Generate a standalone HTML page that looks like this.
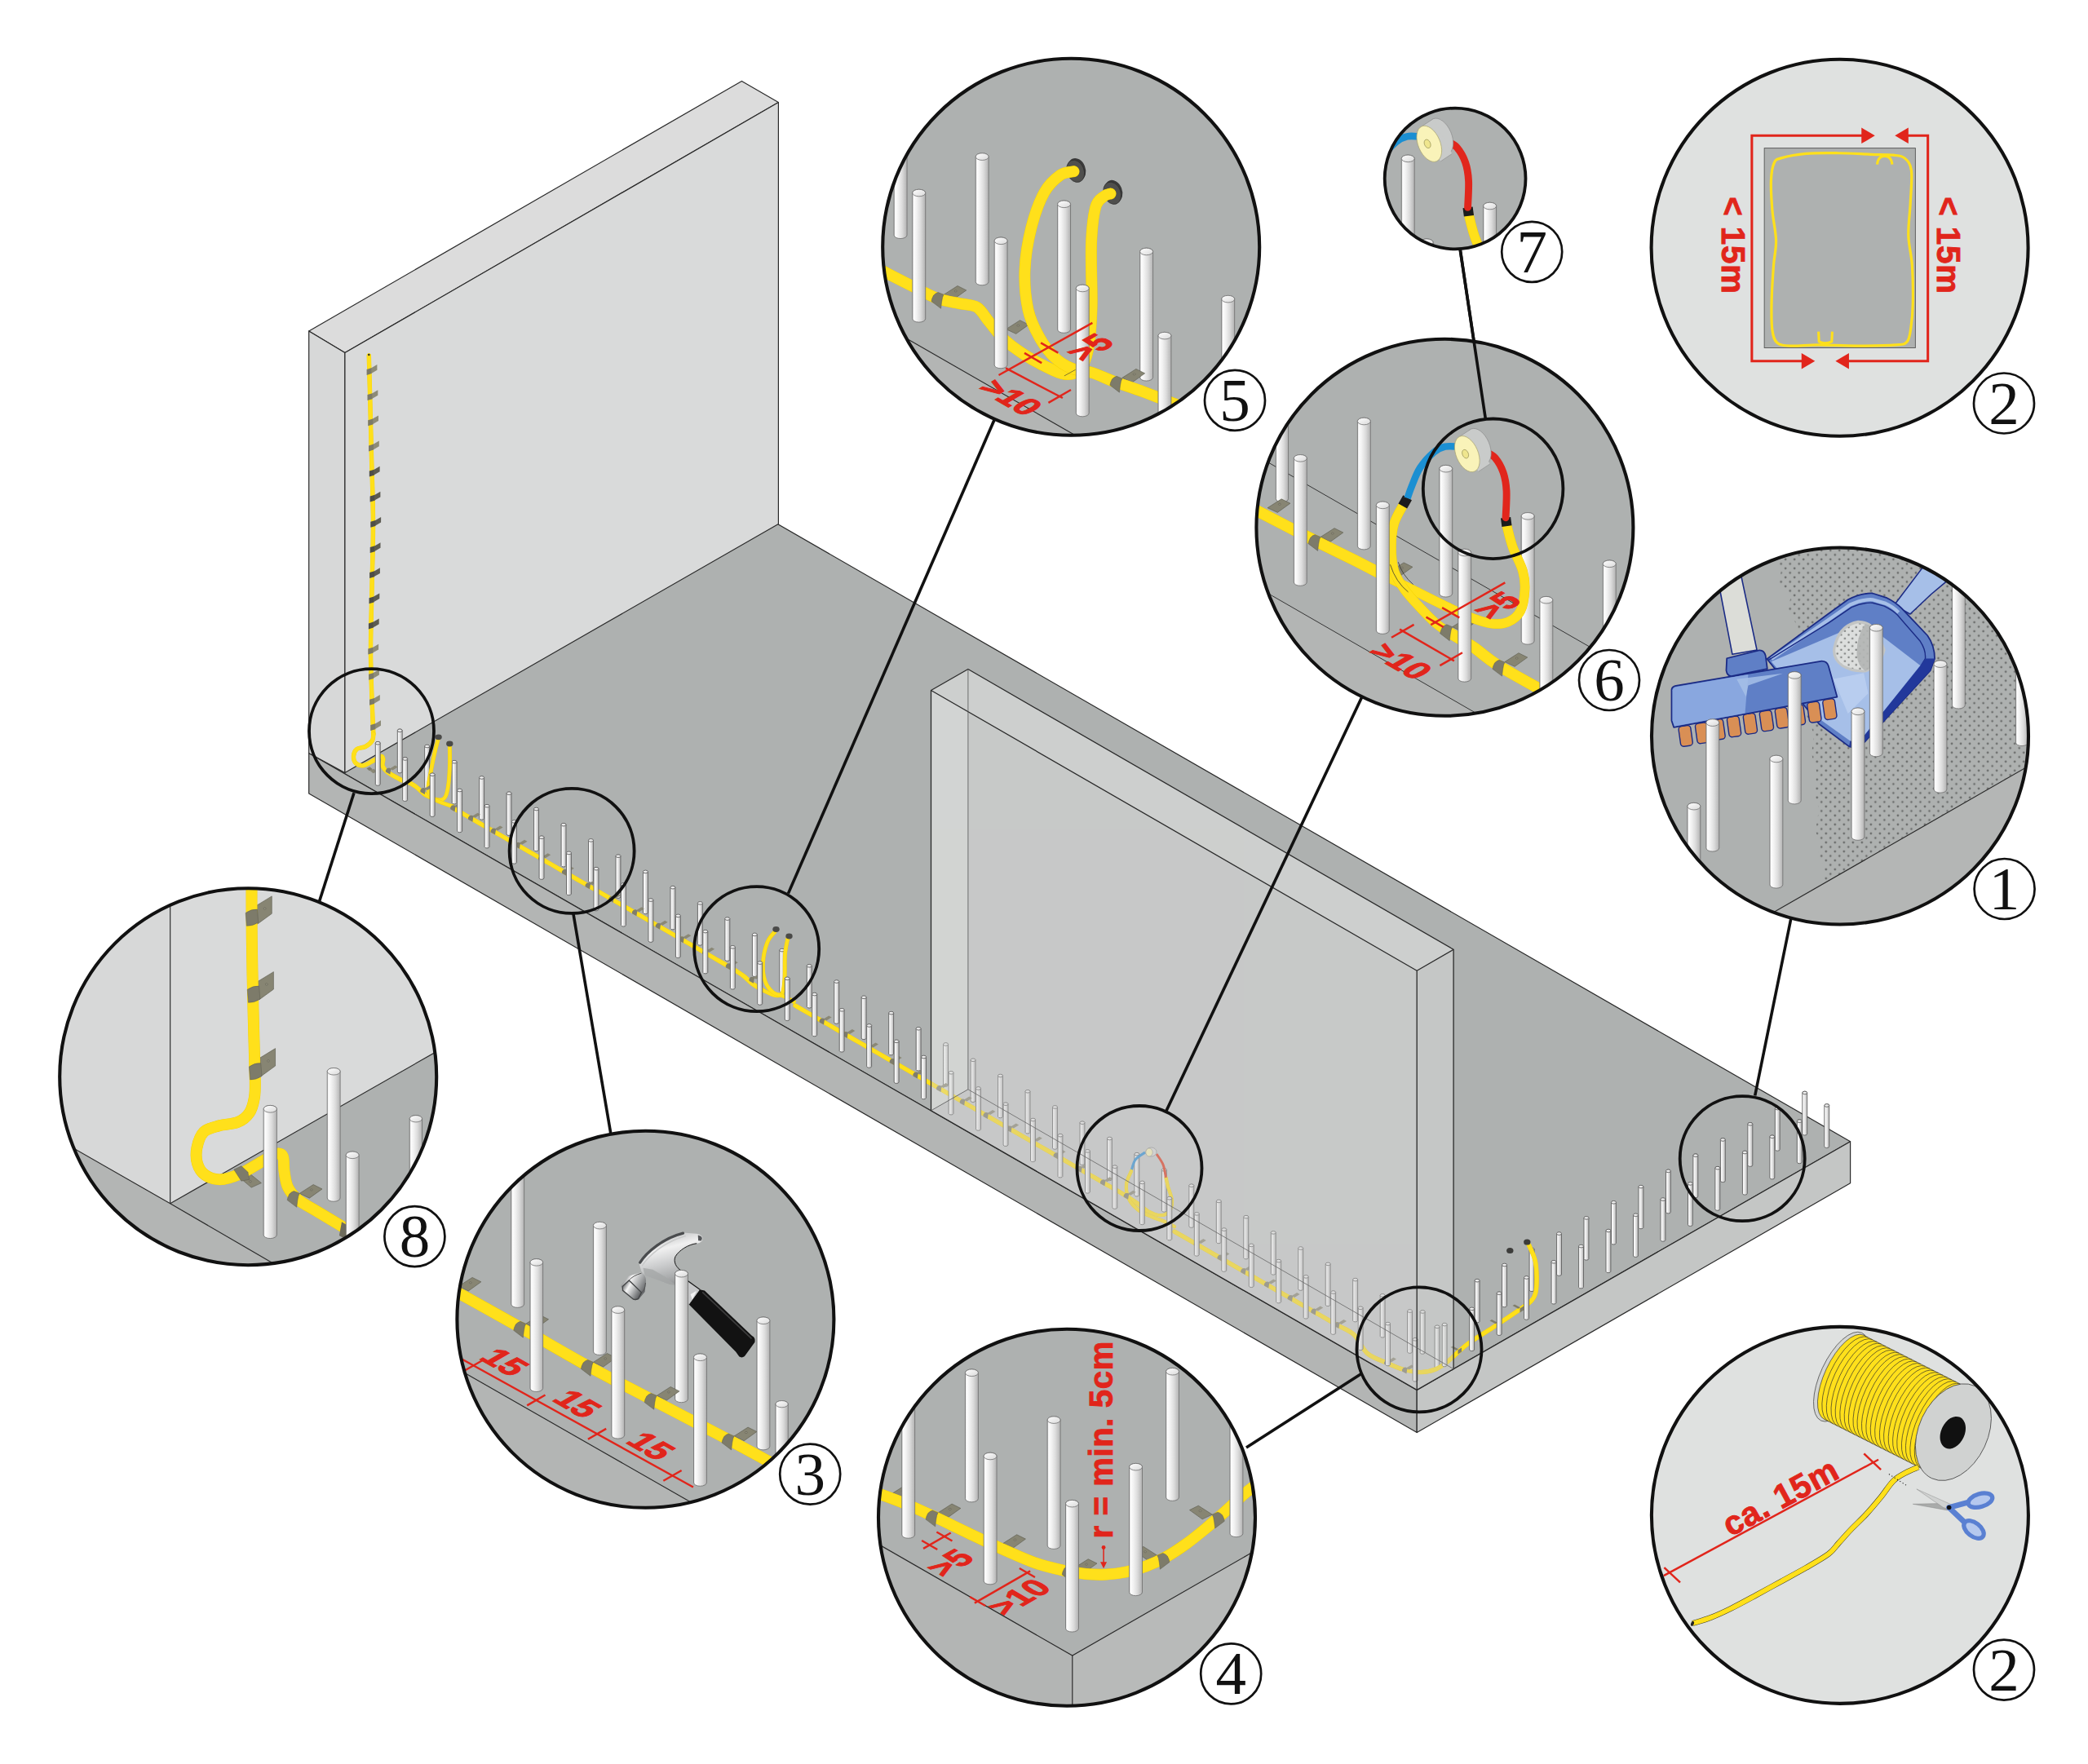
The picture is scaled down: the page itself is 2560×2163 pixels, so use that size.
<!DOCTYPE html>
<html><head><meta charset="utf-8"><title>Installation diagram</title>
<style>html,body{margin:0;padding:0;background:#fff;}body{width:2560px;height:2163px;overflow:hidden;font-family:"Liberation Sans",sans-serif;}</style></head>
<body>
<svg width="2560" height="2163" viewBox="0 0 2560 2163" style="display:block">
<defs>
<linearGradient id="rg" x1="0" x2="1" y1="0" y2="0">
<stop offset="0" stop-color="#d2d2d2"/><stop offset="0.1" stop-color="#fdfdfd"/><stop offset="0.32" stop-color="#f2f2f2"/><stop offset="0.62" stop-color="#dcdcdc"/><stop offset="1" stop-color="#b2b2b2"/>
</linearGradient>
<linearGradient id="rt" x1="0" x2="1" y1="0" y2="1">
<stop offset="0" stop-color="#ffffff"/><stop offset="1" stop-color="#d9d9d9"/>
</linearGradient>
<pattern id="dots" width="13" height="13" patternUnits="userSpaceOnUse" patternTransform="rotate(30)">
<rect width="13" height="13" fill="#bfc2c1"/><circle cx="3" cy="3" r="1.9" fill="#7c7e7d"/><circle cx="9.5" cy="9.5" r="1.9" fill="#7c7e7d"/>
</pattern>
<pattern id="dots2" width="11" height="11" patternUnits="userSpaceOnUse" patternTransform="rotate(30)">
<rect width="11" height="11" fill="#dcdedd"/><circle cx="3" cy="3" r="1.5" fill="#8a8c8b"/><circle cx="8.5" cy="8.5" r="1.5" fill="#8a8c8b"/>
</pattern>
<clipPath id="cp8"><circle cx="304.2" cy="1320.2" r="231"/></clipPath>
<clipPath id="cp3"><circle cx="791.4" cy="1617.8" r="231"/></clipPath>
<clipPath id="cp4"><circle cx="1308" cy="1860.8" r="231"/></clipPath>
<clipPath id="cp5"><circle cx="1313.2" cy="302.8" r="231"/></clipPath>
<clipPath id="cp6"><circle cx="1771.4" cy="646.8" r="231"/></clipPath>
<clipPath id="cp2t"><circle cx="2255.6" cy="303.8" r="231"/></clipPath>
<clipPath id="cp1"><circle cx="2256" cy="902.5" r="231"/></clipPath>
<clipPath id="cp2b"><circle cx="2255.9" cy="1857.9" r="231"/></clipPath>
<clipPath id="cp7"><circle cx="1784.1" cy="219" r="86.4"/></clipPath>
</defs>
<polygon points="378.7,923.5 1737.2,1704.4 2268.6,1399.8 910,617.6" fill="#aeb1b0" stroke="#2a2a2a" stroke-width="1.2" stroke-linejoin="round" />
<polygon points="378.7,923.5 1737.2,1704.4 1737.2,1756.5 378.7,972.9" fill="#b3b5b4" stroke="#2a2a2a" stroke-width="1.2" stroke-linejoin="round" />
<polygon points="1737.2,1704.4 2268.6,1399.8 2268.6,1450.8 1737.2,1756.5" fill="#c4c6c5" stroke="#2a2a2a" stroke-width="1.2" stroke-linejoin="round" />
<polygon points="378.7,405.9 909.4,99.4 954.4,125.6 422.9,432.5" fill="#dcdcdc" stroke="#2a2a2a" stroke-width="1.2" stroke-linejoin="round" />
<polygon points="378.7,405.9 422.9,432.5 422.9,947.5 378.7,923.5" fill="#d7d8d8" stroke="#2a2a2a" stroke-width="1.2" stroke-linejoin="round" />
<polygon points="422.9,432.5 954.4,125.6 954.4,642.4 422.9,947.5" fill="#d9dada" stroke="#2a2a2a" stroke-width="1.2" stroke-linejoin="round" />
<path d="M452.3,436C452.5,443.3 453,459.3 453.5,480C454,500.7 454.8,533.3 455.5,560C456.2,586.7 457.4,613.3 457.5,640C457.6,666.7 456.5,693.3 456,720C455.5,746.7 454.4,775 454.5,800C454.6,825 455.9,853.3 456.5,870C457.1,886.7 457.6,895 457.8,900" fill="none" stroke="#f7d200" stroke-width="5.4" stroke-linecap="round" stroke-linejoin="round" /><path d="M452.3,436C452.5,443.3 453,459.3 453.5,480C454,500.7 454.8,533.3 455.5,560C456.2,586.7 457.4,613.3 457.5,640C457.6,666.7 456.5,693.3 456,720C455.5,746.7 454.4,775 454.5,800C454.6,825 455.9,853.3 456.5,870C457.1,886.7 457.6,895 457.8,900" fill="none" stroke="#ffe01b" stroke-width="4.8" stroke-linecap="round" stroke-linejoin="round" />
<circle cx="452.3" cy="435" r="1.2" fill="#222"/>
<g transform="translate(452.8,455.3)"><polygon points="2.4,-4 9.6,-8.2 9.6,-1.6 2.4,2.6" fill="#8d8b78"/><polygon points="-3.2,-2.4 2.8,-4.2 2.8,2.8 -3.2,4.6" fill="#7c7a68"/></g>
<g transform="translate(453.7,486.4)"><polygon points="2.4,-4 9.6,-8.2 9.6,-1.6 2.4,2.6" fill="#8d8b78"/><polygon points="-3.2,-2.4 2.8,-4.2 2.8,2.8 -3.2,4.6" fill="#7c7a68"/></g>
<g transform="translate(454.4,517.6)"><polygon points="2.4,-4 9.6,-8.2 9.6,-1.6 2.4,2.6" fill="#8d8b78"/><polygon points="-3.2,-2.4 2.8,-4.2 2.8,2.8 -3.2,4.6" fill="#7c7a68"/></g>
<g transform="translate(455.2,548.8)"><polygon points="2.4,-4 9.6,-8.2 9.6,-1.6 2.4,2.6" fill="#8d8b78"/><polygon points="-3.2,-2.4 2.8,-4.2 2.8,2.8 -3.2,4.6" fill="#7c7a68"/></g>
<g transform="translate(456,579.9)"><polygon points="2.4,-4 9.6,-8.2 9.6,-1.6 2.4,2.6" fill="#5c5b52"/><polygon points="-3.2,-2.4 2.8,-4.2 2.8,2.8 -3.2,4.6" fill="#4e4e48"/></g>
<g transform="translate(456.8,611)"><polygon points="2.4,-4 9.6,-8.2 9.6,-1.6 2.4,2.6" fill="#5c5b52"/><polygon points="-3.2,-2.4 2.8,-4.2 2.8,2.8 -3.2,4.6" fill="#4e4e48"/></g>
<g transform="translate(457.5,642.2)"><polygon points="2.4,-4 9.6,-8.2 9.6,-1.6 2.4,2.6" fill="#5c5b52"/><polygon points="-3.2,-2.4 2.8,-4.2 2.8,2.8 -3.2,4.6" fill="#4e4e48"/></g>
<g transform="translate(456.9,673.4)"><polygon points="2.4,-4 9.6,-8.2 9.6,-1.6 2.4,2.6" fill="#5c5b52"/><polygon points="-3.2,-2.4 2.8,-4.2 2.8,2.8 -3.2,4.6" fill="#4e4e48"/></g>
<g transform="translate(456.3,704.5)"><polygon points="2.4,-4 9.6,-8.2 9.6,-1.6 2.4,2.6" fill="#5c5b52"/><polygon points="-3.2,-2.4 2.8,-4.2 2.8,2.8 -3.2,4.6" fill="#4e4e48"/></g>
<g transform="translate(455.7,735.6)"><polygon points="2.4,-4 9.6,-8.2 9.6,-1.6 2.4,2.6" fill="#5c5b52"/><polygon points="-3.2,-2.4 2.8,-4.2 2.8,2.8 -3.2,4.6" fill="#4e4e48"/></g>
<g transform="translate(455.1,766.8)"><polygon points="2.4,-4 9.6,-8.2 9.6,-1.6 2.4,2.6" fill="#5c5b52"/><polygon points="-3.2,-2.4 2.8,-4.2 2.8,2.8 -3.2,4.6" fill="#4e4e48"/></g>
<g transform="translate(454.5,798)"><polygon points="2.4,-4 9.6,-8.2 9.6,-1.6 2.4,2.6" fill="#8d8b78"/><polygon points="-3.2,-2.4 2.8,-4.2 2.8,2.8 -3.2,4.6" fill="#7c7a68"/></g>
<g transform="translate(455.3,829.1)"><polygon points="2.4,-4 9.6,-8.2 9.6,-1.6 2.4,2.6" fill="#8d8b78"/><polygon points="-3.2,-2.4 2.8,-4.2 2.8,2.8 -3.2,4.6" fill="#7c7a68"/></g>
<g transform="translate(456.2,860.2)"><polygon points="2.4,-4 9.6,-8.2 9.6,-1.6 2.4,2.6" fill="#8d8b78"/><polygon points="-3.2,-2.4 2.8,-4.2 2.8,2.8 -3.2,4.6" fill="#7c7a68"/></g>
<g transform="translate(457.4,891.4)"><polygon points="2.4,-4 9.6,-8.2 9.6,-1.6 2.4,2.6" fill="#8d8b78"/><polygon points="-3.2,-2.4 2.8,-4.2 2.8,2.8 -3.2,4.6" fill="#7c7a68"/></g>
<g><path d="M487.3,895.8 L487.3,946 A2.9,1.8 0 0 0 493.2,946 L493.2,895.8 A2.9,1.8 0 0 0 487.3,895.8 Z" fill="url(#rg)" stroke="#5c5c5c" stroke-width="0.85"/><ellipse cx="490.2" cy="895.8" rx="2.9" ry="1.8" fill="url(#rt)" stroke="#5c5c5c" stroke-width="0.85"/></g>
<g><path d="M520.7,915 L520.7,965.3 A3,1.8 0 0 0 526.6,965.3 L526.6,915 A3,1.8 0 0 0 520.7,915 Z" fill="url(#rg)" stroke="#5c5c5c" stroke-width="0.85"/><ellipse cx="523.7" cy="915" rx="3" ry="1.8" fill="url(#rt)" stroke="#5c5c5c" stroke-width="0.85"/></g>
<g><path d="M554.2,934.2 L554.2,984.5 A3,1.8 0 0 0 560.1,984.5 L560.1,934.2 A3,1.8 0 0 0 554.2,934.2 Z" fill="url(#rg)" stroke="#5c5c5c" stroke-width="0.85"/><ellipse cx="557.1" cy="934.2" rx="3" ry="1.8" fill="url(#rt)" stroke="#5c5c5c" stroke-width="0.85"/></g>
<g><path d="M587.7,953.5 L587.7,1003.7 A3,1.8 0 0 0 593.6,1003.7 L593.6,953.5 A3,1.8 0 0 0 587.7,953.5 Z" fill="url(#rg)" stroke="#5c5c5c" stroke-width="0.85"/><ellipse cx="590.6" cy="953.5" rx="3" ry="1.8" fill="url(#rt)" stroke="#5c5c5c" stroke-width="0.85"/></g>
<g><path d="M621.1,972.7 L621.1,1023 A3,1.8 0 0 0 627,1023 L627,972.7 A3,1.8 0 0 0 621.1,972.7 Z" fill="url(#rg)" stroke="#5c5c5c" stroke-width="0.85"/><ellipse cx="624.1" cy="972.7" rx="3" ry="1.8" fill="url(#rt)" stroke="#5c5c5c" stroke-width="0.85"/></g>
<g><path d="M654.6,992 L654.6,1042.2 A3,1.8 0 0 0 660.5,1042.2 L660.5,992 A3,1.8 0 0 0 654.6,992 Z" fill="url(#rg)" stroke="#5c5c5c" stroke-width="0.85"/><ellipse cx="657.5" cy="992" rx="3" ry="1.8" fill="url(#rt)" stroke="#5c5c5c" stroke-width="0.85"/></g>
<g><path d="M688.1,1011.2 L688.1,1061.5 A3,1.8 0 0 0 694,1061.5 L694,1011.2 A3,1.8 0 0 0 688.1,1011.2 Z" fill="url(#rg)" stroke="#5c5c5c" stroke-width="0.85"/><ellipse cx="691" cy="1011.2" rx="3" ry="1.8" fill="url(#rt)" stroke="#5c5c5c" stroke-width="0.85"/></g>
<g><path d="M721.5,1030.4 L721.5,1080.7 A3,1.8 0 0 0 727.4,1080.7 L727.4,1030.4 A3,1.8 0 0 0 721.5,1030.4 Z" fill="url(#rg)" stroke="#5c5c5c" stroke-width="0.85"/><ellipse cx="724.5" cy="1030.4" rx="3" ry="1.8" fill="url(#rt)" stroke="#5c5c5c" stroke-width="0.85"/></g>
<g><path d="M755,1049.7 L755,1099.9 A3,1.8 0 0 0 760.9,1099.9 L760.9,1049.7 A3,1.8 0 0 0 755,1049.7 Z" fill="url(#rg)" stroke="#5c5c5c" stroke-width="0.85"/><ellipse cx="758" cy="1049.7" rx="3" ry="1.8" fill="url(#rt)" stroke="#5c5c5c" stroke-width="0.85"/></g>
<g><path d="M788.5,1068.9 L788.5,1119.2 A3,1.8 0 0 0 794.4,1119.2 L794.4,1068.9 A3,1.8 0 0 0 788.5,1068.9 Z" fill="url(#rg)" stroke="#5c5c5c" stroke-width="0.85"/><ellipse cx="791.4" cy="1068.9" rx="3" ry="1.8" fill="url(#rt)" stroke="#5c5c5c" stroke-width="0.85"/></g>
<g><path d="M822,1088.2 L822,1138.4 A3,1.8 0 0 0 827.9,1138.4 L827.9,1088.2 A3,1.8 0 0 0 822,1088.2 Z" fill="url(#rg)" stroke="#5c5c5c" stroke-width="0.85"/><ellipse cx="824.9" cy="1088.2" rx="3" ry="1.8" fill="url(#rt)" stroke="#5c5c5c" stroke-width="0.85"/></g>
<g><path d="M855.4,1107.4 L855.4,1157.7 A3,1.8 0 0 0 861.3,1157.7 L861.3,1107.4 A3,1.8 0 0 0 855.4,1107.4 Z" fill="url(#rg)" stroke="#5c5c5c" stroke-width="0.85"/><ellipse cx="858.4" cy="1107.4" rx="3" ry="1.8" fill="url(#rt)" stroke="#5c5c5c" stroke-width="0.85"/></g>
<g><path d="M888.9,1126.6 L888.9,1176.9 A3,1.8 0 0 0 894.8,1176.9 L894.8,1126.6 A3,1.8 0 0 0 888.9,1126.6 Z" fill="url(#rg)" stroke="#5c5c5c" stroke-width="0.85"/><ellipse cx="891.8" cy="1126.6" rx="3" ry="1.8" fill="url(#rt)" stroke="#5c5c5c" stroke-width="0.85"/></g>
<g><path d="M922.4,1145.9 L922.4,1196.1 A3,1.8 0 0 0 928.3,1196.1 L928.3,1145.9 A3,1.8 0 0 0 922.4,1145.9 Z" fill="url(#rg)" stroke="#5c5c5c" stroke-width="0.85"/><ellipse cx="925.3" cy="1145.9" rx="3" ry="1.8" fill="url(#rt)" stroke="#5c5c5c" stroke-width="0.85"/></g>
<g><path d="M955.8,1165.1 L955.8,1215.4 A3,1.8 0 0 0 961.7,1215.4 L961.7,1165.1 A3,1.8 0 0 0 955.8,1165.1 Z" fill="url(#rg)" stroke="#5c5c5c" stroke-width="0.85"/><ellipse cx="958.8" cy="1165.1" rx="3" ry="1.8" fill="url(#rt)" stroke="#5c5c5c" stroke-width="0.85"/></g>
<g><path d="M989.3,1184.3 L989.3,1234.6 A3,1.8 0 0 0 995.2,1234.6 L995.2,1184.3 A3,1.8 0 0 0 989.3,1184.3 Z" fill="url(#rg)" stroke="#5c5c5c" stroke-width="0.85"/><ellipse cx="992.2" cy="1184.3" rx="3" ry="1.8" fill="url(#rt)" stroke="#5c5c5c" stroke-width="0.85"/></g>
<g><path d="M1022.8,1203.6 L1022.8,1253.8 A3,1.8 0 0 0 1028.7,1253.8 L1028.7,1203.6 A3,1.8 0 0 0 1022.8,1203.6 Z" fill="url(#rg)" stroke="#5c5c5c" stroke-width="0.85"/><ellipse cx="1025.7" cy="1203.6" rx="3" ry="1.8" fill="url(#rt)" stroke="#5c5c5c" stroke-width="0.85"/></g>
<g><path d="M1056.2,1222.8 L1056.2,1273.1 A3,1.8 0 0 0 1062.1,1273.1 L1062.1,1222.8 A3,1.8 0 0 0 1056.2,1222.8 Z" fill="url(#rg)" stroke="#5c5c5c" stroke-width="0.85"/><ellipse cx="1059.2" cy="1222.8" rx="3" ry="1.8" fill="url(#rt)" stroke="#5c5c5c" stroke-width="0.85"/></g>
<g><path d="M1089.7,1242.1 L1089.7,1292.3 A3,1.8 0 0 0 1095.6,1292.3 L1095.6,1242.1 A3,1.8 0 0 0 1089.7,1242.1 Z" fill="url(#rg)" stroke="#5c5c5c" stroke-width="0.85"/><ellipse cx="1092.7" cy="1242.1" rx="3" ry="1.8" fill="url(#rt)" stroke="#5c5c5c" stroke-width="0.85"/></g>
<g><path d="M1123.2,1261.3 L1123.2,1311.6 A3,1.8 0 0 0 1129.1,1311.6 L1129.1,1261.3 A3,1.8 0 0 0 1123.2,1261.3 Z" fill="url(#rg)" stroke="#5c5c5c" stroke-width="0.85"/><ellipse cx="1126.1" cy="1261.3" rx="3" ry="1.8" fill="url(#rt)" stroke="#5c5c5c" stroke-width="0.85"/></g>
<g><path d="M1156.6,1280.5 L1156.6,1330.8 A3,1.8 0 0 0 1162.5,1330.8 L1162.5,1280.5 A3,1.8 0 0 0 1156.6,1280.5 Z" fill="url(#rg)" stroke="#5c5c5c" stroke-width="0.85"/><ellipse cx="1159.6" cy="1280.5" rx="3" ry="1.8" fill="url(#rt)" stroke="#5c5c5c" stroke-width="0.85"/></g>
<g><path d="M1774.7,1589.4 L1774.7,1639.6 A3,1.8 0 0 0 1780.6,1639.6 L1780.6,1589.4 A3,1.8 0 0 0 1774.7,1589.4 Z" fill="url(#rg)" stroke="#5c5c5c" stroke-width="0.85"/><ellipse cx="1777.6" cy="1589.4" rx="3" ry="1.8" fill="url(#rt)" stroke="#5c5c5c" stroke-width="0.85"/></g>
<g><path d="M1808.2,1570.2 L1808.2,1620.4 A3,1.8 0 0 0 1814.1,1620.4 L1814.1,1570.2 A3,1.8 0 0 0 1808.2,1570.2 Z" fill="url(#rg)" stroke="#5c5c5c" stroke-width="0.85"/><ellipse cx="1811.1" cy="1570.2" rx="3" ry="1.8" fill="url(#rt)" stroke="#5c5c5c" stroke-width="0.85"/></g>
<g><path d="M1841.6,1551 L1841.6,1601.3 A3,1.8 0 0 0 1847.5,1601.3 L1847.5,1551 A3,1.8 0 0 0 1841.6,1551 Z" fill="url(#rg)" stroke="#5c5c5c" stroke-width="0.85"/><ellipse cx="1844.6" cy="1551" rx="3" ry="1.8" fill="url(#rt)" stroke="#5c5c5c" stroke-width="0.85"/></g>
<g><path d="M1875.1,1531.8 L1875.1,1582.1 A3,1.8 0 0 0 1881,1582.1 L1881,1531.8 A3,1.8 0 0 0 1875.1,1531.8 Z" fill="url(#rg)" stroke="#5c5c5c" stroke-width="0.85"/><ellipse cx="1878" cy="1531.8" rx="3" ry="1.8" fill="url(#rt)" stroke="#5c5c5c" stroke-width="0.85"/></g>
<g><path d="M1908.6,1512.6 L1908.6,1562.9 A3,1.8 0 0 0 1914.5,1562.9 L1914.5,1512.6 A3,1.8 0 0 0 1908.6,1512.6 Z" fill="url(#rg)" stroke="#5c5c5c" stroke-width="0.85"/><ellipse cx="1911.5" cy="1512.6" rx="3" ry="1.8" fill="url(#rt)" stroke="#5c5c5c" stroke-width="0.85"/></g>
<g><path d="M1942,1493.4 L1942,1543.7 A3,1.8 0 0 0 1947.9,1543.7 L1947.9,1493.4 A3,1.8 0 0 0 1942,1493.4 Z" fill="url(#rg)" stroke="#5c5c5c" stroke-width="0.85"/><ellipse cx="1945" cy="1493.4" rx="3" ry="1.8" fill="url(#rt)" stroke="#5c5c5c" stroke-width="0.85"/></g>
<g><path d="M1975.5,1474.3 L1975.5,1524.5 A3,1.8 0 0 0 1981.4,1524.5 L1981.4,1474.3 A3,1.8 0 0 0 1975.5,1474.3 Z" fill="url(#rg)" stroke="#5c5c5c" stroke-width="0.85"/><ellipse cx="1978.5" cy="1474.3" rx="3" ry="1.8" fill="url(#rt)" stroke="#5c5c5c" stroke-width="0.85"/></g>
<g><path d="M2009,1455.1 L2009,1505.3 A3,1.8 0 0 0 2014.9,1505.3 L2014.9,1455.1 A3,1.8 0 0 0 2009,1455.1 Z" fill="url(#rg)" stroke="#5c5c5c" stroke-width="0.85"/><ellipse cx="2011.9" cy="1455.1" rx="3" ry="1.8" fill="url(#rt)" stroke="#5c5c5c" stroke-width="0.85"/></g>
<g><path d="M2042.5,1435.9 L2042.5,1486.1 A2.9,1.8 0 0 0 2048.3,1486.1 L2048.3,1435.9 A2.9,1.8 0 0 0 2042.5,1435.9 Z" fill="url(#rg)" stroke="#5c5c5c" stroke-width="0.85"/><ellipse cx="2045.4" cy="1435.9" rx="2.9" ry="1.8" fill="url(#rt)" stroke="#5c5c5c" stroke-width="0.85"/></g>
<g><path d="M2075.9,1416.7 L2075.9,1467 A2.9,1.8 0 0 0 2081.8,1467 L2081.8,1416.7 A2.9,1.8 0 0 0 2075.9,1416.7 Z" fill="url(#rg)" stroke="#5c5c5c" stroke-width="0.85"/><ellipse cx="2078.9" cy="1416.7" rx="2.9" ry="1.8" fill="url(#rt)" stroke="#5c5c5c" stroke-width="0.85"/></g>
<g><path d="M2109.4,1397.5 L2109.4,1447.8 A2.9,1.8 0 0 0 2115.3,1447.8 L2115.3,1397.5 A2.9,1.8 0 0 0 2109.4,1397.5 Z" fill="url(#rg)" stroke="#5c5c5c" stroke-width="0.85"/><ellipse cx="2112.3" cy="1397.5" rx="2.9" ry="1.8" fill="url(#rt)" stroke="#5c5c5c" stroke-width="0.85"/></g>
<g><path d="M2142.9,1378.3 L2142.9,1428.6 A2.9,1.8 0 0 0 2148.8,1428.6 L2148.8,1378.3 A2.9,1.8 0 0 0 2142.9,1378.3 Z" fill="url(#rg)" stroke="#5c5c5c" stroke-width="0.85"/><ellipse cx="2145.8" cy="1378.3" rx="2.9" ry="1.8" fill="url(#rt)" stroke="#5c5c5c" stroke-width="0.85"/></g>
<g><path d="M2176.3,1359.1 L2176.3,1409.4 A2.9,1.8 0 0 0 2182.2,1409.4 L2182.2,1359.1 A2.9,1.8 0 0 0 2176.3,1359.1 Z" fill="url(#rg)" stroke="#5c5c5c" stroke-width="0.85"/><ellipse cx="2179.3" cy="1359.1" rx="2.9" ry="1.8" fill="url(#rt)" stroke="#5c5c5c" stroke-width="0.85"/></g>
<g><path d="M2209.8,1340 L2209.8,1390.2 A2.9,1.8 0 0 0 2215.7,1390.2 L2215.7,1340 A2.9,1.8 0 0 0 2209.8,1340 Z" fill="url(#rg)" stroke="#5c5c5c" stroke-width="0.85"/><ellipse cx="2212.8" cy="1340" rx="2.9" ry="1.8" fill="url(#rt)" stroke="#5c5c5c" stroke-width="0.85"/></g>
<path d="M457.8,900C457.6,901.3 458.1,905.4 456.5,908C454.9,910.6 451.2,913.8 448,915.5C444.8,917.2 439.9,916.6 437.5,918.5C435.1,920.4 433.7,924.1 433.5,927C433.3,929.9 434.4,934.1 436.5,936C438.6,937.9 442.4,939.1 446,938.5C449.6,937.9 454.5,934.3 458,932.5C461.5,930.7 465,927.8 467,927.5C469,927.2 469.5,929.1 469.8,931C470.1,932.9 468.1,936.3 469,939C469.9,941.7 471.7,944.1 475.5,947C479.3,949.9 489.2,954.9 492,956.5" fill="none" stroke="#f7d200" stroke-width="5.4" stroke-linecap="round" stroke-linejoin="round" /><path d="M457.8,900C457.6,901.3 458.1,905.4 456.5,908C454.9,910.6 451.2,913.8 448,915.5C444.8,917.2 439.9,916.6 437.5,918.5C435.1,920.4 433.7,924.1 433.5,927C433.3,929.9 434.4,934.1 436.5,936C438.6,937.9 442.4,939.1 446,938.5C449.6,937.9 454.5,934.3 458,932.5C461.5,930.7 465,927.8 467,927.5C469,927.2 469.5,929.1 469.8,931C470.1,932.9 468.1,936.3 469,939C469.9,941.7 471.7,944.1 475.5,947C479.3,949.9 489.2,954.9 492,956.5" fill="none" stroke="#ffe01b" stroke-width="4.8" stroke-linecap="round" stroke-linejoin="round" />
<path d="M492,956.5C493.3,956.9 497,957.5 500,958.9C503,960.2 506.7,962.2 510,964.6C513.3,967 517.2,971.4 520,973.5C522.8,975.6 525.8,976.4 527,977" fill="none" stroke="#f7d200" stroke-width="5.4" stroke-linecap="round" stroke-linejoin="round" /><path d="M492,956.5C493.3,956.9 497,957.5 500,958.9C503,960.2 506.7,962.2 510,964.6C513.3,967 517.2,971.4 520,973.5C522.8,975.6 525.8,976.4 527,977" fill="none" stroke="#ffe01b" stroke-width="4.8" stroke-linecap="round" stroke-linejoin="round" />
<path d="M515,969.5C517,970.8 522.8,975.6 527,977.5C531.2,979.4 536.8,981.2 540,981C543.2,980.8 544.8,979.5 546.5,976C548.2,972.5 549.2,966.8 550,960C550.8,953.2 551.3,942.5 551.5,935C551.7,927.5 551.3,918.3 551.3,915" fill="none" stroke="#f7d200" stroke-width="4.8" stroke-linecap="butt" stroke-linejoin="round" /><path d="M515,969.5C517,970.8 522.8,975.6 527,977.5C531.2,979.4 536.8,981.2 540,981C543.2,980.8 544.8,979.5 546.5,976C548.2,972.5 549.2,966.8 550,960C550.8,953.2 551.3,942.5 551.5,935C551.7,927.5 551.3,918.3 551.3,915" fill="none" stroke="#ffe01b" stroke-width="4" stroke-linecap="butt" stroke-linejoin="round" />
<path d="M537.2,906.5C536.4,909.6 534.1,917.8 532.5,925C530.9,932.2 528.8,942.8 527.5,950C526.2,957.2 524.6,963.3 525,968C525.4,972.7 527.3,975.3 530,978C532.7,980.7 536.7,982.2 541,984C545.3,985.8 553.5,988.2 556,989" fill="none" stroke="#f7d200" stroke-width="4.8" stroke-linecap="butt" stroke-linejoin="round" /><path d="M537.2,906.5C536.4,909.6 534.1,917.8 532.5,925C530.9,932.2 528.8,942.8 527.5,950C526.2,957.2 524.6,963.3 525,968C525.4,972.7 527.3,975.3 530,978C532.7,980.7 536.7,982.2 541,984C545.3,985.8 553.5,988.2 556,989" fill="none" stroke="#ffe01b" stroke-width="4" stroke-linecap="butt" stroke-linejoin="round" />
<ellipse cx="537.6" cy="903.8" rx="4.2" ry="3.4" fill="#4a4a48"/>
<ellipse cx="551.3" cy="912" rx="4.2" ry="3.4" fill="#4a4a48"/>
<path d="M556,991C559.3,993 569.3,998.7 576,1002.5C582.7,1006.4 589.3,1010.2 596,1014C602.7,1017.9 609.3,1021.7 616,1025.5C622.7,1029.4 629.3,1033.2 636,1037C642.7,1040.9 649.3,1044.7 656,1048.5C662.7,1052.4 669.3,1056.2 676,1060C682.7,1063.9 689.3,1067.7 696,1071.5C702.7,1075.4 709.3,1079.2 716,1083C722.7,1086.8 729.3,1090.7 736,1094.5C742.7,1098.3 749.3,1102.2 756,1106C762.7,1109.8 769.3,1113.7 776,1117.5C782.7,1121.3 789.3,1125.2 796,1129C802.7,1132.8 809.3,1136.7 816,1140.5C822.7,1144.3 829.3,1148.2 836,1152C842.7,1155.8 849.3,1159.7 856,1163.5C862.7,1167.3 869.3,1171.2 876,1175C882.7,1178.8 890,1182.8 896,1186.5C902,1190.1 907.7,1193.7 912,1197C916.3,1200.3 918.2,1203.2 922,1206C925.8,1208.8 932.8,1212.7 935,1214" fill="none" stroke="#f7d200" stroke-width="5.4" stroke-linecap="round" stroke-linejoin="round" /><path d="M556,991C559.3,993 569.3,998.7 576,1002.5C582.7,1006.4 589.3,1010.2 596,1014C602.7,1017.9 609.3,1021.7 616,1025.5C622.7,1029.4 629.3,1033.2 636,1037C642.7,1040.9 649.3,1044.7 656,1048.5C662.7,1052.4 669.3,1056.2 676,1060C682.7,1063.9 689.3,1067.7 696,1071.5C702.7,1075.4 709.3,1079.2 716,1083C722.7,1086.8 729.3,1090.7 736,1094.5C742.7,1098.3 749.3,1102.2 756,1106C762.7,1109.8 769.3,1113.7 776,1117.5C782.7,1121.3 789.3,1125.2 796,1129C802.7,1132.8 809.3,1136.7 816,1140.5C822.7,1144.3 829.3,1148.2 836,1152C842.7,1155.8 849.3,1159.7 856,1163.5C862.7,1167.3 869.3,1171.2 876,1175C882.7,1178.8 890,1182.8 896,1186.5C902,1190.1 907.7,1193.7 912,1197C916.3,1200.3 918.2,1203.2 922,1206C925.8,1208.8 932.8,1212.7 935,1214" fill="none" stroke="#ffe01b" stroke-width="4.8" stroke-linecap="round" stroke-linejoin="round" />
<path d="M935,1214C937.5,1215.1 946,1219.8 950,1220.5C954,1221.2 957,1221.4 959,1218C961,1214.6 961.4,1208 962,1200C962.6,1192 961.8,1178.3 962.5,1170C963.2,1161.7 965.4,1153.3 966,1150" fill="none" stroke="#f7d200" stroke-width="4.8" stroke-linecap="butt" stroke-linejoin="round" /><path d="M935,1214C937.5,1215.1 946,1219.8 950,1220.5C954,1221.2 957,1221.4 959,1218C961,1214.6 961.4,1208 962,1200C962.6,1192 961.8,1178.3 962.5,1170C963.2,1161.7 965.4,1153.3 966,1150" fill="none" stroke="#ffe01b" stroke-width="4" stroke-linecap="butt" stroke-linejoin="round" />
<path d="M950.5,1142C948.9,1144.2 943.5,1148.7 941,1155C938.5,1161.3 936,1172 935.5,1180C935,1188 935.9,1196.8 938,1203C940.1,1209.2 944,1213.8 948,1217C952,1220.2 957.5,1219.9 962,1222C966.5,1224.1 972.8,1228.2 975,1229.5" fill="none" stroke="#f7d200" stroke-width="4.8" stroke-linecap="butt" stroke-linejoin="round" /><path d="M950.5,1142C948.9,1144.2 943.5,1148.7 941,1155C938.5,1161.3 936,1172 935.5,1180C935,1188 935.9,1196.8 938,1203C940.1,1209.2 944,1213.8 948,1217C952,1220.2 957.5,1219.9 962,1222C966.5,1224.1 972.8,1228.2 975,1229.5" fill="none" stroke="#ffe01b" stroke-width="4" stroke-linecap="butt" stroke-linejoin="round" />
<ellipse cx="951.5" cy="1139.5" rx="4.2" ry="3.4" fill="#4a4a48"/>
<ellipse cx="967.5" cy="1148" rx="4.2" ry="3.4" fill="#4a4a48"/>
<path d="M975,1233C978.3,1235 988.3,1240.7 995,1244.5C1001.7,1248.4 1008.3,1252.2 1015,1256C1021.7,1259.9 1028.3,1263.7 1035,1267.5C1041.7,1271.4 1048.3,1275.2 1055,1279C1061.7,1282.9 1068.3,1286.7 1075,1290.5C1081.7,1294.4 1088.3,1298.2 1095,1302C1101.7,1305.8 1108.3,1309.7 1115,1313.5C1121.7,1317.3 1128.3,1321.2 1135,1325C1141.7,1328.8 1148.3,1332.7 1155,1336.5C1161.7,1340.3 1168.3,1344.2 1175,1348C1181.7,1351.8 1188.3,1355.7 1195,1359.5C1201.7,1363.3 1208.3,1367.2 1215,1371C1221.7,1374.8 1228.3,1378.7 1235,1382.5C1241.7,1386.3 1248.3,1390.1 1255,1394C1261.7,1397.8 1268.3,1401.6 1275,1405.5C1281.7,1409.3 1288.3,1413.1 1295,1417C1301.7,1420.8 1308.3,1424.6 1315,1428.5C1321.7,1432.3 1328.3,1436.1 1335,1440C1341.7,1443.8 1348.3,1447.6 1355,1451.5C1361.7,1455.3 1368.3,1458.9 1375,1463C1381.7,1467 1390,1472.5 1395,1476C1400,1479.5 1403.3,1482.7 1405,1484" fill="none" stroke="#f7d200" stroke-width="5.4" stroke-linecap="round" stroke-linejoin="round" /><path d="M975,1233C978.3,1235 988.3,1240.7 995,1244.5C1001.7,1248.4 1008.3,1252.2 1015,1256C1021.7,1259.9 1028.3,1263.7 1035,1267.5C1041.7,1271.4 1048.3,1275.2 1055,1279C1061.7,1282.9 1068.3,1286.7 1075,1290.5C1081.7,1294.4 1088.3,1298.2 1095,1302C1101.7,1305.8 1108.3,1309.7 1115,1313.5C1121.7,1317.3 1128.3,1321.2 1135,1325C1141.7,1328.8 1148.3,1332.7 1155,1336.5C1161.7,1340.3 1168.3,1344.2 1175,1348C1181.7,1351.8 1188.3,1355.7 1195,1359.5C1201.7,1363.3 1208.3,1367.2 1215,1371C1221.7,1374.8 1228.3,1378.7 1235,1382.5C1241.7,1386.3 1248.3,1390.1 1255,1394C1261.7,1397.8 1268.3,1401.6 1275,1405.5C1281.7,1409.3 1288.3,1413.1 1295,1417C1301.7,1420.8 1308.3,1424.6 1315,1428.5C1321.7,1432.3 1328.3,1436.1 1335,1440C1341.7,1443.8 1348.3,1447.6 1355,1451.5C1361.7,1455.3 1368.3,1458.9 1375,1463C1381.7,1467 1390,1472.5 1395,1476C1400,1479.5 1403.3,1482.7 1405,1484" fill="none" stroke="#ffe01b" stroke-width="4.8" stroke-linecap="round" stroke-linejoin="round" />
<path d="M1405,1484C1407.5,1485 1415.5,1489.5 1420,1490C1424.5,1490.5 1429.2,1489.8 1432,1487C1434.8,1484.2 1437,1478.3 1437,1473C1437,1467.7 1433.2,1459.8 1432,1455C1430.8,1450.2 1429.9,1445.8 1429.5,1444" fill="none" stroke="#f7d200" stroke-width="4.2" stroke-linecap="round" stroke-linejoin="round" /><path d="M1405,1484C1407.5,1485 1415.5,1489.5 1420,1490C1424.5,1490.5 1429.2,1489.8 1432,1487C1434.8,1484.2 1437,1478.3 1437,1473C1437,1467.7 1433.2,1459.8 1432,1455C1430.8,1450.2 1429.9,1445.8 1429.5,1444" fill="none" stroke="#ffe01b" stroke-width="3.6" stroke-linecap="round" stroke-linejoin="round" />
<path d="M1429.5,1444C1428.9,1441.3 1427.9,1432.8 1426,1428C1424.1,1423.2 1419.3,1417.2 1418,1415" fill="none" stroke="#e03a1e" stroke-width="3" stroke-linecap="butt" stroke-linejoin="round" />
<path d="M1387,1436C1387.8,1433.7 1389.2,1425.8 1392,1422C1394.8,1418.2 1402,1414.5 1404,1413" fill="none" stroke="#2f8fd6" stroke-width="3" stroke-linecap="butt" stroke-linejoin="round" />
<path d="M1387,1436C1386,1438.7 1381.5,1446.3 1381,1452C1380.5,1457.7 1381.5,1464.7 1384,1470C1386.5,1475.3 1391.3,1480.3 1396,1484C1400.7,1487.7 1406.7,1489.7 1412,1492C1417.3,1494.3 1423.3,1496 1428,1498C1432.7,1500 1438,1503 1440,1504" fill="none" stroke="#f7d200" stroke-width="4.2" stroke-linecap="round" stroke-linejoin="round" /><path d="M1387,1436C1386,1438.7 1381.5,1446.3 1381,1452C1380.5,1457.7 1381.5,1464.7 1384,1470C1386.5,1475.3 1391.3,1480.3 1396,1484C1400.7,1487.7 1406.7,1489.7 1412,1492C1417.3,1494.3 1423.3,1496 1428,1498C1432.7,1500 1438,1503 1440,1504" fill="none" stroke="#ffe01b" stroke-width="3.6" stroke-linecap="round" stroke-linejoin="round" />
<ellipse cx="1411.5" cy="1412.5" rx="6.5" ry="5.5" fill="#d8d8d8" stroke="#777" stroke-width="0.6"/>
<ellipse cx="1409" cy="1413" rx="4.2" ry="5" fill="#f7f0b4" stroke="#777" stroke-width="0.5"/>
<path d="M1440,1510.1C1443.3,1512 1453.3,1517.7 1460,1521.6C1466.7,1525.4 1473.3,1529.2 1480,1533.1C1486.7,1536.9 1493.3,1540.7 1500,1544.6C1506.7,1548.4 1513.3,1552.2 1520,1556.1C1526.7,1559.9 1533.3,1563.7 1540,1567.6C1546.7,1571.4 1553.3,1575.2 1560,1579.1C1566.7,1582.9 1573.3,1586.7 1580,1590.5C1586.7,1594.4 1593.3,1598.2 1600,1602C1606.7,1605.9 1613.3,1609.7 1620,1613.5C1626.7,1617.4 1633.3,1621.2 1640,1625C1646.7,1628.9 1653.9,1630.8 1660,1636.5C1666.1,1642.3 1669.9,1653.9 1676.6,1659.6C1683.3,1665.3 1692.8,1667.8 1700,1671C1707.2,1674.2 1713,1677.1 1720,1679C1727,1680.9 1735.1,1682.6 1741.8,1682.6C1748.5,1682.6 1754.5,1681.2 1760,1679C1765.5,1676.8 1768.5,1674.7 1775,1669.5C1781.5,1664.3 1790,1655 1799.2,1648.1C1808.4,1641.2 1819.9,1634.7 1830,1628C1840.1,1621.3 1852.2,1613.4 1860,1608C1867.8,1602.6 1873.2,1599.3 1877,1595.5C1880.8,1591.7 1881.6,1590.1 1882.8,1585C1884,1579.9 1884.1,1571.7 1884,1565C1883.9,1558.3 1883.6,1551.4 1882,1545C1880.4,1538.6 1875.8,1529.6 1874.5,1526.5" fill="none" stroke="#f7d200" stroke-width="5.4" stroke-linecap="round" stroke-linejoin="round" /><path d="M1440,1510.1C1443.3,1512 1453.3,1517.7 1460,1521.6C1466.7,1525.4 1473.3,1529.2 1480,1533.1C1486.7,1536.9 1493.3,1540.7 1500,1544.6C1506.7,1548.4 1513.3,1552.2 1520,1556.1C1526.7,1559.9 1533.3,1563.7 1540,1567.6C1546.7,1571.4 1553.3,1575.2 1560,1579.1C1566.7,1582.9 1573.3,1586.7 1580,1590.5C1586.7,1594.4 1593.3,1598.2 1600,1602C1606.7,1605.9 1613.3,1609.7 1620,1613.5C1626.7,1617.4 1633.3,1621.2 1640,1625C1646.7,1628.9 1653.9,1630.8 1660,1636.5C1666.1,1642.3 1669.9,1653.9 1676.6,1659.6C1683.3,1665.3 1692.8,1667.8 1700,1671C1707.2,1674.2 1713,1677.1 1720,1679C1727,1680.9 1735.1,1682.6 1741.8,1682.6C1748.5,1682.6 1754.5,1681.2 1760,1679C1765.5,1676.8 1768.5,1674.7 1775,1669.5C1781.5,1664.3 1790,1655 1799.2,1648.1C1808.4,1641.2 1819.9,1634.7 1830,1628C1840.1,1621.3 1852.2,1613.4 1860,1608C1867.8,1602.6 1873.2,1599.3 1877,1595.5C1880.8,1591.7 1881.6,1590.1 1882.8,1585C1884,1579.9 1884.1,1571.7 1884,1565C1883.9,1558.3 1883.6,1551.4 1882,1545C1880.4,1538.6 1875.8,1529.6 1874.5,1526.5" fill="none" stroke="#ffe01b" stroke-width="4.8" stroke-linecap="round" stroke-linejoin="round" />
<ellipse cx="1872.3" cy="1523" rx="4.2" ry="3.6" fill="#3c3c3a"/>
<ellipse cx="1851.3" cy="1533.5" rx="4.2" ry="3.6" fill="#3c3c3a"/>
<g transform="translate(475.9,945)"><polygon points="2,-2.4 8.5,-6.4 12,-4.4 5.5,-0.4" fill="#8a8876"/><polygon points="-3,-0.6 -1.2,-3 1.6,-3.4 3.6,-2 3,0.5 2.4,4.6 -3,1.6" fill="#7f7d6c"/></g>
<g transform="translate(518.4,969.4)"><polygon points="2,-2.4 8.5,-6.4 12,-4.4 5.5,-0.4" fill="#8a8876"/><polygon points="-3,-0.6 -1.2,-3 1.6,-3.4 3.6,-2 3,0.5 2.4,4.6 -3,1.6" fill="#7f7d6c"/></g>
<g transform="translate(555.2,990.6)"><polygon points="2,-2.4 8.5,-6.4 12,-4.4 5.5,-0.4" fill="#8a8876"/><polygon points="-3,-0.6 -1.2,-3 1.6,-3.4 3.6,-2 3,0.5 2.4,4.6 -3,1.6" fill="#7f7d6c"/></g>
<g transform="translate(577,1003.1)"><polygon points="2,-2.4 8.5,-6.4 12,-4.4 5.5,-0.4" fill="#8a8876"/><polygon points="-3,-0.6 -1.2,-3 1.6,-3.4 3.6,-2 3,0.5 2.4,4.6 -3,1.6" fill="#7f7d6c"/></g>
<g transform="translate(604.6,1019)"><polygon points="2,-2.4 8.5,-6.4 12,-4.4 5.5,-0.4" fill="#8a8876"/><polygon points="-3,-0.6 -1.2,-3 1.6,-3.4 3.6,-2 3,0.5 2.4,4.6 -3,1.6" fill="#7f7d6c"/></g>
<g transform="translate(634.5,1036.2)"><polygon points="2,-2.4 8.5,-6.4 12,-4.4 5.5,-0.4" fill="#8a8876"/><polygon points="-3,-0.6 -1.2,-3 1.6,-3.4 3.6,-2 3,0.5 2.4,4.6 -3,1.6" fill="#7f7d6c"/></g>
<g transform="translate(663.2,1052.7)"><polygon points="2,-2.4 8.5,-6.4 12,-4.4 5.5,-0.4" fill="#8a8876"/><polygon points="-3,-0.6 -1.2,-3 1.6,-3.4 3.6,-2 3,0.5 2.4,4.6 -3,1.6" fill="#7f7d6c"/></g>
<g transform="translate(691.9,1069.2)"><polygon points="2,-2.4 8.5,-6.4 12,-4.4 5.5,-0.4" fill="#8a8876"/><polygon points="-3,-0.6 -1.2,-3 1.6,-3.4 3.6,-2 3,0.5 2.4,4.6 -3,1.6" fill="#7f7d6c"/></g>
<g transform="translate(720.6,1085.7)"><polygon points="2,-2.4 8.5,-6.4 12,-4.4 5.5,-0.4" fill="#8a8876"/><polygon points="-3,-0.6 -1.2,-3 1.6,-3.4 3.6,-2 3,0.5 2.4,4.6 -3,1.6" fill="#7f7d6c"/></g>
<g transform="translate(749.3,1102.2)"><polygon points="2,-2.4 8.5,-6.4 12,-4.4 5.5,-0.4" fill="#8a8876"/><polygon points="-3,-0.6 -1.2,-3 1.6,-3.4 3.6,-2 3,0.5 2.4,4.6 -3,1.6" fill="#7f7d6c"/></g>
<g transform="translate(778,1118.7)"><polygon points="2,-2.4 8.5,-6.4 12,-4.4 5.5,-0.4" fill="#8a8876"/><polygon points="-3,-0.6 -1.2,-3 1.6,-3.4 3.6,-2 3,0.5 2.4,4.6 -3,1.6" fill="#7f7d6c"/></g>
<g transform="translate(806.7,1135.2)"><polygon points="2,-2.4 8.5,-6.4 12,-4.4 5.5,-0.4" fill="#8a8876"/><polygon points="-3,-0.6 -1.2,-3 1.6,-3.4 3.6,-2 3,0.5 2.4,4.6 -3,1.6" fill="#7f7d6c"/></g>
<g transform="translate(835.4,1151.6)"><polygon points="2,-2.4 8.5,-6.4 12,-4.4 5.5,-0.4" fill="#8a8876"/><polygon points="-3,-0.6 -1.2,-3 1.6,-3.4 3.6,-2 3,0.5 2.4,4.6 -3,1.6" fill="#7f7d6c"/></g>
<g transform="translate(864.1,1168.1)"><polygon points="2,-2.4 8.5,-6.4 12,-4.4 5.5,-0.4" fill="#8a8876"/><polygon points="-3,-0.6 -1.2,-3 1.6,-3.4 3.6,-2 3,0.5 2.4,4.6 -3,1.6" fill="#7f7d6c"/></g>
<g transform="translate(892.8,1184.6)"><polygon points="2,-2.4 8.5,-6.4 12,-4.4 5.5,-0.4" fill="#8a8876"/><polygon points="-3,-0.6 -1.2,-3 1.6,-3.4 3.6,-2 3,0.5 2.4,4.6 -3,1.6" fill="#7f7d6c"/></g>
<g transform="translate(921.5,1201.1)"><polygon points="2,-2.4 8.5,-6.4 12,-4.4 5.5,-0.4" fill="#8a8876"/><polygon points="-3,-0.6 -1.2,-3 1.6,-3.4 3.6,-2 3,0.5 2.4,4.6 -3,1.6" fill="#7f7d6c"/></g>
<g transform="translate(1007.6,1251.8)"><polygon points="2,-2.4 8.5,-6.4 12,-4.4 5.5,-0.4" fill="#8a8876"/><polygon points="-3,-0.6 -1.2,-3 1.6,-3.4 3.6,-2 3,0.5 2.4,4.6 -3,1.6" fill="#7f7d6c"/></g>
<g transform="translate(1036.3,1268.3)"><polygon points="2,-2.4 8.5,-6.4 12,-4.4 5.5,-0.4" fill="#8a8876"/><polygon points="-3,-0.6 -1.2,-3 1.6,-3.4 3.6,-2 3,0.5 2.4,4.6 -3,1.6" fill="#7f7d6c"/></g>
<g transform="translate(1065,1284.8)"><polygon points="2,-2.4 8.5,-6.4 12,-4.4 5.5,-0.4" fill="#8a8876"/><polygon points="-3,-0.6 -1.2,-3 1.6,-3.4 3.6,-2 3,0.5 2.4,4.6 -3,1.6" fill="#7f7d6c"/></g>
<g transform="translate(1093.7,1301.3)"><polygon points="2,-2.4 8.5,-6.4 12,-4.4 5.5,-0.4" fill="#8a8876"/><polygon points="-3,-0.6 -1.2,-3 1.6,-3.4 3.6,-2 3,0.5 2.4,4.6 -3,1.6" fill="#7f7d6c"/></g>
<g transform="translate(1122.4,1317.8)"><polygon points="2,-2.4 8.5,-6.4 12,-4.4 5.5,-0.4" fill="#8a8876"/><polygon points="-3,-0.6 -1.2,-3 1.6,-3.4 3.6,-2 3,0.5 2.4,4.6 -3,1.6" fill="#7f7d6c"/></g>
<g transform="translate(1151.1,1334.3)"><polygon points="2,-2.4 8.5,-6.4 12,-4.4 5.5,-0.4" fill="#8a8876"/><polygon points="-3,-0.6 -1.2,-3 1.6,-3.4 3.6,-2 3,0.5 2.4,4.6 -3,1.6" fill="#7f7d6c"/></g>
<g transform="translate(1179.8,1350.8)"><polygon points="2,-2.4 8.5,-6.4 12,-4.4 5.5,-0.4" fill="#8a8876"/><polygon points="-3,-0.6 -1.2,-3 1.6,-3.4 3.6,-2 3,0.5 2.4,4.6 -3,1.6" fill="#7f7d6c"/></g>
<g transform="translate(1208.5,1367.3)"><polygon points="2,-2.4 8.5,-6.4 12,-4.4 5.5,-0.4" fill="#8a8876"/><polygon points="-3,-0.6 -1.2,-3 1.6,-3.4 3.6,-2 3,0.5 2.4,4.6 -3,1.6" fill="#7f7d6c"/></g>
<g transform="translate(1237.2,1383.8)"><polygon points="2,-2.4 8.5,-6.4 12,-4.4 5.5,-0.4" fill="#8a8876"/><polygon points="-3,-0.6 -1.2,-3 1.6,-3.4 3.6,-2 3,0.5 2.4,4.6 -3,1.6" fill="#7f7d6c"/></g>
<g transform="translate(1265.9,1400.2)"><polygon points="2,-2.4 8.5,-6.4 12,-4.4 5.5,-0.4" fill="#8a8876"/><polygon points="-3,-0.6 -1.2,-3 1.6,-3.4 3.6,-2 3,0.5 2.4,4.6 -3,1.6" fill="#7f7d6c"/></g>
<g transform="translate(1294.6,1416.7)"><polygon points="2,-2.4 8.5,-6.4 12,-4.4 5.5,-0.4" fill="#8a8876"/><polygon points="-3,-0.6 -1.2,-3 1.6,-3.4 3.6,-2 3,0.5 2.4,4.6 -3,1.6" fill="#7f7d6c"/></g>
<g transform="translate(1323.3,1433.2)"><polygon points="2,-2.4 8.5,-6.4 12,-4.4 5.5,-0.4" fill="#8a8876"/><polygon points="-3,-0.6 -1.2,-3 1.6,-3.4 3.6,-2 3,0.5 2.4,4.6 -3,1.6" fill="#7f7d6c"/></g>
<g transform="translate(1352,1449.7)"><polygon points="2,-2.4 8.5,-6.4 12,-4.4 5.5,-0.4" fill="#8a8876"/><polygon points="-3,-0.6 -1.2,-3 1.6,-3.4 3.6,-2 3,0.5 2.4,4.6 -3,1.6" fill="#7f7d6c"/></g>
<g transform="translate(1380.7,1466.2)"><polygon points="2,-2.4 8.5,-6.4 12,-4.4 5.5,-0.4" fill="#8a8876"/><polygon points="-3,-0.6 -1.2,-3 1.6,-3.4 3.6,-2 3,0.5 2.4,4.6 -3,1.6" fill="#7f7d6c"/></g>
<g transform="translate(1466.8,1525.5)"><polygon points="2,-2.4 8.5,-6.4 12,-4.4 5.5,-0.4" fill="#8a8876"/><polygon points="-3,-0.6 -1.2,-3 1.6,-3.4 3.6,-2 3,0.5 2.4,4.6 -3,1.6" fill="#7f7d6c"/></g>
<g transform="translate(1495.5,1542)"><polygon points="2,-2.4 8.5,-6.4 12,-4.4 5.5,-0.4" fill="#8a8876"/><polygon points="-3,-0.6 -1.2,-3 1.6,-3.4 3.6,-2 3,0.5 2.4,4.6 -3,1.6" fill="#7f7d6c"/></g>
<g transform="translate(1524.2,1558.5)"><polygon points="2,-2.4 8.5,-6.4 12,-4.4 5.5,-0.4" fill="#8a8876"/><polygon points="-3,-0.6 -1.2,-3 1.6,-3.4 3.6,-2 3,0.5 2.4,4.6 -3,1.6" fill="#7f7d6c"/></g>
<g transform="translate(1552.9,1575)"><polygon points="2,-2.4 8.5,-6.4 12,-4.4 5.5,-0.4" fill="#8a8876"/><polygon points="-3,-0.6 -1.2,-3 1.6,-3.4 3.6,-2 3,0.5 2.4,4.6 -3,1.6" fill="#7f7d6c"/></g>
<g transform="translate(1581.6,1591.5)"><polygon points="2,-2.4 8.5,-6.4 12,-4.4 5.5,-0.4" fill="#8a8876"/><polygon points="-3,-0.6 -1.2,-3 1.6,-3.4 3.6,-2 3,0.5 2.4,4.6 -3,1.6" fill="#7f7d6c"/></g>
<g transform="translate(1610.3,1608)"><polygon points="2,-2.4 8.5,-6.4 12,-4.4 5.5,-0.4" fill="#8a8876"/><polygon points="-3,-0.6 -1.2,-3 1.6,-3.4 3.6,-2 3,0.5 2.4,4.6 -3,1.6" fill="#7f7d6c"/></g>
<g transform="translate(1639,1624.5)"><polygon points="2,-2.4 8.5,-6.4 12,-4.4 5.5,-0.4" fill="#8a8876"/><polygon points="-3,-0.6 -1.2,-3 1.6,-3.4 3.6,-2 3,0.5 2.4,4.6 -3,1.6" fill="#7f7d6c"/></g>
<g transform="translate(453.4,944.8)"><polygon points="-4,-2.5 0,-4.5 3.5,-1.5 -0.5,0.5" fill="#7f7d6c"/><polygon points="0,0 5,-2 9,1.5 4,3.5" fill="#8a8876"/></g>
<g transform="translate(1700,1671)"><polygon points="2,-2.4 8.5,-6.4 12,-4.4 5.5,-0.4" fill="#8a8876"/><polygon points="-3,-0.6 -1.2,-3 1.6,-3.4 3.6,-2 3,0.5 2.4,4.6 -3,1.6" fill="#7f7d6c"/></g>
<g transform="translate(1722,1680)"><polygon points="2,-2.4 8.5,-6.4 12,-4.4 5.5,-0.4" fill="#8a8876"/><polygon points="-3,-0.6 -1.2,-3 1.6,-3.4 3.6,-2 3,0.5 2.4,4.6 -3,1.6" fill="#7f7d6c"/></g>
<g transform="translate(1790,1655)"><polygon points="-2.5,0.5 2,-2.5 2,2.5 -2.5,5.5" fill="#7f7d6c"/><polygon points="-9,-4.6 -2,-0.8 -4.5,0.8 -11.5,-3" fill="#7f7d6c"/></g>
<g transform="translate(1838,1622.5)"><polygon points="-2.5,0.5 2,-2.5 2,2.5 -2.5,5.5" fill="#7f7d6c"/><polygon points="-9,-4.6 -2,-0.8 -4.5,0.8 -11.5,-3" fill="#7f7d6c"/></g>
<g transform="translate(1866,1604)"><polygon points="-2.5,0.5 2,-2.5 2,2.5 -2.5,5.5" fill="#7f7d6c"/><polygon points="-9,-4.6 -2,-0.8 -4.5,0.8 -11.5,-3" fill="#7f7d6c"/></g>
<g><path d="M460.3,911.2 L460.3,961.5 A2.9,1.8 0 0 0 466.2,961.5 L466.2,911.2 A2.9,1.8 0 0 0 460.3,911.2 Z" fill="url(#rg)" stroke="#5c5c5c" stroke-width="0.85"/><ellipse cx="463.2" cy="911.2" rx="2.9" ry="1.8" fill="url(#rt)" stroke="#5c5c5c" stroke-width="0.85"/></g>
<g><path d="M493.7,930.5 L493.7,980.7 A2.9,1.8 0 0 0 499.6,980.7 L499.6,930.5 A2.9,1.8 0 0 0 493.7,930.5 Z" fill="url(#rg)" stroke="#5c5c5c" stroke-width="0.85"/><ellipse cx="496.7" cy="930.5" rx="2.9" ry="1.8" fill="url(#rt)" stroke="#5c5c5c" stroke-width="0.85"/></g>
<g><path d="M527.2,949.7 L527.2,1000 A3,1.8 0 0 0 533.1,1000 L533.1,949.7 A3,1.8 0 0 0 527.2,949.7 Z" fill="url(#rg)" stroke="#5c5c5c" stroke-width="0.85"/><ellipse cx="530.1" cy="949.7" rx="3" ry="1.8" fill="url(#rt)" stroke="#5c5c5c" stroke-width="0.85"/></g>
<g><path d="M560.7,969 L560.7,1019.2 A3,1.8 0 0 0 566.6,1019.2 L566.6,969 A3,1.8 0 0 0 560.7,969 Z" fill="url(#rg)" stroke="#5c5c5c" stroke-width="0.85"/><ellipse cx="563.6" cy="969" rx="3" ry="1.8" fill="url(#rt)" stroke="#5c5c5c" stroke-width="0.85"/></g>
<g><path d="M594.1,988.2 L594.1,1038.5 A3,1.8 0 0 0 600,1038.5 L600,988.2 A3,1.8 0 0 0 594.1,988.2 Z" fill="url(#rg)" stroke="#5c5c5c" stroke-width="0.85"/><ellipse cx="597.1" cy="988.2" rx="3" ry="1.8" fill="url(#rt)" stroke="#5c5c5c" stroke-width="0.85"/></g>
<g><path d="M627.6,1007.4 L627.6,1057.7 A3,1.8 0 0 0 633.5,1057.7 L633.5,1007.4 A3,1.8 0 0 0 627.6,1007.4 Z" fill="url(#rg)" stroke="#5c5c5c" stroke-width="0.85"/><ellipse cx="630.5" cy="1007.4" rx="3" ry="1.8" fill="url(#rt)" stroke="#5c5c5c" stroke-width="0.85"/></g>
<g><path d="M661.1,1026.7 L661.1,1076.9 A3,1.8 0 0 0 667,1076.9 L667,1026.7 A3,1.8 0 0 0 661.1,1026.7 Z" fill="url(#rg)" stroke="#5c5c5c" stroke-width="0.85"/><ellipse cx="664" cy="1026.7" rx="3" ry="1.8" fill="url(#rt)" stroke="#5c5c5c" stroke-width="0.85"/></g>
<g><path d="M694.5,1045.9 L694.5,1096.2 A3,1.8 0 0 0 700.4,1096.2 L700.4,1045.9 A3,1.8 0 0 0 694.5,1045.9 Z" fill="url(#rg)" stroke="#5c5c5c" stroke-width="0.85"/><ellipse cx="697.5" cy="1045.9" rx="3" ry="1.8" fill="url(#rt)" stroke="#5c5c5c" stroke-width="0.85"/></g>
<g><path d="M728,1065.2 L728,1115.4 A3,1.8 0 0 0 733.9,1115.4 L733.9,1065.2 A3,1.8 0 0 0 728,1065.2 Z" fill="url(#rg)" stroke="#5c5c5c" stroke-width="0.85"/><ellipse cx="731" cy="1065.2" rx="3" ry="1.8" fill="url(#rt)" stroke="#5c5c5c" stroke-width="0.85"/></g>
<g><path d="M761.5,1084.4 L761.5,1134.6 A3,1.8 0 0 0 767.4,1134.6 L767.4,1084.4 A3,1.8 0 0 0 761.5,1084.4 Z" fill="url(#rg)" stroke="#5c5c5c" stroke-width="0.85"/><ellipse cx="764.4" cy="1084.4" rx="3" ry="1.8" fill="url(#rt)" stroke="#5c5c5c" stroke-width="0.85"/></g>
<g><path d="M795,1103.6 L795,1153.9 A3,1.8 0 0 0 800.9,1153.9 L800.9,1103.6 A3,1.8 0 0 0 795,1103.6 Z" fill="url(#rg)" stroke="#5c5c5c" stroke-width="0.85"/><ellipse cx="797.9" cy="1103.6" rx="3" ry="1.8" fill="url(#rt)" stroke="#5c5c5c" stroke-width="0.85"/></g>
<g><path d="M828.4,1122.9 L828.4,1173.1 A3,1.8 0 0 0 834.3,1173.1 L834.3,1122.9 A3,1.8 0 0 0 828.4,1122.9 Z" fill="url(#rg)" stroke="#5c5c5c" stroke-width="0.85"/><ellipse cx="831.4" cy="1122.9" rx="3" ry="1.8" fill="url(#rt)" stroke="#5c5c5c" stroke-width="0.85"/></g>
<g><path d="M861.9,1142.1 L861.9,1192.4 A3,1.8 0 0 0 867.8,1192.4 L867.8,1142.1 A3,1.8 0 0 0 861.9,1142.1 Z" fill="url(#rg)" stroke="#5c5c5c" stroke-width="0.85"/><ellipse cx="864.8" cy="1142.1" rx="3" ry="1.8" fill="url(#rt)" stroke="#5c5c5c" stroke-width="0.85"/></g>
<g><path d="M895.4,1161.3 L895.4,1211.6 A3,1.8 0 0 0 901.3,1211.6 L901.3,1161.3 A3,1.8 0 0 0 895.4,1161.3 Z" fill="url(#rg)" stroke="#5c5c5c" stroke-width="0.85"/><ellipse cx="898.3" cy="1161.3" rx="3" ry="1.8" fill="url(#rt)" stroke="#5c5c5c" stroke-width="0.85"/></g>
<g><path d="M928.8,1180.6 L928.8,1230.8 A3,1.8 0 0 0 934.7,1230.8 L934.7,1180.6 A3,1.8 0 0 0 928.8,1180.6 Z" fill="url(#rg)" stroke="#5c5c5c" stroke-width="0.85"/><ellipse cx="931.8" cy="1180.6" rx="3" ry="1.8" fill="url(#rt)" stroke="#5c5c5c" stroke-width="0.85"/></g>
<g><path d="M962.3,1199.8 L962.3,1250.1 A3,1.8 0 0 0 968.2,1250.1 L968.2,1199.8 A3,1.8 0 0 0 962.3,1199.8 Z" fill="url(#rg)" stroke="#5c5c5c" stroke-width="0.85"/><ellipse cx="965.2" cy="1199.8" rx="3" ry="1.8" fill="url(#rt)" stroke="#5c5c5c" stroke-width="0.85"/></g>
<g><path d="M995.8,1219.1 L995.8,1269.3 A3,1.8 0 0 0 1001.7,1269.3 L1001.7,1219.1 A3,1.8 0 0 0 995.8,1219.1 Z" fill="url(#rg)" stroke="#5c5c5c" stroke-width="0.85"/><ellipse cx="998.7" cy="1219.1" rx="3" ry="1.8" fill="url(#rt)" stroke="#5c5c5c" stroke-width="0.85"/></g>
<g><path d="M1029.2,1238.3 L1029.2,1288.6 A3,1.8 0 0 0 1035.1,1288.6 L1035.1,1238.3 A3,1.8 0 0 0 1029.2,1238.3 Z" fill="url(#rg)" stroke="#5c5c5c" stroke-width="0.85"/><ellipse cx="1032.2" cy="1238.3" rx="3" ry="1.8" fill="url(#rt)" stroke="#5c5c5c" stroke-width="0.85"/></g>
<g><path d="M1062.7,1257.5 L1062.7,1307.8 A3,1.8 0 0 0 1068.6,1307.8 L1068.6,1257.5 A3,1.8 0 0 0 1062.7,1257.5 Z" fill="url(#rg)" stroke="#5c5c5c" stroke-width="0.85"/><ellipse cx="1065.7" cy="1257.5" rx="3" ry="1.8" fill="url(#rt)" stroke="#5c5c5c" stroke-width="0.85"/></g>
<g><path d="M1096.2,1276.8 L1096.2,1327 A3,1.8 0 0 0 1102.1,1327 L1102.1,1276.8 A3,1.8 0 0 0 1096.2,1276.8 Z" fill="url(#rg)" stroke="#5c5c5c" stroke-width="0.85"/><ellipse cx="1099.1" cy="1276.8" rx="3" ry="1.8" fill="url(#rt)" stroke="#5c5c5c" stroke-width="0.85"/></g>
<g><path d="M1129.6,1296 L1129.6,1346.3 A3,1.8 0 0 0 1135.5,1346.3 L1135.5,1296 A3,1.8 0 0 0 1129.6,1296 Z" fill="url(#rg)" stroke="#5c5c5c" stroke-width="0.85"/><ellipse cx="1132.6" cy="1296" rx="3" ry="1.8" fill="url(#rt)" stroke="#5c5c5c" stroke-width="0.85"/></g>
<g><path d="M1801.7,1604.9 L1801.7,1655.1 A3,1.8 0 0 0 1807.6,1655.1 L1807.6,1604.9 A3,1.8 0 0 0 1801.7,1604.9 Z" fill="url(#rg)" stroke="#5c5c5c" stroke-width="0.85"/><ellipse cx="1804.6" cy="1604.9" rx="3" ry="1.8" fill="url(#rt)" stroke="#5c5c5c" stroke-width="0.85"/></g>
<g><path d="M1835.2,1585.7 L1835.2,1636 A3,1.8 0 0 0 1841.1,1636 L1841.1,1585.7 A3,1.8 0 0 0 1835.2,1585.7 Z" fill="url(#rg)" stroke="#5c5c5c" stroke-width="0.85"/><ellipse cx="1838.1" cy="1585.7" rx="3" ry="1.8" fill="url(#rt)" stroke="#5c5c5c" stroke-width="0.85"/></g>
<g><path d="M1868.6,1566.5 L1868.6,1616.8 A3,1.8 0 0 0 1874.5,1616.8 L1874.5,1566.5 A3,1.8 0 0 0 1868.6,1566.5 Z" fill="url(#rg)" stroke="#5c5c5c" stroke-width="0.85"/><ellipse cx="1871.6" cy="1566.5" rx="3" ry="1.8" fill="url(#rt)" stroke="#5c5c5c" stroke-width="0.85"/></g>
<g><path d="M1902.1,1547.3 L1902.1,1597.6 A3,1.8 0 0 0 1908,1597.6 L1908,1547.3 A3,1.8 0 0 0 1902.1,1547.3 Z" fill="url(#rg)" stroke="#5c5c5c" stroke-width="0.85"/><ellipse cx="1905" cy="1547.3" rx="3" ry="1.8" fill="url(#rt)" stroke="#5c5c5c" stroke-width="0.85"/></g>
<g><path d="M1935.6,1528.1 L1935.6,1578.4 A3,1.8 0 0 0 1941.5,1578.4 L1941.5,1528.1 A3,1.8 0 0 0 1935.6,1528.1 Z" fill="url(#rg)" stroke="#5c5c5c" stroke-width="0.85"/><ellipse cx="1938.5" cy="1528.1" rx="3" ry="1.8" fill="url(#rt)" stroke="#5c5c5c" stroke-width="0.85"/></g>
<g><path d="M1969,1509 L1969,1559.2 A3,1.8 0 0 0 1974.9,1559.2 L1974.9,1509 A3,1.8 0 0 0 1969,1509 Z" fill="url(#rg)" stroke="#5c5c5c" stroke-width="0.85"/><ellipse cx="1972" cy="1509" rx="3" ry="1.8" fill="url(#rt)" stroke="#5c5c5c" stroke-width="0.85"/></g>
<g><path d="M2002.5,1489.8 L2002.5,1540 A3,1.8 0 0 0 2008.4,1540 L2008.4,1489.8 A3,1.8 0 0 0 2002.5,1489.8 Z" fill="url(#rg)" stroke="#5c5c5c" stroke-width="0.85"/><ellipse cx="2005.5" cy="1489.8" rx="3" ry="1.8" fill="url(#rt)" stroke="#5c5c5c" stroke-width="0.85"/></g>
<g><path d="M2036,1470.6 L2036,1520.8 A3,1.8 0 0 0 2041.9,1520.8 L2041.9,1470.6 A3,1.8 0 0 0 2036,1470.6 Z" fill="url(#rg)" stroke="#5c5c5c" stroke-width="0.85"/><ellipse cx="2038.9" cy="1470.6" rx="3" ry="1.8" fill="url(#rt)" stroke="#5c5c5c" stroke-width="0.85"/></g>
<g><path d="M2069.5,1451.4 L2069.5,1501.7 A2.9,1.8 0 0 0 2075.3,1501.7 L2075.3,1451.4 A2.9,1.8 0 0 0 2069.5,1451.4 Z" fill="url(#rg)" stroke="#5c5c5c" stroke-width="0.85"/><ellipse cx="2072.4" cy="1451.4" rx="2.9" ry="1.8" fill="url(#rt)" stroke="#5c5c5c" stroke-width="0.85"/></g>
<g><path d="M2102.9,1432.2 L2102.9,1482.5 A2.9,1.8 0 0 0 2108.8,1482.5 L2108.8,1432.2 A2.9,1.8 0 0 0 2102.9,1432.2 Z" fill="url(#rg)" stroke="#5c5c5c" stroke-width="0.85"/><ellipse cx="2105.9" cy="1432.2" rx="2.9" ry="1.8" fill="url(#rt)" stroke="#5c5c5c" stroke-width="0.85"/></g>
<g><path d="M2136.4,1413 L2136.4,1463.3 A2.9,1.8 0 0 0 2142.3,1463.3 L2142.3,1413 A2.9,1.8 0 0 0 2136.4,1413 Z" fill="url(#rg)" stroke="#5c5c5c" stroke-width="0.85"/><ellipse cx="2139.3" cy="1413" rx="2.9" ry="1.8" fill="url(#rt)" stroke="#5c5c5c" stroke-width="0.85"/></g>
<g><path d="M2169.9,1393.8 L2169.9,1444.1 A2.9,1.8 0 0 0 2175.8,1444.1 L2175.8,1393.8 A2.9,1.8 0 0 0 2169.9,1393.8 Z" fill="url(#rg)" stroke="#5c5c5c" stroke-width="0.85"/><ellipse cx="2172.8" cy="1393.8" rx="2.9" ry="1.8" fill="url(#rt)" stroke="#5c5c5c" stroke-width="0.85"/></g>
<g><path d="M2203.3,1374.7 L2203.3,1424.9 A2.9,1.8 0 0 0 2209.2,1424.9 L2209.2,1374.7 A2.9,1.8 0 0 0 2203.3,1374.7 Z" fill="url(#rg)" stroke="#5c5c5c" stroke-width="0.85"/><ellipse cx="2206.3" cy="1374.7" rx="2.9" ry="1.8" fill="url(#rt)" stroke="#5c5c5c" stroke-width="0.85"/></g>
<g><path d="M2236.8,1355.5 L2236.8,1405.7 A2.9,1.8 0 0 0 2242.7,1405.7 L2242.7,1355.5 A2.9,1.8 0 0 0 2236.8,1355.5 Z" fill="url(#rg)" stroke="#5c5c5c" stroke-width="0.85"/><ellipse cx="2239.8" cy="1355.5" rx="2.9" ry="1.8" fill="url(#rt)" stroke="#5c5c5c" stroke-width="0.85"/></g>
<clipPath id="wallclip"><polygon points="1141.5,846.5 1186.9,820.5 1782.1,1164.3 1782.1,1678.6 1737.2,1704.4 1141.5,1361.8"/></clipPath>
<polygon points="1141.5,846.5 1186.9,820.5 1782.1,1164.3 1782.1,1678.6 1737.2,1704.4 1141.5,1361.8" fill="#c7c9c8" stroke="none"/>
<polygon points="1141.5,846.5 1186.9,820.5 1186.9,1335.8 1141.5,1361.8" fill="#d2d4d3" stroke="none"/>
<polygon points="1141.5,846.5 1186.9,820.5 1782.1,1164.3 1737.2,1190.3" fill="#cdcfce" stroke="none"/>
<polygon points="1737.2,1190.3 1782.1,1164.3 1782.1,1678.6 1737.2,1704.4" fill="#c5c7c6" stroke="none"/>
<g clip-path="url(#wallclip)" opacity="0.6">
<g><path d="M1156.6,1280.5 L1156.6,1330.8 A3,1.8 0 0 0 1162.5,1330.8 L1162.5,1280.5 A3,1.8 0 0 0 1156.6,1280.5 Z" fill="url(#rg)" stroke="#5c5c5c" stroke-width="0.85"/><ellipse cx="1159.6" cy="1280.5" rx="3" ry="1.8" fill="url(#rt)" stroke="#5c5c5c" stroke-width="0.85"/></g>
<g><path d="M1190.1,1299.8 L1190.1,1350 A3,1.8 0 0 0 1196,1350 L1196,1299.8 A3,1.8 0 0 0 1190.1,1299.8 Z" fill="url(#rg)" stroke="#5c5c5c" stroke-width="0.85"/><ellipse cx="1193.1" cy="1299.8" rx="3" ry="1.8" fill="url(#rt)" stroke="#5c5c5c" stroke-width="0.85"/></g>
<g><path d="M1223.6,1319 L1223.6,1369.3 A3,1.8 0 0 0 1229.5,1369.3 L1229.5,1319 A3,1.8 0 0 0 1223.6,1319 Z" fill="url(#rg)" stroke="#5c5c5c" stroke-width="0.85"/><ellipse cx="1226.5" cy="1319" rx="3" ry="1.8" fill="url(#rt)" stroke="#5c5c5c" stroke-width="0.85"/></g>
<g><path d="M1257.1,1338.3 L1257.1,1388.5 A3,1.8 0 0 0 1263,1388.5 L1263,1338.3 A3,1.8 0 0 0 1257.1,1338.3 Z" fill="url(#rg)" stroke="#5c5c5c" stroke-width="0.85"/><ellipse cx="1260" cy="1338.3" rx="3" ry="1.8" fill="url(#rt)" stroke="#5c5c5c" stroke-width="0.85"/></g>
<g><path d="M1290.5,1357.5 L1290.5,1407.8 A3,1.8 0 0 0 1296.4,1407.8 L1296.4,1357.5 A3,1.8 0 0 0 1290.5,1357.5 Z" fill="url(#rg)" stroke="#5c5c5c" stroke-width="0.85"/><ellipse cx="1293.5" cy="1357.5" rx="3" ry="1.8" fill="url(#rt)" stroke="#5c5c5c" stroke-width="0.85"/></g>
<g><path d="M1324,1376.7 L1324,1427 A3,1.8 0 0 0 1329.9,1427 L1329.9,1376.7 A3,1.8 0 0 0 1324,1376.7 Z" fill="url(#rg)" stroke="#5c5c5c" stroke-width="0.85"/><ellipse cx="1327" cy="1376.7" rx="3" ry="1.8" fill="url(#rt)" stroke="#5c5c5c" stroke-width="0.85"/></g>
<g><path d="M1357.5,1396 L1357.5,1446.2 A3,1.8 0 0 0 1363.4,1446.2 L1363.4,1396 A3,1.8 0 0 0 1357.5,1396 Z" fill="url(#rg)" stroke="#5c5c5c" stroke-width="0.85"/><ellipse cx="1360.4" cy="1396" rx="3" ry="1.8" fill="url(#rt)" stroke="#5c5c5c" stroke-width="0.85"/></g>
<g><path d="M1390.9,1415.2 L1390.9,1465.5 A3,1.8 0 0 0 1396.8,1465.5 L1396.8,1415.2 A3,1.8 0 0 0 1390.9,1415.2 Z" fill="url(#rg)" stroke="#5c5c5c" stroke-width="0.85"/><ellipse cx="1393.9" cy="1415.2" rx="3" ry="1.8" fill="url(#rt)" stroke="#5c5c5c" stroke-width="0.85"/></g>
<g><path d="M1424.4,1434.4 L1424.4,1484.7 A3,1.8 0 0 0 1430.3,1484.7 L1430.3,1434.4 A3,1.8 0 0 0 1424.4,1434.4 Z" fill="url(#rg)" stroke="#5c5c5c" stroke-width="0.85"/><ellipse cx="1427.4" cy="1434.4" rx="3" ry="1.8" fill="url(#rt)" stroke="#5c5c5c" stroke-width="0.85"/></g>
<g><path d="M1457.9,1453.7 L1457.9,1503.9 A3,1.8 0 0 0 1463.8,1503.9 L1463.8,1453.7 A3,1.8 0 0 0 1457.9,1453.7 Z" fill="url(#rg)" stroke="#5c5c5c" stroke-width="0.85"/><ellipse cx="1460.8" cy="1453.7" rx="3" ry="1.8" fill="url(#rt)" stroke="#5c5c5c" stroke-width="0.85"/></g>
<g><path d="M1491.3,1472.9 L1491.3,1523.2 A3,1.8 0 0 0 1497.2,1523.2 L1497.2,1472.9 A3,1.8 0 0 0 1491.3,1472.9 Z" fill="url(#rg)" stroke="#5c5c5c" stroke-width="0.85"/><ellipse cx="1494.3" cy="1472.9" rx="3" ry="1.8" fill="url(#rt)" stroke="#5c5c5c" stroke-width="0.85"/></g>
<g><path d="M1524.8,1492.2 L1524.8,1542.4 A3,1.8 0 0 0 1530.7,1542.4 L1530.7,1492.2 A3,1.8 0 0 0 1524.8,1492.2 Z" fill="url(#rg)" stroke="#5c5c5c" stroke-width="0.85"/><ellipse cx="1527.8" cy="1492.2" rx="3" ry="1.8" fill="url(#rt)" stroke="#5c5c5c" stroke-width="0.85"/></g>
<g><path d="M1558.3,1511.4 L1558.3,1561.7 A3,1.8 0 0 0 1564.2,1561.7 L1564.2,1511.4 A3,1.8 0 0 0 1558.3,1511.4 Z" fill="url(#rg)" stroke="#5c5c5c" stroke-width="0.85"/><ellipse cx="1561.2" cy="1511.4" rx="3" ry="1.8" fill="url(#rt)" stroke="#5c5c5c" stroke-width="0.85"/></g>
<g><path d="M1591.8,1530.6 L1591.8,1580.9 A3,1.8 0 0 0 1597.7,1580.9 L1597.7,1530.6 A3,1.8 0 0 0 1591.8,1530.6 Z" fill="url(#rg)" stroke="#5c5c5c" stroke-width="0.85"/><ellipse cx="1594.7" cy="1530.6" rx="3" ry="1.8" fill="url(#rt)" stroke="#5c5c5c" stroke-width="0.85"/></g>
<g><path d="M1625.2,1549.9 L1625.2,1600.1 A3,1.8 0 0 0 1631.1,1600.1 L1631.1,1549.9 A3,1.8 0 0 0 1625.2,1549.9 Z" fill="url(#rg)" stroke="#5c5c5c" stroke-width="0.85"/><ellipse cx="1628.2" cy="1549.9" rx="3" ry="1.8" fill="url(#rt)" stroke="#5c5c5c" stroke-width="0.85"/></g>
<g><path d="M1658.7,1569.1 L1658.7,1619.4 A3,1.8 0 0 0 1664.6,1619.4 L1664.6,1569.1 A3,1.8 0 0 0 1658.7,1569.1 Z" fill="url(#rg)" stroke="#5c5c5c" stroke-width="0.85"/><ellipse cx="1661.7" cy="1569.1" rx="3" ry="1.8" fill="url(#rt)" stroke="#5c5c5c" stroke-width="0.85"/></g>
<g><path d="M1692.2,1588.4 L1692.2,1638.6 A3,1.8 0 0 0 1698.1,1638.6 L1698.1,1588.4 A3,1.8 0 0 0 1692.2,1588.4 Z" fill="url(#rg)" stroke="#5c5c5c" stroke-width="0.85"/><ellipse cx="1695.1" cy="1588.4" rx="3" ry="1.8" fill="url(#rt)" stroke="#5c5c5c" stroke-width="0.85"/></g>
<g><path d="M1725.6,1607.6 L1725.6,1657.9 A3,1.8 0 0 0 1731.5,1657.9 L1731.5,1607.6 A3,1.8 0 0 0 1725.6,1607.6 Z" fill="url(#rg)" stroke="#5c5c5c" stroke-width="0.85"/><ellipse cx="1728.6" cy="1607.6" rx="3" ry="1.8" fill="url(#rt)" stroke="#5c5c5c" stroke-width="0.85"/></g>
<g><path d="M1759.1,1626.8 L1759.1,1677.1 A3,1.8 0 0 0 1765,1677.1 L1765,1626.8 A3,1.8 0 0 0 1759.1,1626.8 Z" fill="url(#rg)" stroke="#5c5c5c" stroke-width="0.85"/><ellipse cx="1762.1" cy="1626.8" rx="3" ry="1.8" fill="url(#rt)" stroke="#5c5c5c" stroke-width="0.85"/></g>
<g><path d="M1741.2,1608.5 L1741.2,1658.8 A3,1.8 0 0 0 1747.1,1658.8 L1747.1,1608.5 A3,1.8 0 0 0 1741.2,1608.5 Z" fill="url(#rg)" stroke="#5c5c5c" stroke-width="0.85"/><ellipse cx="1744.2" cy="1608.5" rx="3" ry="1.8" fill="url(#rt)" stroke="#5c5c5c" stroke-width="0.85"/></g>
<path d="M457.8,900C457.6,901.3 458.1,905.4 456.5,908C454.9,910.6 451.2,913.8 448,915.5C444.8,917.2 439.9,916.6 437.5,918.5C435.1,920.4 433.7,924.1 433.5,927C433.3,929.9 434.4,934.1 436.5,936C438.6,937.9 442.4,939.1 446,938.5C449.6,937.9 454.5,934.3 458,932.5C461.5,930.7 465,927.8 467,927.5C469,927.2 469.5,929.1 469.8,931C470.1,932.9 468.1,936.3 469,939C469.9,941.7 471.7,944.1 475.5,947C479.3,949.9 489.2,954.9 492,956.5" fill="none" stroke="#f7d200" stroke-width="5.4" stroke-linecap="round" stroke-linejoin="round" /><path d="M457.8,900C457.6,901.3 458.1,905.4 456.5,908C454.9,910.6 451.2,913.8 448,915.5C444.8,917.2 439.9,916.6 437.5,918.5C435.1,920.4 433.7,924.1 433.5,927C433.3,929.9 434.4,934.1 436.5,936C438.6,937.9 442.4,939.1 446,938.5C449.6,937.9 454.5,934.3 458,932.5C461.5,930.7 465,927.8 467,927.5C469,927.2 469.5,929.1 469.8,931C470.1,932.9 468.1,936.3 469,939C469.9,941.7 471.7,944.1 475.5,947C479.3,949.9 489.2,954.9 492,956.5" fill="none" stroke="#ffe01b" stroke-width="4.8" stroke-linecap="round" stroke-linejoin="round" />
<path d="M492,956.5C493.3,956.9 497,957.5 500,958.9C503,960.2 506.7,962.2 510,964.6C513.3,967 517.2,971.4 520,973.5C522.8,975.6 525.8,976.4 527,977" fill="none" stroke="#f7d200" stroke-width="5.4" stroke-linecap="round" stroke-linejoin="round" /><path d="M492,956.5C493.3,956.9 497,957.5 500,958.9C503,960.2 506.7,962.2 510,964.6C513.3,967 517.2,971.4 520,973.5C522.8,975.6 525.8,976.4 527,977" fill="none" stroke="#ffe01b" stroke-width="4.8" stroke-linecap="round" stroke-linejoin="round" />
<path d="M515,969.5C517,970.8 522.8,975.6 527,977.5C531.2,979.4 536.8,981.2 540,981C543.2,980.8 544.8,979.5 546.5,976C548.2,972.5 549.2,966.8 550,960C550.8,953.2 551.3,942.5 551.5,935C551.7,927.5 551.3,918.3 551.3,915" fill="none" stroke="#f7d200" stroke-width="4.8" stroke-linecap="butt" stroke-linejoin="round" /><path d="M515,969.5C517,970.8 522.8,975.6 527,977.5C531.2,979.4 536.8,981.2 540,981C543.2,980.8 544.8,979.5 546.5,976C548.2,972.5 549.2,966.8 550,960C550.8,953.2 551.3,942.5 551.5,935C551.7,927.5 551.3,918.3 551.3,915" fill="none" stroke="#ffe01b" stroke-width="4" stroke-linecap="butt" stroke-linejoin="round" />
<path d="M537.2,906.5C536.4,909.6 534.1,917.8 532.5,925C530.9,932.2 528.8,942.8 527.5,950C526.2,957.2 524.6,963.3 525,968C525.4,972.7 527.3,975.3 530,978C532.7,980.7 536.7,982.2 541,984C545.3,985.8 553.5,988.2 556,989" fill="none" stroke="#f7d200" stroke-width="4.8" stroke-linecap="butt" stroke-linejoin="round" /><path d="M537.2,906.5C536.4,909.6 534.1,917.8 532.5,925C530.9,932.2 528.8,942.8 527.5,950C526.2,957.2 524.6,963.3 525,968C525.4,972.7 527.3,975.3 530,978C532.7,980.7 536.7,982.2 541,984C545.3,985.8 553.5,988.2 556,989" fill="none" stroke="#ffe01b" stroke-width="4" stroke-linecap="butt" stroke-linejoin="round" />
<ellipse cx="537.6" cy="903.8" rx="4.2" ry="3.4" fill="#4a4a48"/>
<ellipse cx="551.3" cy="912" rx="4.2" ry="3.4" fill="#4a4a48"/>
<path d="M556,991C559.3,993 569.3,998.7 576,1002.5C582.7,1006.4 589.3,1010.2 596,1014C602.7,1017.9 609.3,1021.7 616,1025.5C622.7,1029.4 629.3,1033.2 636,1037C642.7,1040.9 649.3,1044.7 656,1048.5C662.7,1052.4 669.3,1056.2 676,1060C682.7,1063.9 689.3,1067.7 696,1071.5C702.7,1075.4 709.3,1079.2 716,1083C722.7,1086.8 729.3,1090.7 736,1094.5C742.7,1098.3 749.3,1102.2 756,1106C762.7,1109.8 769.3,1113.7 776,1117.5C782.7,1121.3 789.3,1125.2 796,1129C802.7,1132.8 809.3,1136.7 816,1140.5C822.7,1144.3 829.3,1148.2 836,1152C842.7,1155.8 849.3,1159.7 856,1163.5C862.7,1167.3 869.3,1171.2 876,1175C882.7,1178.8 890,1182.8 896,1186.5C902,1190.1 907.7,1193.7 912,1197C916.3,1200.3 918.2,1203.2 922,1206C925.8,1208.8 932.8,1212.7 935,1214" fill="none" stroke="#f7d200" stroke-width="5.4" stroke-linecap="round" stroke-linejoin="round" /><path d="M556,991C559.3,993 569.3,998.7 576,1002.5C582.7,1006.4 589.3,1010.2 596,1014C602.7,1017.9 609.3,1021.7 616,1025.5C622.7,1029.4 629.3,1033.2 636,1037C642.7,1040.9 649.3,1044.7 656,1048.5C662.7,1052.4 669.3,1056.2 676,1060C682.7,1063.9 689.3,1067.7 696,1071.5C702.7,1075.4 709.3,1079.2 716,1083C722.7,1086.8 729.3,1090.7 736,1094.5C742.7,1098.3 749.3,1102.2 756,1106C762.7,1109.8 769.3,1113.7 776,1117.5C782.7,1121.3 789.3,1125.2 796,1129C802.7,1132.8 809.3,1136.7 816,1140.5C822.7,1144.3 829.3,1148.2 836,1152C842.7,1155.8 849.3,1159.7 856,1163.5C862.7,1167.3 869.3,1171.2 876,1175C882.7,1178.8 890,1182.8 896,1186.5C902,1190.1 907.7,1193.7 912,1197C916.3,1200.3 918.2,1203.2 922,1206C925.8,1208.8 932.8,1212.7 935,1214" fill="none" stroke="#ffe01b" stroke-width="4.8" stroke-linecap="round" stroke-linejoin="round" />
<path d="M935,1214C937.5,1215.1 946,1219.8 950,1220.5C954,1221.2 957,1221.4 959,1218C961,1214.6 961.4,1208 962,1200C962.6,1192 961.8,1178.3 962.5,1170C963.2,1161.7 965.4,1153.3 966,1150" fill="none" stroke="#f7d200" stroke-width="4.8" stroke-linecap="butt" stroke-linejoin="round" /><path d="M935,1214C937.5,1215.1 946,1219.8 950,1220.5C954,1221.2 957,1221.4 959,1218C961,1214.6 961.4,1208 962,1200C962.6,1192 961.8,1178.3 962.5,1170C963.2,1161.7 965.4,1153.3 966,1150" fill="none" stroke="#ffe01b" stroke-width="4" stroke-linecap="butt" stroke-linejoin="round" />
<path d="M950.5,1142C948.9,1144.2 943.5,1148.7 941,1155C938.5,1161.3 936,1172 935.5,1180C935,1188 935.9,1196.8 938,1203C940.1,1209.2 944,1213.8 948,1217C952,1220.2 957.5,1219.9 962,1222C966.5,1224.1 972.8,1228.2 975,1229.5" fill="none" stroke="#f7d200" stroke-width="4.8" stroke-linecap="butt" stroke-linejoin="round" /><path d="M950.5,1142C948.9,1144.2 943.5,1148.7 941,1155C938.5,1161.3 936,1172 935.5,1180C935,1188 935.9,1196.8 938,1203C940.1,1209.2 944,1213.8 948,1217C952,1220.2 957.5,1219.9 962,1222C966.5,1224.1 972.8,1228.2 975,1229.5" fill="none" stroke="#ffe01b" stroke-width="4" stroke-linecap="butt" stroke-linejoin="round" />
<ellipse cx="951.5" cy="1139.5" rx="4.2" ry="3.4" fill="#4a4a48"/>
<ellipse cx="967.5" cy="1148" rx="4.2" ry="3.4" fill="#4a4a48"/>
<path d="M975,1233C978.3,1235 988.3,1240.7 995,1244.5C1001.7,1248.4 1008.3,1252.2 1015,1256C1021.7,1259.9 1028.3,1263.7 1035,1267.5C1041.7,1271.4 1048.3,1275.2 1055,1279C1061.7,1282.9 1068.3,1286.7 1075,1290.5C1081.7,1294.4 1088.3,1298.2 1095,1302C1101.7,1305.8 1108.3,1309.7 1115,1313.5C1121.7,1317.3 1128.3,1321.2 1135,1325C1141.7,1328.8 1148.3,1332.7 1155,1336.5C1161.7,1340.3 1168.3,1344.2 1175,1348C1181.7,1351.8 1188.3,1355.7 1195,1359.5C1201.7,1363.3 1208.3,1367.2 1215,1371C1221.7,1374.8 1228.3,1378.7 1235,1382.5C1241.7,1386.3 1248.3,1390.1 1255,1394C1261.7,1397.8 1268.3,1401.6 1275,1405.5C1281.7,1409.3 1288.3,1413.1 1295,1417C1301.7,1420.8 1308.3,1424.6 1315,1428.5C1321.7,1432.3 1328.3,1436.1 1335,1440C1341.7,1443.8 1348.3,1447.6 1355,1451.5C1361.7,1455.3 1368.3,1458.9 1375,1463C1381.7,1467 1390,1472.5 1395,1476C1400,1479.5 1403.3,1482.7 1405,1484" fill="none" stroke="#f7d200" stroke-width="5.4" stroke-linecap="round" stroke-linejoin="round" /><path d="M975,1233C978.3,1235 988.3,1240.7 995,1244.5C1001.7,1248.4 1008.3,1252.2 1015,1256C1021.7,1259.9 1028.3,1263.7 1035,1267.5C1041.7,1271.4 1048.3,1275.2 1055,1279C1061.7,1282.9 1068.3,1286.7 1075,1290.5C1081.7,1294.4 1088.3,1298.2 1095,1302C1101.7,1305.8 1108.3,1309.7 1115,1313.5C1121.7,1317.3 1128.3,1321.2 1135,1325C1141.7,1328.8 1148.3,1332.7 1155,1336.5C1161.7,1340.3 1168.3,1344.2 1175,1348C1181.7,1351.8 1188.3,1355.7 1195,1359.5C1201.7,1363.3 1208.3,1367.2 1215,1371C1221.7,1374.8 1228.3,1378.7 1235,1382.5C1241.7,1386.3 1248.3,1390.1 1255,1394C1261.7,1397.8 1268.3,1401.6 1275,1405.5C1281.7,1409.3 1288.3,1413.1 1295,1417C1301.7,1420.8 1308.3,1424.6 1315,1428.5C1321.7,1432.3 1328.3,1436.1 1335,1440C1341.7,1443.8 1348.3,1447.6 1355,1451.5C1361.7,1455.3 1368.3,1458.9 1375,1463C1381.7,1467 1390,1472.5 1395,1476C1400,1479.5 1403.3,1482.7 1405,1484" fill="none" stroke="#ffe01b" stroke-width="4.8" stroke-linecap="round" stroke-linejoin="round" />
<path d="M1405,1484C1407.5,1485 1415.5,1489.5 1420,1490C1424.5,1490.5 1429.2,1489.8 1432,1487C1434.8,1484.2 1437,1478.3 1437,1473C1437,1467.7 1433.2,1459.8 1432,1455C1430.8,1450.2 1429.9,1445.8 1429.5,1444" fill="none" stroke="#f7d200" stroke-width="4.2" stroke-linecap="round" stroke-linejoin="round" /><path d="M1405,1484C1407.5,1485 1415.5,1489.5 1420,1490C1424.5,1490.5 1429.2,1489.8 1432,1487C1434.8,1484.2 1437,1478.3 1437,1473C1437,1467.7 1433.2,1459.8 1432,1455C1430.8,1450.2 1429.9,1445.8 1429.5,1444" fill="none" stroke="#ffe01b" stroke-width="3.6" stroke-linecap="round" stroke-linejoin="round" />
<path d="M1429.5,1444C1428.9,1441.3 1427.9,1432.8 1426,1428C1424.1,1423.2 1419.3,1417.2 1418,1415" fill="none" stroke="#e03a1e" stroke-width="3" stroke-linecap="butt" stroke-linejoin="round" />
<path d="M1387,1436C1387.8,1433.7 1389.2,1425.8 1392,1422C1394.8,1418.2 1402,1414.5 1404,1413" fill="none" stroke="#2f8fd6" stroke-width="3" stroke-linecap="butt" stroke-linejoin="round" />
<path d="M1387,1436C1386,1438.7 1381.5,1446.3 1381,1452C1380.5,1457.7 1381.5,1464.7 1384,1470C1386.5,1475.3 1391.3,1480.3 1396,1484C1400.7,1487.7 1406.7,1489.7 1412,1492C1417.3,1494.3 1423.3,1496 1428,1498C1432.7,1500 1438,1503 1440,1504" fill="none" stroke="#f7d200" stroke-width="4.2" stroke-linecap="round" stroke-linejoin="round" /><path d="M1387,1436C1386,1438.7 1381.5,1446.3 1381,1452C1380.5,1457.7 1381.5,1464.7 1384,1470C1386.5,1475.3 1391.3,1480.3 1396,1484C1400.7,1487.7 1406.7,1489.7 1412,1492C1417.3,1494.3 1423.3,1496 1428,1498C1432.7,1500 1438,1503 1440,1504" fill="none" stroke="#ffe01b" stroke-width="3.6" stroke-linecap="round" stroke-linejoin="round" />
<ellipse cx="1411.5" cy="1412.5" rx="6.5" ry="5.5" fill="#d8d8d8" stroke="#777" stroke-width="0.6"/>
<ellipse cx="1409" cy="1413" rx="4.2" ry="5" fill="#f7f0b4" stroke="#777" stroke-width="0.5"/>
<path d="M1440,1510.1C1443.3,1512 1453.3,1517.7 1460,1521.6C1466.7,1525.4 1473.3,1529.2 1480,1533.1C1486.7,1536.9 1493.3,1540.7 1500,1544.6C1506.7,1548.4 1513.3,1552.2 1520,1556.1C1526.7,1559.9 1533.3,1563.7 1540,1567.6C1546.7,1571.4 1553.3,1575.2 1560,1579.1C1566.7,1582.9 1573.3,1586.7 1580,1590.5C1586.7,1594.4 1593.3,1598.2 1600,1602C1606.7,1605.9 1613.3,1609.7 1620,1613.5C1626.7,1617.4 1633.3,1621.2 1640,1625C1646.7,1628.9 1653.9,1630.8 1660,1636.5C1666.1,1642.3 1669.9,1653.9 1676.6,1659.6C1683.3,1665.3 1692.8,1667.8 1700,1671C1707.2,1674.2 1713,1677.1 1720,1679C1727,1680.9 1735.1,1682.6 1741.8,1682.6C1748.5,1682.6 1754.5,1681.2 1760,1679C1765.5,1676.8 1768.5,1674.7 1775,1669.5C1781.5,1664.3 1790,1655 1799.2,1648.1C1808.4,1641.2 1819.9,1634.7 1830,1628C1840.1,1621.3 1852.2,1613.4 1860,1608C1867.8,1602.6 1873.2,1599.3 1877,1595.5C1880.8,1591.7 1881.6,1590.1 1882.8,1585C1884,1579.9 1884.1,1571.7 1884,1565C1883.9,1558.3 1883.6,1551.4 1882,1545C1880.4,1538.6 1875.8,1529.6 1874.5,1526.5" fill="none" stroke="#f7d200" stroke-width="5.4" stroke-linecap="round" stroke-linejoin="round" /><path d="M1440,1510.1C1443.3,1512 1453.3,1517.7 1460,1521.6C1466.7,1525.4 1473.3,1529.2 1480,1533.1C1486.7,1536.9 1493.3,1540.7 1500,1544.6C1506.7,1548.4 1513.3,1552.2 1520,1556.1C1526.7,1559.9 1533.3,1563.7 1540,1567.6C1546.7,1571.4 1553.3,1575.2 1560,1579.1C1566.7,1582.9 1573.3,1586.7 1580,1590.5C1586.7,1594.4 1593.3,1598.2 1600,1602C1606.7,1605.9 1613.3,1609.7 1620,1613.5C1626.7,1617.4 1633.3,1621.2 1640,1625C1646.7,1628.9 1653.9,1630.8 1660,1636.5C1666.1,1642.3 1669.9,1653.9 1676.6,1659.6C1683.3,1665.3 1692.8,1667.8 1700,1671C1707.2,1674.2 1713,1677.1 1720,1679C1727,1680.9 1735.1,1682.6 1741.8,1682.6C1748.5,1682.6 1754.5,1681.2 1760,1679C1765.5,1676.8 1768.5,1674.7 1775,1669.5C1781.5,1664.3 1790,1655 1799.2,1648.1C1808.4,1641.2 1819.9,1634.7 1830,1628C1840.1,1621.3 1852.2,1613.4 1860,1608C1867.8,1602.6 1873.2,1599.3 1877,1595.5C1880.8,1591.7 1881.6,1590.1 1882.8,1585C1884,1579.9 1884.1,1571.7 1884,1565C1883.9,1558.3 1883.6,1551.4 1882,1545C1880.4,1538.6 1875.8,1529.6 1874.5,1526.5" fill="none" stroke="#ffe01b" stroke-width="4.8" stroke-linecap="round" stroke-linejoin="round" />
<ellipse cx="1872.3" cy="1523" rx="4.2" ry="3.6" fill="#3c3c3a"/>
<ellipse cx="1851.3" cy="1533.5" rx="4.2" ry="3.6" fill="#3c3c3a"/>
<g transform="translate(475.9,945)"><polygon points="2,-2.4 8.5,-6.4 12,-4.4 5.5,-0.4" fill="#8a8876"/><polygon points="-3,-0.6 -1.2,-3 1.6,-3.4 3.6,-2 3,0.5 2.4,4.6 -3,1.6" fill="#7f7d6c"/></g>
<g transform="translate(518.4,969.4)"><polygon points="2,-2.4 8.5,-6.4 12,-4.4 5.5,-0.4" fill="#8a8876"/><polygon points="-3,-0.6 -1.2,-3 1.6,-3.4 3.6,-2 3,0.5 2.4,4.6 -3,1.6" fill="#7f7d6c"/></g>
<g transform="translate(555.2,990.6)"><polygon points="2,-2.4 8.5,-6.4 12,-4.4 5.5,-0.4" fill="#8a8876"/><polygon points="-3,-0.6 -1.2,-3 1.6,-3.4 3.6,-2 3,0.5 2.4,4.6 -3,1.6" fill="#7f7d6c"/></g>
<g transform="translate(577,1003.1)"><polygon points="2,-2.4 8.5,-6.4 12,-4.4 5.5,-0.4" fill="#8a8876"/><polygon points="-3,-0.6 -1.2,-3 1.6,-3.4 3.6,-2 3,0.5 2.4,4.6 -3,1.6" fill="#7f7d6c"/></g>
<g transform="translate(604.6,1019)"><polygon points="2,-2.4 8.5,-6.4 12,-4.4 5.5,-0.4" fill="#8a8876"/><polygon points="-3,-0.6 -1.2,-3 1.6,-3.4 3.6,-2 3,0.5 2.4,4.6 -3,1.6" fill="#7f7d6c"/></g>
<g transform="translate(634.5,1036.2)"><polygon points="2,-2.4 8.5,-6.4 12,-4.4 5.5,-0.4" fill="#8a8876"/><polygon points="-3,-0.6 -1.2,-3 1.6,-3.4 3.6,-2 3,0.5 2.4,4.6 -3,1.6" fill="#7f7d6c"/></g>
<g transform="translate(663.2,1052.7)"><polygon points="2,-2.4 8.5,-6.4 12,-4.4 5.5,-0.4" fill="#8a8876"/><polygon points="-3,-0.6 -1.2,-3 1.6,-3.4 3.6,-2 3,0.5 2.4,4.6 -3,1.6" fill="#7f7d6c"/></g>
<g transform="translate(691.9,1069.2)"><polygon points="2,-2.4 8.5,-6.4 12,-4.4 5.5,-0.4" fill="#8a8876"/><polygon points="-3,-0.6 -1.2,-3 1.6,-3.4 3.6,-2 3,0.5 2.4,4.6 -3,1.6" fill="#7f7d6c"/></g>
<g transform="translate(720.6,1085.7)"><polygon points="2,-2.4 8.5,-6.4 12,-4.4 5.5,-0.4" fill="#8a8876"/><polygon points="-3,-0.6 -1.2,-3 1.6,-3.4 3.6,-2 3,0.5 2.4,4.6 -3,1.6" fill="#7f7d6c"/></g>
<g transform="translate(749.3,1102.2)"><polygon points="2,-2.4 8.5,-6.4 12,-4.4 5.5,-0.4" fill="#8a8876"/><polygon points="-3,-0.6 -1.2,-3 1.6,-3.4 3.6,-2 3,0.5 2.4,4.6 -3,1.6" fill="#7f7d6c"/></g>
<g transform="translate(778,1118.7)"><polygon points="2,-2.4 8.5,-6.4 12,-4.4 5.5,-0.4" fill="#8a8876"/><polygon points="-3,-0.6 -1.2,-3 1.6,-3.4 3.6,-2 3,0.5 2.4,4.6 -3,1.6" fill="#7f7d6c"/></g>
<g transform="translate(806.7,1135.2)"><polygon points="2,-2.4 8.5,-6.4 12,-4.4 5.5,-0.4" fill="#8a8876"/><polygon points="-3,-0.6 -1.2,-3 1.6,-3.4 3.6,-2 3,0.5 2.4,4.6 -3,1.6" fill="#7f7d6c"/></g>
<g transform="translate(835.4,1151.6)"><polygon points="2,-2.4 8.5,-6.4 12,-4.4 5.5,-0.4" fill="#8a8876"/><polygon points="-3,-0.6 -1.2,-3 1.6,-3.4 3.6,-2 3,0.5 2.4,4.6 -3,1.6" fill="#7f7d6c"/></g>
<g transform="translate(864.1,1168.1)"><polygon points="2,-2.4 8.5,-6.4 12,-4.4 5.5,-0.4" fill="#8a8876"/><polygon points="-3,-0.6 -1.2,-3 1.6,-3.4 3.6,-2 3,0.5 2.4,4.6 -3,1.6" fill="#7f7d6c"/></g>
<g transform="translate(892.8,1184.6)"><polygon points="2,-2.4 8.5,-6.4 12,-4.4 5.5,-0.4" fill="#8a8876"/><polygon points="-3,-0.6 -1.2,-3 1.6,-3.4 3.6,-2 3,0.5 2.4,4.6 -3,1.6" fill="#7f7d6c"/></g>
<g transform="translate(921.5,1201.1)"><polygon points="2,-2.4 8.5,-6.4 12,-4.4 5.5,-0.4" fill="#8a8876"/><polygon points="-3,-0.6 -1.2,-3 1.6,-3.4 3.6,-2 3,0.5 2.4,4.6 -3,1.6" fill="#7f7d6c"/></g>
<g transform="translate(1007.6,1251.8)"><polygon points="2,-2.4 8.5,-6.4 12,-4.4 5.5,-0.4" fill="#8a8876"/><polygon points="-3,-0.6 -1.2,-3 1.6,-3.4 3.6,-2 3,0.5 2.4,4.6 -3,1.6" fill="#7f7d6c"/></g>
<g transform="translate(1036.3,1268.3)"><polygon points="2,-2.4 8.5,-6.4 12,-4.4 5.5,-0.4" fill="#8a8876"/><polygon points="-3,-0.6 -1.2,-3 1.6,-3.4 3.6,-2 3,0.5 2.4,4.6 -3,1.6" fill="#7f7d6c"/></g>
<g transform="translate(1065,1284.8)"><polygon points="2,-2.4 8.5,-6.4 12,-4.4 5.5,-0.4" fill="#8a8876"/><polygon points="-3,-0.6 -1.2,-3 1.6,-3.4 3.6,-2 3,0.5 2.4,4.6 -3,1.6" fill="#7f7d6c"/></g>
<g transform="translate(1093.7,1301.3)"><polygon points="2,-2.4 8.5,-6.4 12,-4.4 5.5,-0.4" fill="#8a8876"/><polygon points="-3,-0.6 -1.2,-3 1.6,-3.4 3.6,-2 3,0.5 2.4,4.6 -3,1.6" fill="#7f7d6c"/></g>
<g transform="translate(1122.4,1317.8)"><polygon points="2,-2.4 8.5,-6.4 12,-4.4 5.5,-0.4" fill="#8a8876"/><polygon points="-3,-0.6 -1.2,-3 1.6,-3.4 3.6,-2 3,0.5 2.4,4.6 -3,1.6" fill="#7f7d6c"/></g>
<g transform="translate(1151.1,1334.3)"><polygon points="2,-2.4 8.5,-6.4 12,-4.4 5.5,-0.4" fill="#8a8876"/><polygon points="-3,-0.6 -1.2,-3 1.6,-3.4 3.6,-2 3,0.5 2.4,4.6 -3,1.6" fill="#7f7d6c"/></g>
<g transform="translate(1179.8,1350.8)"><polygon points="2,-2.4 8.5,-6.4 12,-4.4 5.5,-0.4" fill="#8a8876"/><polygon points="-3,-0.6 -1.2,-3 1.6,-3.4 3.6,-2 3,0.5 2.4,4.6 -3,1.6" fill="#7f7d6c"/></g>
<g transform="translate(1208.5,1367.3)"><polygon points="2,-2.4 8.5,-6.4 12,-4.4 5.5,-0.4" fill="#8a8876"/><polygon points="-3,-0.6 -1.2,-3 1.6,-3.4 3.6,-2 3,0.5 2.4,4.6 -3,1.6" fill="#7f7d6c"/></g>
<g transform="translate(1237.2,1383.8)"><polygon points="2,-2.4 8.5,-6.4 12,-4.4 5.5,-0.4" fill="#8a8876"/><polygon points="-3,-0.6 -1.2,-3 1.6,-3.4 3.6,-2 3,0.5 2.4,4.6 -3,1.6" fill="#7f7d6c"/></g>
<g transform="translate(1265.9,1400.2)"><polygon points="2,-2.4 8.5,-6.4 12,-4.4 5.5,-0.4" fill="#8a8876"/><polygon points="-3,-0.6 -1.2,-3 1.6,-3.4 3.6,-2 3,0.5 2.4,4.6 -3,1.6" fill="#7f7d6c"/></g>
<g transform="translate(1294.6,1416.7)"><polygon points="2,-2.4 8.5,-6.4 12,-4.4 5.5,-0.4" fill="#8a8876"/><polygon points="-3,-0.6 -1.2,-3 1.6,-3.4 3.6,-2 3,0.5 2.4,4.6 -3,1.6" fill="#7f7d6c"/></g>
<g transform="translate(1323.3,1433.2)"><polygon points="2,-2.4 8.5,-6.4 12,-4.4 5.5,-0.4" fill="#8a8876"/><polygon points="-3,-0.6 -1.2,-3 1.6,-3.4 3.6,-2 3,0.5 2.4,4.6 -3,1.6" fill="#7f7d6c"/></g>
<g transform="translate(1352,1449.7)"><polygon points="2,-2.4 8.5,-6.4 12,-4.4 5.5,-0.4" fill="#8a8876"/><polygon points="-3,-0.6 -1.2,-3 1.6,-3.4 3.6,-2 3,0.5 2.4,4.6 -3,1.6" fill="#7f7d6c"/></g>
<g transform="translate(1380.7,1466.2)"><polygon points="2,-2.4 8.5,-6.4 12,-4.4 5.5,-0.4" fill="#8a8876"/><polygon points="-3,-0.6 -1.2,-3 1.6,-3.4 3.6,-2 3,0.5 2.4,4.6 -3,1.6" fill="#7f7d6c"/></g>
<g transform="translate(1466.8,1525.5)"><polygon points="2,-2.4 8.5,-6.4 12,-4.4 5.5,-0.4" fill="#8a8876"/><polygon points="-3,-0.6 -1.2,-3 1.6,-3.4 3.6,-2 3,0.5 2.4,4.6 -3,1.6" fill="#7f7d6c"/></g>
<g transform="translate(1495.5,1542)"><polygon points="2,-2.4 8.5,-6.4 12,-4.4 5.5,-0.4" fill="#8a8876"/><polygon points="-3,-0.6 -1.2,-3 1.6,-3.4 3.6,-2 3,0.5 2.4,4.6 -3,1.6" fill="#7f7d6c"/></g>
<g transform="translate(1524.2,1558.5)"><polygon points="2,-2.4 8.5,-6.4 12,-4.4 5.5,-0.4" fill="#8a8876"/><polygon points="-3,-0.6 -1.2,-3 1.6,-3.4 3.6,-2 3,0.5 2.4,4.6 -3,1.6" fill="#7f7d6c"/></g>
<g transform="translate(1552.9,1575)"><polygon points="2,-2.4 8.5,-6.4 12,-4.4 5.5,-0.4" fill="#8a8876"/><polygon points="-3,-0.6 -1.2,-3 1.6,-3.4 3.6,-2 3,0.5 2.4,4.6 -3,1.6" fill="#7f7d6c"/></g>
<g transform="translate(1581.6,1591.5)"><polygon points="2,-2.4 8.5,-6.4 12,-4.4 5.5,-0.4" fill="#8a8876"/><polygon points="-3,-0.6 -1.2,-3 1.6,-3.4 3.6,-2 3,0.5 2.4,4.6 -3,1.6" fill="#7f7d6c"/></g>
<g transform="translate(1610.3,1608)"><polygon points="2,-2.4 8.5,-6.4 12,-4.4 5.5,-0.4" fill="#8a8876"/><polygon points="-3,-0.6 -1.2,-3 1.6,-3.4 3.6,-2 3,0.5 2.4,4.6 -3,1.6" fill="#7f7d6c"/></g>
<g transform="translate(1639,1624.5)"><polygon points="2,-2.4 8.5,-6.4 12,-4.4 5.5,-0.4" fill="#8a8876"/><polygon points="-3,-0.6 -1.2,-3 1.6,-3.4 3.6,-2 3,0.5 2.4,4.6 -3,1.6" fill="#7f7d6c"/></g>
<g transform="translate(453.4,944.8)"><polygon points="-4,-2.5 0,-4.5 3.5,-1.5 -0.5,0.5" fill="#7f7d6c"/><polygon points="0,0 5,-2 9,1.5 4,3.5" fill="#8a8876"/></g>
<g transform="translate(1700,1671)"><polygon points="2,-2.4 8.5,-6.4 12,-4.4 5.5,-0.4" fill="#8a8876"/><polygon points="-3,-0.6 -1.2,-3 1.6,-3.4 3.6,-2 3,0.5 2.4,4.6 -3,1.6" fill="#7f7d6c"/></g>
<g transform="translate(1722,1680)"><polygon points="2,-2.4 8.5,-6.4 12,-4.4 5.5,-0.4" fill="#8a8876"/><polygon points="-3,-0.6 -1.2,-3 1.6,-3.4 3.6,-2 3,0.5 2.4,4.6 -3,1.6" fill="#7f7d6c"/></g>
<g transform="translate(1790,1655)"><polygon points="-2.5,0.5 2,-2.5 2,2.5 -2.5,5.5" fill="#7f7d6c"/><polygon points="-9,-4.6 -2,-0.8 -4.5,0.8 -11.5,-3" fill="#7f7d6c"/></g>
<g transform="translate(1838,1622.5)"><polygon points="-2.5,0.5 2,-2.5 2,2.5 -2.5,5.5" fill="#7f7d6c"/><polygon points="-9,-4.6 -2,-0.8 -4.5,0.8 -11.5,-3" fill="#7f7d6c"/></g>
<g transform="translate(1866,1604)"><polygon points="-2.5,0.5 2,-2.5 2,2.5 -2.5,5.5" fill="#7f7d6c"/><polygon points="-9,-4.6 -2,-0.8 -4.5,0.8 -11.5,-3" fill="#7f7d6c"/></g>
<g><path d="M1129.6,1296 L1129.6,1346.3 A3,1.8 0 0 0 1135.5,1346.3 L1135.5,1296 A3,1.8 0 0 0 1129.6,1296 Z" fill="url(#rg)" stroke="#5c5c5c" stroke-width="0.85"/><ellipse cx="1132.6" cy="1296" rx="3" ry="1.8" fill="url(#rt)" stroke="#5c5c5c" stroke-width="0.85"/></g>
<g><path d="M1163.1,1315.3 L1163.1,1365.5 A3,1.8 0 0 0 1169,1365.5 L1169,1315.3 A3,1.8 0 0 0 1163.1,1315.3 Z" fill="url(#rg)" stroke="#5c5c5c" stroke-width="0.85"/><ellipse cx="1166.1" cy="1315.3" rx="3" ry="1.8" fill="url(#rt)" stroke="#5c5c5c" stroke-width="0.85"/></g>
<g><path d="M1196.6,1334.5 L1196.6,1384.8 A3,1.8 0 0 0 1202.5,1384.8 L1202.5,1334.5 A3,1.8 0 0 0 1196.6,1334.5 Z" fill="url(#rg)" stroke="#5c5c5c" stroke-width="0.85"/><ellipse cx="1199.5" cy="1334.5" rx="3" ry="1.8" fill="url(#rt)" stroke="#5c5c5c" stroke-width="0.85"/></g>
<g><path d="M1230.1,1353.7 L1230.1,1404 A3,1.8 0 0 0 1236,1404 L1236,1353.7 A3,1.8 0 0 0 1230.1,1353.7 Z" fill="url(#rg)" stroke="#5c5c5c" stroke-width="0.85"/><ellipse cx="1233" cy="1353.7" rx="3" ry="1.8" fill="url(#rt)" stroke="#5c5c5c" stroke-width="0.85"/></g>
<g><path d="M1263.5,1373 L1263.5,1423.2 A3,1.8 0 0 0 1269.4,1423.2 L1269.4,1373 A3,1.8 0 0 0 1263.5,1373 Z" fill="url(#rg)" stroke="#5c5c5c" stroke-width="0.85"/><ellipse cx="1266.5" cy="1373" rx="3" ry="1.8" fill="url(#rt)" stroke="#5c5c5c" stroke-width="0.85"/></g>
<g><path d="M1297,1392.2 L1297,1442.5 A3,1.8 0 0 0 1302.9,1442.5 L1302.9,1392.2 A3,1.8 0 0 0 1297,1392.2 Z" fill="url(#rg)" stroke="#5c5c5c" stroke-width="0.85"/><ellipse cx="1300" cy="1392.2" rx="3" ry="1.8" fill="url(#rt)" stroke="#5c5c5c" stroke-width="0.85"/></g>
<g><path d="M1330.5,1411.4 L1330.5,1461.7 A3,1.8 0 0 0 1336.4,1461.7 L1336.4,1411.4 A3,1.8 0 0 0 1330.5,1411.4 Z" fill="url(#rg)" stroke="#5c5c5c" stroke-width="0.85"/><ellipse cx="1333.4" cy="1411.4" rx="3" ry="1.8" fill="url(#rt)" stroke="#5c5c5c" stroke-width="0.85"/></g>
<g><path d="M1363.9,1430.7 L1363.9,1480.9 A3,1.8 0 0 0 1369.8,1480.9 L1369.8,1430.7 A3,1.8 0 0 0 1363.9,1430.7 Z" fill="url(#rg)" stroke="#5c5c5c" stroke-width="0.85"/><ellipse cx="1366.9" cy="1430.7" rx="3" ry="1.8" fill="url(#rt)" stroke="#5c5c5c" stroke-width="0.85"/></g>
<g><path d="M1397.4,1449.9 L1397.4,1500.2 A3,1.8 0 0 0 1403.3,1500.2 L1403.3,1449.9 A3,1.8 0 0 0 1397.4,1449.9 Z" fill="url(#rg)" stroke="#5c5c5c" stroke-width="0.85"/><ellipse cx="1400.4" cy="1449.9" rx="3" ry="1.8" fill="url(#rt)" stroke="#5c5c5c" stroke-width="0.85"/></g>
<g><path d="M1430.9,1469.2 L1430.9,1519.4 A3,1.8 0 0 0 1436.8,1519.4 L1436.8,1469.2 A3,1.8 0 0 0 1430.9,1469.2 Z" fill="url(#rg)" stroke="#5c5c5c" stroke-width="0.85"/><ellipse cx="1433.8" cy="1469.2" rx="3" ry="1.8" fill="url(#rt)" stroke="#5c5c5c" stroke-width="0.85"/></g>
<g><path d="M1464.3,1488.4 L1464.3,1538.7 A3,1.8 0 0 0 1470.2,1538.7 L1470.2,1488.4 A3,1.8 0 0 0 1464.3,1488.4 Z" fill="url(#rg)" stroke="#5c5c5c" stroke-width="0.85"/><ellipse cx="1467.3" cy="1488.4" rx="3" ry="1.8" fill="url(#rt)" stroke="#5c5c5c" stroke-width="0.85"/></g>
<g><path d="M1497.8,1507.6 L1497.8,1557.9 A3,1.8 0 0 0 1503.7,1557.9 L1503.7,1507.6 A3,1.8 0 0 0 1497.8,1507.6 Z" fill="url(#rg)" stroke="#5c5c5c" stroke-width="0.85"/><ellipse cx="1500.8" cy="1507.6" rx="3" ry="1.8" fill="url(#rt)" stroke="#5c5c5c" stroke-width="0.85"/></g>
<g><path d="M1531.3,1526.9 L1531.3,1577.1 A3,1.8 0 0 0 1537.2,1577.1 L1537.2,1526.9 A3,1.8 0 0 0 1531.3,1526.9 Z" fill="url(#rg)" stroke="#5c5c5c" stroke-width="0.85"/><ellipse cx="1534.2" cy="1526.9" rx="3" ry="1.8" fill="url(#rt)" stroke="#5c5c5c" stroke-width="0.85"/></g>
<g><path d="M1564.8,1546.1 L1564.8,1596.4 A3,1.8 0 0 0 1570.7,1596.4 L1570.7,1546.1 A3,1.8 0 0 0 1564.8,1546.1 Z" fill="url(#rg)" stroke="#5c5c5c" stroke-width="0.85"/><ellipse cx="1567.7" cy="1546.1" rx="3" ry="1.8" fill="url(#rt)" stroke="#5c5c5c" stroke-width="0.85"/></g>
<g><path d="M1598.2,1565.4 L1598.2,1615.6 A3,1.8 0 0 0 1604.1,1615.6 L1604.1,1565.4 A3,1.8 0 0 0 1598.2,1565.4 Z" fill="url(#rg)" stroke="#5c5c5c" stroke-width="0.85"/><ellipse cx="1601.2" cy="1565.4" rx="3" ry="1.8" fill="url(#rt)" stroke="#5c5c5c" stroke-width="0.85"/></g>
<g><path d="M1631.7,1584.6 L1631.7,1634.9 A3,1.8 0 0 0 1637.6,1634.9 L1637.6,1584.6 A3,1.8 0 0 0 1631.7,1584.6 Z" fill="url(#rg)" stroke="#5c5c5c" stroke-width="0.85"/><ellipse cx="1634.7" cy="1584.6" rx="3" ry="1.8" fill="url(#rt)" stroke="#5c5c5c" stroke-width="0.85"/></g>
<g><path d="M1665.2,1603.8 L1665.2,1654.1 A3,1.8 0 0 0 1671.1,1654.1 L1671.1,1603.8 A3,1.8 0 0 0 1665.2,1603.8 Z" fill="url(#rg)" stroke="#5c5c5c" stroke-width="0.85"/><ellipse cx="1668.1" cy="1603.8" rx="3" ry="1.8" fill="url(#rt)" stroke="#5c5c5c" stroke-width="0.85"/></g>
<g><path d="M1698.6,1623.1 L1698.6,1673.3 A3,1.8 0 0 0 1704.5,1673.3 L1704.5,1623.1 A3,1.8 0 0 0 1698.6,1623.1 Z" fill="url(#rg)" stroke="#5c5c5c" stroke-width="0.85"/><ellipse cx="1701.6" cy="1623.1" rx="3" ry="1.8" fill="url(#rt)" stroke="#5c5c5c" stroke-width="0.85"/></g>
<g><path d="M1732.1,1642.3 L1732.1,1692.6 A3,1.8 0 0 0 1738,1692.6 L1738,1642.3 A3,1.8 0 0 0 1732.1,1642.3 Z" fill="url(#rg)" stroke="#5c5c5c" stroke-width="0.85"/><ellipse cx="1735.1" cy="1642.3" rx="3" ry="1.8" fill="url(#rt)" stroke="#5c5c5c" stroke-width="0.85"/></g>
<g><path d="M1768.2,1624.1 L1768.2,1674.3 A3,1.8 0 0 0 1774.1,1674.3 L1774.1,1624.1 A3,1.8 0 0 0 1768.2,1624.1 Z" fill="url(#rg)" stroke="#5c5c5c" stroke-width="0.85"/><ellipse cx="1771.2" cy="1624.1" rx="3" ry="1.8" fill="url(#rt)" stroke="#5c5c5c" stroke-width="0.85"/></g>
</g>
<g fill="none" stroke="#2a2a2a" stroke-linejoin="round">
<polygon points="1141.5,846.5 1186.9,820.5 1782.1,1164.3 1782.1,1678.6 1737.2,1704.4 1141.5,1361.8" stroke-width="1.3"/>
<polyline points="1141.5,846.5 1737.2,1190.3 1782.1,1164.3" stroke-width="1.3"/>
<polyline points="1737.2,1190.3 1737.2,1704.4" stroke-width="1.3"/>
<polyline points="1186.9,820.5 1186.9,1335.8 1141.5,1361.8" stroke-width="0.8" stroke="#555"/>
<polyline points="1186.9,1335.8 1782.1,1678.6" stroke-width="0.8" stroke="#666"/>
</g>
<line x1="434" y1="972.2" x2="383" y2="1132" stroke="#111" stroke-width="3.6" stroke-linecap="butt"/>
<line x1="702.9" y1="1120.3" x2="749.5" y2="1394" stroke="#111" stroke-width="3.6" stroke-linecap="butt"/>
<line x1="966.4" y1="1095.6" x2="1219" y2="515" stroke="#111" stroke-width="3.6" stroke-linecap="butt"/>
<line x1="1429.3" y1="1363.4" x2="1671.5" y2="851" stroke="#111" stroke-width="3.6" stroke-linecap="butt"/>
<line x1="1669" y1="1684.5" x2="1528" y2="1775" stroke="#111" stroke-width="3.6" stroke-linecap="butt"/>
<line x1="2151.7" y1="1343.5" x2="2196.5" y2="1123" stroke="#111" stroke-width="3.6" stroke-linecap="butt"/>
<line x1="1821.4" y1="514.1" x2="1790.1" y2="304.9" stroke="#111" stroke-width="3.6" stroke-linecap="butt"/>
<circle cx="455.5" cy="896.6" r="76.5" fill="none" stroke="#111" stroke-width="3.8"/>
<circle cx="701.1" cy="1043.4" r="76.5" fill="none" stroke="#111" stroke-width="3.8"/>
<circle cx="927.7" cy="1163.7" r="76.5" fill="none" stroke="#111" stroke-width="3.8"/>
<circle cx="1397" cy="1432.5" r="76.5" fill="none" stroke="#111" stroke-width="3.8"/>
<circle cx="1740" cy="1654.8" r="76.5" fill="none" stroke="#111" stroke-width="3.8"/>
<circle cx="2136.2" cy="1420.7" r="76.5" fill="none" stroke="#111" stroke-width="3.8"/>
<g clip-path="url(#cp8)"><rect x="71.2" y="1087.2" width="466" height="466" fill="#d9dada"/><g transform="translate(40,1060) scale(0.30612)"><polygon points="0,0 551,0 551,1358 0,1043" fill="#d7d8d8"/><polygon points="551,1358 1764,666 1764,1764 1249,1764" fill="#aeb1b0"/><polygon points="0,1043 551,1358 1249,1764 0,1764" fill="#b3b5b4"/><g stroke="#2a2a2a" stroke-width="3.8" fill="none"><polyline points="551,0 551,1358"/><polyline points="0,1043 551,1358 1249,1764"/><polyline points="551,1358 1764,666"/></g><g><path d="M1180,829 L1180,1336 A26,14 0 0 0 1232,1336 L1232,829 A26,14 0 0 0 1180,829 Z" fill="url(#rg)" stroke="#666666" stroke-width="2.4"/><ellipse cx="1206" cy="829" rx="26" ry="14" fill="url(#rt)" stroke="#666666" stroke-width="2.4"/></g><g><path d="M1510,1018.5 L1510,1316.5 A25,13.5 0 0 0 1560,1316.5 L1560,1018.5 A25,13.5 0 0 0 1510,1018.5 Z" fill="url(#rg)" stroke="#666666" stroke-width="2.4"/><ellipse cx="1535" cy="1018.5" rx="25" ry="13.5" fill="url(#rt)" stroke="#666666" stroke-width="2.4"/></g><polygon points="896,165 958,127 958,197 900,239" fill="#878573" stroke="#5b5a4e" stroke-width="2"/><ellipse cx="930" cy="177" rx="4.5" ry="4" fill="#9a9886" stroke="#55544a" stroke-width="1.5"/><polygon points="903,468 965,430 965,500 907,542" fill="#878573" stroke="#5b5a4e" stroke-width="2"/><ellipse cx="937" cy="480" rx="4.5" ry="4" fill="#9a9886" stroke="#55544a" stroke-width="1.5"/><polygon points="910,775 972,737 972,807 914,849" fill="#878573" stroke="#5b5a4e" stroke-width="2"/><ellipse cx="944" cy="787" rx="4.5" ry="4" fill="#9a9886" stroke="#55544a" stroke-width="1.5"/><polygon points="822,1248 862,1232 916,1276 876,1294" fill="#878573" stroke="#5b5a4e" stroke-width="2"/><ellipse cx="872" cy="1270" rx="4.5" ry="3.5" fill="#9a9886" stroke="#55544a" stroke-width="1.5"/><polygon points="1068.8,1317.9 1124.3,1282.3 1159.6,1299.9 1108.6,1336.5" fill="#878573" stroke="#5b5a4e" stroke-width="2"/><ellipse cx="1117.1" cy="1303.2" rx="4.5" ry="3.5" fill="#9a9886" stroke="#55544a" stroke-width="1.5"/><path d="M877,40C877.2,83.3 876.8,206.7 878,300C879.2,393.3 881.8,506.7 884,600C886.2,693.3 890.3,804.2 891,860C891.7,915.8 891.8,912.5 888,935C884.2,957.5 879,978.8 868,995C857,1011.2 842.5,1023.3 822,1032C801.5,1040.7 767.8,1040.3 745,1047C722.2,1053.7 699.5,1057.3 685,1072C670.5,1086.7 662.2,1114 658,1135C653.8,1156 654.7,1180 660,1198C665.3,1216 675,1232.3 690,1243C705,1253.7 726.7,1262.5 750,1262C773.3,1261.5 802.5,1251.7 830,1240C857.5,1228.3 891.3,1205.3 915,1192C938.7,1178.7 957.5,1164 972,1160C986.5,1156 996,1156.3 1002,1168C1008,1179.7 1004.7,1209.3 1008,1230C1011.3,1250.7 1013,1273.3 1022,1292C1031,1310.7 1042.3,1325.7 1062,1342C1081.7,1358.3 1105.3,1369 1140,1390C1174.7,1411 1248.3,1455 1270,1468" fill="none" stroke="#f3cf00" stroke-width="45.4" stroke-linecap="butt" stroke-linejoin="round" /><path d="M877,40C877.2,83.3 876.8,206.7 878,300C879.2,393.3 881.8,506.7 884,600C886.2,693.3 890.3,804.2 891,860C891.7,915.8 891.8,912.5 888,935C884.2,957.5 879,978.8 868,995C857,1011.2 842.5,1023.3 822,1032C801.5,1040.7 767.8,1040.3 745,1047C722.2,1053.7 699.5,1057.3 685,1072C670.5,1086.7 662.2,1114 658,1135C653.8,1156 654.7,1180 660,1198C665.3,1216 675,1232.3 690,1243C705,1253.7 726.7,1262.5 750,1262C773.3,1261.5 802.5,1251.7 830,1240C857.5,1228.3 891.3,1205.3 915,1192C938.7,1178.7 957.5,1164 972,1160C986.5,1156 996,1156.3 1002,1168C1008,1179.7 1004.7,1209.3 1008,1230C1011.3,1250.7 1013,1273.3 1022,1292C1031,1310.7 1042.3,1325.7 1062,1342C1081.7,1358.3 1105.3,1369 1140,1390C1174.7,1411 1248.3,1455 1270,1468" fill="none" stroke="#ffe01b" stroke-width="43" stroke-linecap="butt" stroke-linejoin="round" /><path d="M853,194 Q876,178 900,180 L904,232 Q880,248 857,246 Z" fill="#7d7b6a" stroke="#5b5a4e" stroke-width="1.5"/><path d="M860,501 Q883,485 907,487 L911,539 Q887,555 864,553 Z" fill="#7d7b6a" stroke="#5b5a4e" stroke-width="1.5"/><path d="M867,810 Q890,794 914,796 L918,848 Q894,864 871,862 Z" fill="#7d7b6a" stroke="#5b5a4e" stroke-width="1.5"/><polygon points="806,1222 836,1208 862,1232 868,1262 836,1268" fill="#7d7b6a" stroke="#5b5a4e" stroke-width="1.5"/><polygon points="1019.8,1344.4 1022.4,1333.3 1028.6,1319.9 1037.4,1312.4 1046.6,1308.4 1068.8,1317.6 1064.2,1328.7 1060.9,1346.7 1057.7,1373.1" fill="#7d7b6a" stroke="#5b5a4e" stroke-width="1.5" stroke-linejoin="round"/><polygon points="1238,1432 1262,1446 1252,1500 1228,1486" fill="#6e6c5d"/><g><path d="M925,979.3 L925,1483.7 A26.5,14.3 0 0 0 978,1483.7 L978,979.3 A26.5,14.3 0 0 0 925,979.3 Z" fill="url(#rg)" stroke="#666666" stroke-width="2.4"/><ellipse cx="951.5" cy="979.3" rx="26.5" ry="14.3" fill="url(#rt)" stroke="#666666" stroke-width="2.4"/></g><g><path d="M1255,1164 L1255,1546 A26,14 0 0 0 1307,1546 L1307,1164 A26,14 0 0 0 1255,1164 Z" fill="url(#rg)" stroke="#666666" stroke-width="2.4"/><ellipse cx="1281" cy="1164" rx="26" ry="14" fill="url(#rt)" stroke="#666666" stroke-width="2.4"/></g></g></g><circle cx="304.2" cy="1320.2" r="231" fill="none" stroke="#111" stroke-width="4.1"/>
<g clip-path="url(#cp3)"><rect x="558.4" y="1384.8" width="466" height="466" fill="#aeb1b0"/><g transform="translate(530,1360) scale(0.30612)"><polygon points="0,982 150,1068 1010,1560 1200,1669 1200,1764 0,1764" fill="#b3b5b4"/><polyline points="0,982 150,1068 1010,1560 1200,1669" stroke="#2a2a2a" stroke-width="3.8" fill="none"/><g><path d="M316,164 L316,781 A26,14 0 0 0 368,781 L368,164 A26,14 0 0 0 316,164 Z" fill="url(#rg)" stroke="#666666" stroke-width="2.4"/><ellipse cx="342" cy="164" rx="26" ry="14" fill="url(#rt)" stroke="#666666" stroke-width="2.4"/></g><g><path d="M645,466 L645,971 A26,14 0 0 0 697,971 L697,466 A26,14 0 0 0 645,466 Z" fill="url(#rg)" stroke="#666666" stroke-width="2.4"/><ellipse cx="671" cy="466" rx="26" ry="14" fill="url(#rt)" stroke="#666666" stroke-width="2.4"/></g><defs><linearGradient id="hm1" x1="0.3" y1="0" x2="0.6" y2="1"><stop offset="0" stop-color="#b9bbbc"/><stop offset="0.3" stop-color="#f0f0f0"/><stop offset="0.55" stop-color="#cfd0d1"/><stop offset="0.8" stop-color="#adafb0"/><stop offset="1" stop-color="#8f9192"/></linearGradient><linearGradient id="hm2" x1="0" y1="0.2" x2="1" y2="0.8"><stop offset="0" stop-color="#4c4e50"/><stop offset="0.3" stop-color="#f6f6f6"/><stop offset="0.55" stop-color="#b8babb"/><stop offset="0.8" stop-color="#7a7c7e"/><stop offset="1" stop-color="#4f5153"/></linearGradient></defs><g transform="translate(686,424.7) scale(0.35182)"><path d="M1095,848 L1150,858 L1690,1375 Q1732,1395 1722,1447 L1606,1606 Q1576,1630 1545,1612 L1505,1556 L972,1016 Z" fill="#121212"/><path d="M1130,880 L1680,1400" stroke="#3c3c3c" stroke-width="16" fill="none" stroke-linecap="round"/><path d="M930,740 L1095,848 L975,1012 L880,900 Z" fill="#c6c7c8"/><path d="M990,900 L1060,860 L1010,960 Z" fill="#f2f2f2"/><path d="M955,745 L1100,850" stroke="#111" stroke-width="10" fill="none"/><path d="M405,548 C470,430 650,270 900,200 L1060,212 Q1120,225 1128,262 L1118,296 Q1090,322 1060,322 C960,335 860,400 818,470 C790,530 830,600 880,628 L960,770 L900,800 L760,790 L600,730 L470,690 L430,640 Z" fill="url(#hm1)"/><path d="M415,540 C490,420 680,262 905,205" stroke="#4a4c4e" stroke-width="30" fill="none" stroke-linecap="round"/><path d="M440,575 C520,455 700,300 930,238" stroke="#c9caca" stroke-width="14" fill="none" stroke-linecap="round"/><path d="M1075,228 Q1122,238 1122,268 L1112,292 L1078,290 Z" fill="#55575a"/><path d="M1060,322 C960,335 860,400 818,470 C790,530 830,600 880,628" stroke="#111" stroke-width="9" fill="none"/><path d="M470,690 L600,730 L760,790 L815,790 L700,700 L560,620 L450,600 Z" fill="#a5a7a8" opacity="0.8"/><path d="M285,695 L430,650 Q490,690 482,760 L470,872 L400,958 Q360,975 335,962 L215,860 Q190,830 200,798 Z" fill="url(#hm2)"/><path d="M215,812 L290,742 L432,880 L396,950 Q365,968 340,958 L218,858 Z" fill="url(#hm2)" stroke="#444647" stroke-width="13"/><path d="M290,742 Q330,690 432,660" stroke="#3c3c3c" stroke-width="8" fill="none"/><path d="M432,880 Q470,860 478,770" stroke="#4a4a4a" stroke-width="8" fill="none"/></g><g><path d="M972,659 L972,1161 A26,14 0 0 0 1024,1161 L1024,659 A26,14 0 0 0 972,659 Z" fill="url(#rg)" stroke="#666666" stroke-width="2.4"/><ellipse cx="998" cy="659" rx="26" ry="14" fill="url(#rt)" stroke="#666666" stroke-width="2.4"/></g><g><path d="M1300,847 L1300,1351 A26,14 0 0 0 1352,1351 L1352,847 A26,14 0 0 0 1300,847 Z" fill="url(#rg)" stroke="#666666" stroke-width="2.4"/><ellipse cx="1326" cy="847" rx="26" ry="14" fill="url(#rt)" stroke="#666666" stroke-width="2.4"/></g><polygon points="104.8,709.9 160.3,674.3 195.6,691.9 144.6,728.5" fill="#878573" stroke="#5b5a4e" stroke-width="2"/><ellipse cx="153.1" cy="695.2" rx="4.5" ry="3.5" fill="#9a9886" stroke="#55544a" stroke-width="1.5"/><polygon points="374.8,859.9 430.3,824.3 465.6,841.9 414.6,878.5" fill="#878573" stroke="#5b5a4e" stroke-width="2"/><ellipse cx="423.1" cy="845.2" rx="4.5" ry="3.5" fill="#9a9886" stroke="#55544a" stroke-width="1.5"/><polygon points="644.8,1013.9 700.3,978.3 735.6,995.9 684.6,1032.5" fill="#878573" stroke="#5b5a4e" stroke-width="2"/><ellipse cx="693.1" cy="999.2" rx="4.5" ry="3.5" fill="#9a9886" stroke="#55544a" stroke-width="1.5"/><polygon points="898.8,1147.9 954.3,1112.3 989.6,1129.9 938.6,1166.5" fill="#878573" stroke="#5b5a4e" stroke-width="2"/><ellipse cx="947.1" cy="1133.2" rx="4.5" ry="3.5" fill="#9a9886" stroke="#55544a" stroke-width="1.5"/><polygon points="1208.8,1309.9 1264.3,1274.3 1299.6,1291.9 1248.6,1328.5" fill="#878573" stroke="#5b5a4e" stroke-width="2"/><ellipse cx="1257.1" cy="1295.2" rx="4.5" ry="3.5" fill="#9a9886" stroke="#55544a" stroke-width="1.5"/><path d="M40,700C91.3,728.7 251.7,817.7 348,872C444.3,926.3 530.7,978 618,1026C705.3,1074 778,1110.7 872,1160C966,1209.3 1094,1275.3 1182,1322C1270,1368.7 1363.7,1420.3 1400,1440" fill="none" stroke="#f3cf00" stroke-width="45.4" stroke-linecap="butt" stroke-linejoin="round" /><path d="M40,700C91.3,728.7 251.7,817.7 348,872C444.3,926.3 530.7,978 618,1026C705.3,1074 778,1110.7 872,1160C966,1209.3 1094,1275.3 1182,1322C1270,1368.7 1363.7,1420.3 1400,1440" fill="none" stroke="#ffe01b" stroke-width="43" stroke-linecap="butt" stroke-linejoin="round" /><polygon points="55.8,736.4 58.4,725.3 64.6,711.9 73.4,704.4 82.6,700.4 104.8,709.6 100.2,720.7 96.9,738.7 93.7,765.1" fill="#7d7b6a" stroke="#5b5a4e" stroke-width="1.5" stroke-linejoin="round"/><polygon points="325.8,886.4 328.4,875.3 334.6,861.9 343.4,854.4 352.6,850.4 374.8,859.6 370.2,870.7 366.9,888.7 363.7,915.1" fill="#7d7b6a" stroke="#5b5a4e" stroke-width="1.5" stroke-linejoin="round"/><polygon points="595.8,1040.4 598.4,1029.3 604.6,1015.9 613.4,1008.4 622.6,1004.4 644.8,1013.6 640.2,1024.7 636.9,1042.7 633.7,1069.1" fill="#7d7b6a" stroke="#5b5a4e" stroke-width="1.5" stroke-linejoin="round"/><polygon points="849.8,1174.4 852.4,1163.3 858.6,1149.9 867.4,1142.4 876.6,1138.4 898.8,1147.6 894.2,1158.7 890.9,1176.7 887.7,1203.1" fill="#7d7b6a" stroke="#5b5a4e" stroke-width="1.5" stroke-linejoin="round"/><polygon points="1159.8,1336.4 1162.4,1325.3 1168.6,1311.9 1177.4,1304.4 1186.6,1300.4 1208.8,1309.6 1204.2,1320.7 1200.9,1338.7 1197.7,1365.1" fill="#7d7b6a" stroke="#5b5a4e" stroke-width="1.5" stroke-linejoin="round"/><line x1="120" y1="1002" x2="1045" y2="1514" stroke="#e1251b" stroke-width="8"/><line x1="128.6" y1="1048" x2="201.4" y2="1006" stroke="#e1251b" stroke-width="8"/><line x1="379.6" y1="1187" x2="452.4" y2="1145" stroke="#e1251b" stroke-width="8"/><line x1="623.6" y1="1322" x2="696.4" y2="1280" stroke="#e1251b" stroke-width="8"/><line x1="925.6" y1="1489" x2="998.4" y2="1447" stroke="#e1251b" stroke-width="8"/><text transform="matrix(0.866,0.5,-0.866,0.5,292,1012)" x="0" y="49" font-family="Liberation Sans, sans-serif" font-weight="bold" font-size="136" text-anchor="middle" fill="#e1251b" stroke="#e1251b" stroke-width="4">15</text><text transform="matrix(0.866,0.5,-0.866,0.5,583,1179)" x="0" y="49" font-family="Liberation Sans, sans-serif" font-weight="bold" font-size="136" text-anchor="middle" fill="#e1251b" stroke="#e1251b" stroke-width="4">15</text><text transform="matrix(0.866,0.5,-0.866,0.5,878,1348)" x="0" y="49" font-family="Liberation Sans, sans-serif" font-weight="bold" font-size="136" text-anchor="middle" fill="#e1251b" stroke="#e1251b" stroke-width="4">15</text><g><path d="M392,613.8 L392,1118.2 A25.5,13.8 0 0 0 443,1118.2 L443,613.8 A25.5,13.8 0 0 0 392,613.8 Z" fill="url(#rg)" stroke="#666666" stroke-width="2.4"/><ellipse cx="417.5" cy="613.8" rx="25.5" ry="13.8" fill="url(#rt)" stroke="#666666" stroke-width="2.4"/></g><g><path d="M718,804 L718,1306 A26,14 0 0 0 770,1306 L770,804 A26,14 0 0 0 718,804 Z" fill="url(#rg)" stroke="#666666" stroke-width="2.4"/><ellipse cx="744" cy="804" rx="26" ry="14" fill="url(#rt)" stroke="#666666" stroke-width="2.4"/></g><g><path d="M1047,994 L1047,1496 A26,14 0 0 0 1099,1496 L1099,994 A26,14 0 0 0 1047,994 Z" fill="url(#rg)" stroke="#666666" stroke-width="2.4"/><ellipse cx="1073" cy="994" rx="26" ry="14" fill="url(#rt)" stroke="#666666" stroke-width="2.4"/></g><g><path d="M1375,1181.5 L1375,1436.5 A25,13.5 0 0 0 1425,1436.5 L1425,1181.5 A25,13.5 0 0 0 1375,1181.5 Z" fill="url(#rg)" stroke="#666666" stroke-width="2.4"/><ellipse cx="1400" cy="1181.5" rx="25" ry="13.5" fill="url(#rt)" stroke="#666666" stroke-width="2.4"/></g></g></g><circle cx="791.4" cy="1617.8" r="231" fill="none" stroke="#111" stroke-width="4.1"/>
<g clip-path="url(#cp4)"><rect x="1075" y="1627.8" width="466" height="466" fill="#aeb1b0"/><g transform="translate(1050,1600) scale(0.30612)"><polygon points="0,908 105,968 865,1405 865,1764 0,1764" fill="#b3b5b4"/><polygon points="865,1405 1764,889 1764,1764 865,1764" fill="#b8bab9"/><g stroke="#2a2a2a" stroke-width="3.8" fill="none"><polyline points="0,908 865,1405 1764,889"/><polyline points="865,1405 865,1764"/></g><g><path d="M436,272 L436,776 A26,14 0 0 0 488,776 L488,272 A26,14 0 0 0 436,272 Z" fill="url(#rg)" stroke="#666666" stroke-width="2.4"/><ellipse cx="462" cy="272" rx="26" ry="14" fill="url(#rt)" stroke="#666666" stroke-width="2.4"/></g><g><path d="M765,461 L765,964 A26,14 0 0 0 817,964 L817,461 A26,14 0 0 0 765,461 Z" fill="url(#rg)" stroke="#666666" stroke-width="2.4"/><ellipse cx="791" cy="461" rx="26" ry="14" fill="url(#rt)" stroke="#666666" stroke-width="2.4"/></g><g><path d="M1240,267 L1240,771 A26,14 0 0 0 1292,771 L1292,267 A26,14 0 0 0 1240,267 Z" fill="url(#rg)" stroke="#666666" stroke-width="2.4"/><ellipse cx="1266" cy="267" rx="26" ry="14" fill="url(#rt)" stroke="#666666" stroke-width="2.4"/></g><polygon points="136.8,759.9 192.3,724.3 227.6,741.9 176.6,778.5" fill="#878573" stroke="#5b5a4e" stroke-width="2"/><ellipse cx="185.1" cy="745.2" rx="4.5" ry="3.5" fill="#9a9886" stroke="#55544a" stroke-width="1.5"/><polygon points="326.8,832.9 382.3,797.3 417.6,814.9 366.6,851.5" fill="#878573" stroke="#5b5a4e" stroke-width="2"/><ellipse cx="375.1" cy="818.2" rx="4.5" ry="3.5" fill="#9a9886" stroke="#55544a" stroke-width="1.5"/><polygon points="586.8,955.9 642.3,920.3 677.6,937.9 626.6,974.5" fill="#878573" stroke="#5b5a4e" stroke-width="2"/><ellipse cx="635.1" cy="941.2" rx="4.5" ry="3.5" fill="#9a9886" stroke="#55544a" stroke-width="1.5"/><polygon points="872.8,1053.9 928.3,1018.3 963.6,1035.9 912.6,1072.5" fill="#878573" stroke="#5b5a4e" stroke-width="2"/><ellipse cx="921.1" cy="1039.2" rx="4.5" ry="3.5" fill="#9a9886" stroke="#55544a" stroke-width="1.5"/><polygon points="1205.2,1003.9 1149.7,968.3 1114.4,985.9 1165.4,1022.5" fill="#878573" stroke="#5b5a4e" stroke-width="2"/><ellipse cx="1156.9" cy="989.2" rx="4.5" ry="3.5" fill="#9a9886" stroke="#55544a" stroke-width="1.5"/><polygon points="1425.2,839.9 1369.7,804.3 1334.4,821.9 1385.4,858.5" fill="#878573" stroke="#5b5a4e" stroke-width="2"/><ellipse cx="1376.9" cy="825.2" rx="4.5" ry="3.5" fill="#9a9886" stroke="#55544a" stroke-width="1.5"/><path d="M40,738C63.3,746.7 136.7,772.5 180,790C223.3,807.5 255,822.2 300,843C345,863.8 400,891.3 450,915C500,938.7 555,965 600,985C645,1005 681.7,1021.8 720,1035C758.3,1048.2 796.7,1056.8 830,1064C863.3,1071.2 891.7,1075.3 920,1078C948.3,1080.7 973.3,1081.3 1000,1080C1026.7,1078.7 1053.3,1075.5 1080,1070C1106.7,1064.5 1133.3,1057 1160,1047C1186.7,1037 1213.3,1024.8 1240,1010C1266.7,995.2 1293.3,977.2 1320,958C1346.7,938.8 1373.3,917.2 1400,895C1426.7,872.8 1453.3,848.8 1480,825C1506.7,801.2 1530,777 1560,752C1590,727 1643.3,687.8 1660,675" fill="none" stroke="#f3cf00" stroke-width="45.4" stroke-linecap="butt" stroke-linejoin="round" /><path d="M40,738C63.3,746.7 136.7,772.5 180,790C223.3,807.5 255,822.2 300,843C345,863.8 400,891.3 450,915C500,938.7 555,965 600,985C645,1005 681.7,1021.8 720,1035C758.3,1048.2 796.7,1056.8 830,1064C863.3,1071.2 891.7,1075.3 920,1078C948.3,1080.7 973.3,1081.3 1000,1080C1026.7,1078.7 1053.3,1075.5 1080,1070C1106.7,1064.5 1133.3,1057 1160,1047C1186.7,1037 1213.3,1024.8 1240,1010C1266.7,995.2 1293.3,977.2 1320,958C1346.7,938.8 1373.3,917.2 1400,895C1426.7,872.8 1453.3,848.8 1480,825C1506.7,801.2 1530,777 1560,752C1590,727 1643.3,687.8 1660,675" fill="none" stroke="#ffe01b" stroke-width="43" stroke-linecap="butt" stroke-linejoin="round" /><polygon points="277.8,859.4 280.4,848.3 286.6,834.9 295.4,827.4 304.6,823.4 326.8,832.6 322.2,843.7 318.9,861.7 315.7,888.1" fill="#7d7b6a" stroke="#5b5a4e" stroke-width="1.5" stroke-linejoin="round"/><polygon points="823.8,1080.4 826.4,1069.3 832.6,1055.9 841.4,1048.4 850.6,1044.4 872.8,1053.6 868.2,1064.7 864.9,1082.7 861.7,1109.1" fill="#7d7b6a" stroke="#5b5a4e" stroke-width="1.5" stroke-linejoin="round"/><polygon points="1254.2,1030.4 1251.6,1019.3 1245.4,1005.9 1236.6,998.4 1227.4,994.4 1205.2,1003.6 1209.8,1014.7 1213.1,1032.7 1216.3,1059.1" fill="#7d7b6a" stroke="#5b5a4e" stroke-width="1.5" stroke-linejoin="round"/><polygon points="1474.2,866.4 1471.6,855.3 1465.4,841.9 1456.6,834.4 1447.4,830.4 1425.2,839.6 1429.8,850.7 1433.1,868.7 1436.3,895.1" fill="#7d7b6a" stroke="#5b5a4e" stroke-width="1.5" stroke-linejoin="round"/><text transform="translate(1026,540) rotate(-90)" x="0" y="0" font-family="Liberation Sans, sans-serif" font-weight="bold" font-size="131" letter-spacing="2" text-anchor="middle" fill="#e1251b" stroke="#e1251b" stroke-width="3">r = min. 5cm</text><circle cx="990" cy="972" r="8" fill="#e1251b"/><line x1="990" y1="972" x2="990" y2="1040" stroke="#e1251b" stroke-width="5"/><polygon points="977,1030 1003,1030 990,1056" fill="#e1251b"/><line x1="268" y1="976.5" x2="378" y2="913" stroke="#e1251b" stroke-width="8"/><line x1="261.8" y1="944" x2="324.2" y2="980" stroke="#e1251b" stroke-width="8"/><line x1="321.3" y1="909.7" x2="383.7" y2="945.7" stroke="#e1251b" stroke-width="8"/><text transform="matrix(0.866,-0.5,0.866,0.5,372.7,1032.6)" x="0" y="47.5" font-family="Liberation Sans, sans-serif" font-weight="bold" font-size="132" text-anchor="middle" fill="#e1251b" stroke="#e1251b" stroke-width="4">&gt;5</text><line x1="473.3" y1="1194.4" x2="696.2" y2="1066.1" stroke="#e1251b" stroke-width="8"/><line x1="454.2" y1="1169.4" x2="516.6" y2="1205.4" stroke="#e1251b" stroke-width="8"/><line x1="652.9" y1="1055.1" x2="715.3" y2="1091.1" stroke="#e1251b" stroke-width="8"/><text transform="matrix(0.866,-0.5,0.866,0.5,649.7,1170.1)" x="0" y="47.5" font-family="Liberation Sans, sans-serif" font-weight="bold" font-size="132" text-anchor="middle" fill="#e1251b" stroke="#e1251b" stroke-width="4">&gt;10</text><g><path d="M182,314 L182,921 A26,14 0 0 0 234,921 L234,314 A26,14 0 0 0 182,314 Z" fill="url(#rg)" stroke="#666666" stroke-width="2.4"/><ellipse cx="208" cy="314" rx="26" ry="14" fill="url(#rt)" stroke="#666666" stroke-width="2.4"/></g><g><path d="M1496,394 L1496,916 A26,14 0 0 0 1548,916 L1548,394 A26,14 0 0 0 1496,394 Z" fill="url(#rg)" stroke="#666666" stroke-width="2.4"/><ellipse cx="1522" cy="394" rx="26" ry="14" fill="url(#rt)" stroke="#666666" stroke-width="2.4"/></g><g><path d="M510,606 L510,1106 A26,14 0 0 0 562,1106 L562,606 A26,14 0 0 0 510,606 Z" fill="url(#rg)" stroke="#666666" stroke-width="2.4"/><ellipse cx="536" cy="606" rx="26" ry="14" fill="url(#rt)" stroke="#666666" stroke-width="2.4"/></g><g><path d="M1093,649 L1093,1151 A26,14 0 0 0 1145,1151 L1145,649 A26,14 0 0 0 1093,649 Z" fill="url(#rg)" stroke="#666666" stroke-width="2.4"/><ellipse cx="1119" cy="649" rx="26" ry="14" fill="url(#rt)" stroke="#666666" stroke-width="2.4"/></g><g><path d="M838,796 L838,1296 A26,14 0 0 0 890,1296 L890,796 A26,14 0 0 0 838,796 Z" fill="url(#rg)" stroke="#666666" stroke-width="2.4"/><ellipse cx="864" cy="796" rx="26" ry="14" fill="url(#rt)" stroke="#666666" stroke-width="2.4"/></g></g></g><circle cx="1308" cy="1860.8" r="231" fill="none" stroke="#111" stroke-width="4.1"/>
<g clip-path="url(#cp5)"><rect x="1080.2" y="69.8" width="466" height="466" fill="#aeb1b0"/><g transform="translate(1060,40) scale(0.30612)"><polygon points="0,1129 185,1235 830,1605 1100,1760 0,1764" fill="#b3b5b4"/><polyline points="0,1129 185,1235 1100,1760" stroke="#2a2a2a" stroke-width="3.8" fill="none"/><g><path d="M118,314 L118,811 A26,14 0 0 0 170,811 L170,314 A26,14 0 0 0 118,314 Z" fill="url(#rg)" stroke="#666666" stroke-width="2.4"/><ellipse cx="144" cy="314" rx="26" ry="14" fill="url(#rt)" stroke="#666666" stroke-width="2.4"/></g><g><path d="M445,497 L445,998 A26,14 0 0 0 497,998 L497,497 A26,14 0 0 0 445,497 Z" fill="url(#rg)" stroke="#666666" stroke-width="2.4"/><ellipse cx="471" cy="497" rx="26" ry="14" fill="url(#rt)" stroke="#666666" stroke-width="2.4"/></g><g><path d="M773,687 L773,1189 A26,14 0 0 0 825,1189 L825,687 A26,14 0 0 0 773,687 Z" fill="url(#rg)" stroke="#666666" stroke-width="2.4"/><ellipse cx="799" cy="687" rx="26" ry="14" fill="url(#rt)" stroke="#666666" stroke-width="2.4"/></g><g><path d="M1103,877 L1103,1381 A26,14 0 0 0 1155,1381 L1155,877 A26,14 0 0 0 1103,877 Z" fill="url(#rg)" stroke="#666666" stroke-width="2.4"/><ellipse cx="1129" cy="877" rx="26" ry="14" fill="url(#rt)" stroke="#666666" stroke-width="2.4"/></g><g><path d="M1430,1067 L1430,1386 A26,14 0 0 0 1482,1386 L1482,1067 A26,14 0 0 0 1430,1067 Z" fill="url(#rg)" stroke="#666666" stroke-width="2.4"/><ellipse cx="1456" cy="1067" rx="26" ry="14" fill="url(#rt)" stroke="#666666" stroke-width="2.4"/></g><polygon points="316.8,1049.9 372.3,1014.3 407.6,1031.9 356.6,1068.5" fill="#878573" stroke="#5b5a4e" stroke-width="2"/><ellipse cx="365.1" cy="1035.2" rx="4.5" ry="3.5" fill="#9a9886" stroke="#55544a" stroke-width="1.5"/><polygon points="566.8,1187.9 622.3,1152.3 657.6,1169.9 606.6,1206.5" fill="#878573" stroke="#5b5a4e" stroke-width="2"/><ellipse cx="615.1" cy="1173.2" rx="4.5" ry="3.5" fill="#9a9886" stroke="#55544a" stroke-width="1.5"/><polygon points="1031.8,1382.9 1087.3,1347.3 1122.6,1364.9 1071.6,1401.5" fill="#878573" stroke="#5b5a4e" stroke-width="2"/><ellipse cx="1080.1" cy="1368.2" rx="4.5" ry="3.5" fill="#9a9886" stroke="#55544a" stroke-width="1.5"/><g transform="translate(992,643) rotate(-22)"><ellipse cx="8" cy="-5" rx="34" ry="46" fill="#3a3a3a"/><ellipse cx="0" cy="0" rx="34" ry="46" fill="#4f4f4d" stroke="#2b2b2b" stroke-width="2"/></g><path d="M40,938C63.3,950 138.3,989 180,1010C221.7,1031 256.7,1051.5 290,1064C323.3,1076.5 353.3,1079 380,1085C406.7,1091 430,1087.5 450,1100C470,1112.5 481.7,1138.3 500,1160C518.3,1181.7 536.7,1208.3 560,1230C583.3,1251.7 613.3,1272.5 640,1290C666.7,1307.5 693.3,1322 720,1335C746.7,1348 776.7,1365.2 800,1368C823.3,1370.8 844.2,1368.3 860,1352C875.8,1335.7 886.7,1312 895,1270C903.3,1228 907.8,1170 910,1100C912.2,1030 905.5,916.7 908,850C910.5,783.3 916.3,732.5 925,700C933.7,667.5 950,664.2 960,655C970,645.8 980.8,646.7 985,645" fill="none" stroke="#f3cf00" stroke-width="45.4" stroke-linecap="round" stroke-linejoin="round" /><path d="M40,938C63.3,950 138.3,989 180,1010C221.7,1031 256.7,1051.5 290,1064C323.3,1076.5 353.3,1079 380,1085C406.7,1091 430,1087.5 450,1100C470,1112.5 481.7,1138.3 500,1160C518.3,1181.7 536.7,1208.3 560,1230C583.3,1251.7 613.3,1272.5 640,1290C666.7,1307.5 693.3,1322 720,1335C746.7,1348 776.7,1365.2 800,1368C823.3,1370.8 844.2,1368.3 860,1352C875.8,1335.7 886.7,1312 895,1270C903.3,1228 907.8,1170 910,1100C912.2,1030 905.5,916.7 908,850C910.5,783.3 916.3,732.5 925,700C933.7,667.5 950,664.2 960,655C970,645.8 980.8,646.7 985,645" fill="none" stroke="#ffe01b" stroke-width="43" stroke-linecap="round" stroke-linejoin="round" /><g transform="translate(845,555) rotate(-22)"><ellipse cx="8" cy="-5" rx="34" ry="46" fill="#3a3a3a"/><ellipse cx="0" cy="0" rx="34" ry="46" fill="#4f4f4d" stroke="#2b2b2b" stroke-width="2"/></g><path d="M838,556C829.2,558.3 804.7,556 785,570C765.3,584 739.5,605 720,640C700.5,675 681,728.3 668,780C655,831.7 644.2,895 642,950C639.8,1005 645.3,1065 655,1110C664.7,1155 682.5,1188.3 700,1220C717.5,1251.7 738.3,1279.2 760,1300C781.7,1320.8 805,1334.7 830,1345C855,1355.3 881.7,1353.2 910,1362C938.3,1370.8 965,1385 1000,1398C1035,1411 1070,1421.3 1120,1440C1170,1458.7 1270,1498.3 1300,1510" fill="none" stroke="#f3cf00" stroke-width="45.4" stroke-linecap="round" stroke-linejoin="round" /><path d="M838,556C829.2,558.3 804.7,556 785,570C765.3,584 739.5,605 720,640C700.5,675 681,728.3 668,780C655,831.7 644.2,895 642,950C639.8,1005 645.3,1065 655,1110C664.7,1155 682.5,1188.3 700,1220C717.5,1251.7 738.3,1279.2 760,1300C781.7,1320.8 805,1334.7 830,1345C855,1355.3 881.7,1353.2 910,1362C938.3,1370.8 965,1385 1000,1398C1035,1411 1070,1421.3 1120,1440C1170,1458.7 1270,1498.3 1300,1510" fill="none" stroke="#ffe01b" stroke-width="43" stroke-linecap="round" stroke-linejoin="round" /><path d="M800,1375 L845,1350" stroke="#333" stroke-width="2" fill="none"/><polygon points="267.8,1076.4 270.4,1065.3 276.6,1051.9 285.4,1044.4 294.6,1040.4 316.8,1049.6 312.2,1060.7 308.9,1078.7 305.7,1105.1" fill="#7d7b6a" stroke="#5b5a4e" stroke-width="1.5" stroke-linejoin="round"/><polygon points="982.8,1412.4 985.4,1401.3 991.6,1387.9 1000.4,1380.4 1009.6,1376.4 1031.8,1385.6 1027.2,1396.7 1023.9,1414.7 1020.7,1441.1" fill="#7d7b6a" stroke="#5b5a4e" stroke-width="1.5" stroke-linejoin="round"/><g><path d="M192,642 L192,1146 A26,14 0 0 0 244,1146 L244,642 A26,14 0 0 0 192,642 Z" fill="url(#rg)" stroke="#666666" stroke-width="2.4"/><ellipse cx="218" cy="642" rx="26" ry="14" fill="url(#rt)" stroke="#666666" stroke-width="2.4"/></g><g><path d="M520,834 L520,1331 A26,14 0 0 0 572,1331 L572,834 A26,14 0 0 0 520,834 Z" fill="url(#rg)" stroke="#666666" stroke-width="2.4"/><ellipse cx="546" cy="834" rx="26" ry="14" fill="url(#rt)" stroke="#666666" stroke-width="2.4"/></g><g><path d="M847,1024 L847,1524 A26,14 0 0 0 899,1524 L899,1024 A26,14 0 0 0 847,1024 Z" fill="url(#rg)" stroke="#666666" stroke-width="2.4"/><ellipse cx="873" cy="1024" rx="26" ry="14" fill="url(#rt)" stroke="#666666" stroke-width="2.4"/></g><g><path d="M1176,1214 L1176,1586 A26,14 0 0 0 1228,1586 L1228,1214 A26,14 0 0 0 1176,1214 Z" fill="url(#rg)" stroke="#666666" stroke-width="2.4"/><ellipse cx="1202" cy="1214" rx="26" ry="14" fill="url(#rt)" stroke="#666666" stroke-width="2.4"/></g><line x1="537.4" y1="1372" x2="912.7" y2="1162.6" stroke="#e1251b" stroke-width="8"/><line x1="640.3" y1="1283.4" x2="709.5" y2="1323.4" stroke="#e1251b" stroke-width="8"/><line x1="706" y1="1242.6" x2="775.2" y2="1282.6" stroke="#e1251b" stroke-width="8"/><line x1="565.5" y1="1343.9" x2="793.5" y2="1463.6" stroke="#e1251b" stroke-width="8"/><line x1="736.4" y1="1482.6" x2="826.4" y2="1430.6" stroke="#e1251b" stroke-width="8"/><text transform="matrix(0.866,0.5,-0.866,0.5,587.3,1459.9)" x="0" y="47.5" font-family="Liberation Sans, sans-serif" font-weight="bold" font-size="132" text-anchor="middle" fill="#e1251b" stroke="#e1251b" stroke-width="4">&gt;10</text><text transform="matrix(0.866,-0.5,0.866,0.5,900.3,1259.7)" x="0" y="47.5" font-family="Liberation Sans, sans-serif" font-weight="bold" font-size="132" text-anchor="middle" fill="#e1251b" stroke="#e1251b" stroke-width="4">&gt;5</text></g></g><circle cx="1313.2" cy="302.8" r="231" fill="none" stroke="#111" stroke-width="4.1"/>
<g clip-path="url(#cp6)"><rect x="1538.4" y="413.8" width="466" height="466" fill="#aeb1b0"/><g transform="translate(1500,380) scale(0.30612)"><polygon points="0,1032 195,1145 1000,1610 1270,1764 0,1764" fill="#b3b5b4"/><g stroke="#2a2a2a" stroke-width="3" fill="none"><polyline points="0,1032 195,1145 1270,1764"/><polyline points="0,508 265,660 1450,1340 1764,1520"/></g><g><path d="M210,313.5 L210,756.5 A25,13.5 0 0 0 260,756.5 L260,313.5 A25,13.5 0 0 0 210,313.5 Z" fill="url(#rg)" stroke="#666666" stroke-width="2.4"/><ellipse cx="235" cy="313.5" rx="25" ry="13.5" fill="url(#rt)" stroke="#666666" stroke-width="2.4"/></g><g><path d="M537,446 L537,946 A26,14 0 0 0 589,946 L589,446 A26,14 0 0 0 537,446 Z" fill="url(#rg)" stroke="#666666" stroke-width="2.4"/><ellipse cx="563" cy="446" rx="26" ry="14" fill="url(#rt)" stroke="#666666" stroke-width="2.4"/></g><g><path d="M865,636 L865,1136 A26,14 0 0 0 917,1136 L917,636 A26,14 0 0 0 865,636 Z" fill="url(#rg)" stroke="#666666" stroke-width="2.4"/><ellipse cx="891" cy="636" rx="26" ry="14" fill="url(#rt)" stroke="#666666" stroke-width="2.4"/></g><g><path d="M1193,826 L1193,1326 A26,14 0 0 0 1245,1326 L1245,826 A26,14 0 0 0 1193,826 Z" fill="url(#rg)" stroke="#666666" stroke-width="2.4"/><ellipse cx="1219" cy="826" rx="26" ry="14" fill="url(#rt)" stroke="#666666" stroke-width="2.4"/></g><g><path d="M1520,1017 L1520,1386 A26,14 0 0 0 1572,1386 L1572,1017 A26,14 0 0 0 1520,1017 Z" fill="url(#rg)" stroke="#666666" stroke-width="2.4"/><ellipse cx="1546" cy="1017" rx="26" ry="14" fill="url(#rt)" stroke="#666666" stroke-width="2.4"/></g><polygon points="176.8,792.9 232.3,757.3 267.6,774.9 216.6,811.5" fill="#878573" stroke="#5b5a4e" stroke-width="2"/><ellipse cx="225.1" cy="778.2" rx="4.5" ry="3.5" fill="#9a9886" stroke="#55544a" stroke-width="1.5"/><polygon points="388.8,909.9 444.3,874.3 479.6,891.9 428.6,928.5" fill="#878573" stroke="#5b5a4e" stroke-width="2"/><ellipse cx="437.1" cy="895.2" rx="4.5" ry="3.5" fill="#9a9886" stroke="#55544a" stroke-width="1.5"/><polygon points="666.8,1047.9 722.3,1012.3 757.6,1029.9 706.6,1066.5" fill="#878573" stroke="#5b5a4e" stroke-width="2"/><ellipse cx="715.1" cy="1033.2" rx="4.5" ry="3.5" fill="#9a9886" stroke="#55544a" stroke-width="1.5"/><polygon points="916.8,1269.9 972.3,1234.3 1007.6,1251.9 956.6,1288.5" fill="#878573" stroke="#5b5a4e" stroke-width="2"/><ellipse cx="965.1" cy="1255.2" rx="4.5" ry="3.5" fill="#9a9886" stroke="#55544a" stroke-width="1.5"/><polygon points="1126.8,1409.9 1182.3,1374.3 1217.6,1391.9 1166.6,1428.5" fill="#878573" stroke="#5b5a4e" stroke-width="2"/><ellipse cx="1175.1" cy="1395.2" rx="4.5" ry="3.5" fill="#9a9886" stroke="#55544a" stroke-width="1.5"/><path d="M60,768C74.2,775 94.7,784.3 145,810C195.3,835.7 299.5,890.3 362,922C424.5,953.7 473.7,976.7 520,1000C566.3,1023.3 620,1051.7 640,1062" fill="none" stroke="#f3cf00" stroke-width="45.4" stroke-linecap="butt" stroke-linejoin="round" /><path d="M60,768C74.2,775 94.7,784.3 145,810C195.3,835.7 299.5,890.3 362,922C424.5,953.7 473.7,976.7 520,1000C566.3,1023.3 620,1051.7 640,1062" fill="none" stroke="#ffe01b" stroke-width="43" stroke-linecap="butt" stroke-linejoin="round" /><path d="M640,1062C660,1072 720,1102 760,1122C800,1142 843.3,1164.3 880,1182C916.7,1199.7 948.3,1215.7 980,1228C1011.7,1240.3 1043.3,1252.3 1070,1256C1096.7,1259.7 1120,1258.5 1140,1250C1160,1241.5 1178.8,1226.7 1190,1205C1201.2,1183.3 1205.6,1146.7 1207,1120C1208.4,1093.3 1206.7,1073.7 1198.5,1045C1190.3,1016.3 1168.5,978.6 1157.7,947.6C1146.9,916.6 1137.7,873.5 1133.7,858.7" fill="none" stroke="#f3cf00" stroke-width="38.4" stroke-linecap="butt" stroke-linejoin="round" /><path d="M640,1062C660,1072 720,1102 760,1122C800,1142 843.3,1164.3 880,1182C916.7,1199.7 948.3,1215.7 980,1228C1011.7,1240.3 1043.3,1252.3 1070,1256C1096.7,1259.7 1120,1258.5 1140,1250C1160,1241.5 1178.8,1226.7 1190,1205C1201.2,1183.3 1205.6,1146.7 1207,1120C1208.4,1093.3 1206.7,1073.7 1198.5,1045C1190.3,1016.3 1168.5,978.6 1157.7,947.6C1146.9,916.6 1137.7,873.5 1133.7,858.7" fill="none" stroke="#ffe01b" stroke-width="36" stroke-linecap="butt" stroke-linejoin="round" /><path d="M1135,866C1134.2,860.3 1131.2,837.7 1130.5,832" fill="none" stroke="#1c1c1c" stroke-width="40" stroke-linecap="butt" stroke-linejoin="round" /><path d="M1130.5,832C1131,814.2 1135.3,755.4 1133.7,725.3C1132.1,695.2 1128.4,673.5 1120.7,651.3C1113,629.1 1098.8,605.6 1087.4,592C1076,578.4 1058.1,573.5 1052.2,569.8" fill="none" stroke="#e1261c" stroke-width="29" stroke-linecap="round" stroke-linejoin="round" /><path d="M722,778C715.6,790.8 691.9,826.7 683.7,855C675.5,883.3 672.6,915.9 672.6,947.6C672.6,979.3 675,1016.3 683.7,1045C692.4,1073.7 707.3,1095 725,1120C742.7,1145 769.2,1172.5 790,1195C810.8,1217.5 833.3,1240.2 850,1255C866.7,1269.8 883.3,1279.2 890,1284" fill="none" stroke="#f3cf00" stroke-width="38.4" stroke-linecap="butt" stroke-linejoin="round" /><path d="M722,778C715.6,790.8 691.9,826.7 683.7,855C675.5,883.3 672.6,915.9 672.6,947.6C672.6,979.3 675,1016.3 683.7,1045C692.4,1073.7 707.3,1095 725,1120C742.7,1145 769.2,1172.5 790,1195C810.8,1217.5 833.3,1240.2 850,1255C866.7,1269.8 883.3,1279.2 890,1284" fill="none" stroke="#ffe01b" stroke-width="36" stroke-linecap="butt" stroke-linejoin="round" /><path d="M890,1284C908.3,1295 965,1326.7 1000,1350C1035,1373.3 1050,1392.8 1100,1424C1150,1455.2 1266.7,1518.2 1300,1537" fill="none" stroke="#f3cf00" stroke-width="45.4" stroke-linecap="butt" stroke-linejoin="round" /><path d="M890,1284C908.3,1295 965,1326.7 1000,1350C1035,1373.3 1050,1392.8 1100,1424C1150,1455.2 1266.7,1518.2 1300,1537" fill="none" stroke="#ffe01b" stroke-width="43" stroke-linecap="butt" stroke-linejoin="round" /><path d="M668,1020 Q690,1090 740,1130" stroke="#333" stroke-width="2.5" fill="none"/><path d="M700,1010 Q715,1060 760,1100" stroke="#333" stroke-width="2.5" fill="none"/><path d="M718,786C721.2,780.3 733.8,757.7 737,752" fill="none" stroke="#1c1c1c" stroke-width="40" stroke-linecap="butt" stroke-linejoin="round" /><path d="M737,754C739.8,746.1 745.6,727 754,706.8C762.4,686.6 772.6,655.5 787.4,632.7C802.2,609.9 826.2,584 842.9,569.8C859.6,555.6 872,551.3 887.4,547.6C902.8,543.9 927.1,547.6 935,547.6" fill="none" stroke="#1b8fd2" stroke-width="28" stroke-linecap="butt" stroke-linejoin="round" /><ellipse cx="1022" cy="547" rx="44" ry="76" transform="rotate(-23 1022 547)" fill="#c9cbca" stroke="#8a8a8a" stroke-width="2"/><polygon points="946.6,506.8 992.6,476.8 1067.4,617 1021.4,647.6" fill="#c9cbca"/><path d="M946.6,506.8 L992.6,476.8 M1021.4,647.6 L1067.4,617" stroke="#8a8a8a" stroke-width="2" fill="none"/><ellipse cx="976" cy="577" rx="44" ry="76" transform="rotate(-23 976 577)" fill="#f9f3b9" stroke="#a9a472" stroke-width="2.2"/><ellipse cx="969" cy="577" rx="12" ry="18" transform="rotate(-23 969 577)" fill="#efe68e" stroke="#8f8a52" stroke-width="2"/><polygon points="339.8,936.4 342.4,925.3 348.6,911.9 357.4,904.4 366.6,900.4 388.8,909.6 384.2,920.7 380.9,938.7 377.7,965.1" fill="#7d7b6a" stroke="#5b5a4e" stroke-width="1.5" stroke-linejoin="round"/><polygon points="867.8,1296.4 870.4,1285.3 876.6,1271.9 885.4,1264.4 894.6,1260.4 916.8,1269.6 912.2,1280.7 908.9,1298.7 905.7,1325.1" fill="#7d7b6a" stroke="#5b5a4e" stroke-width="1.5" stroke-linejoin="round"/><polygon points="1077.8,1438.4 1080.4,1427.3 1086.6,1413.9 1095.4,1406.4 1104.6,1402.4 1126.8,1411.6 1122.2,1422.7 1118.9,1440.7 1115.7,1467.1" fill="#7d7b6a" stroke="#5b5a4e" stroke-width="1.5" stroke-linejoin="round"/><g><path d="M282,594 L282,1091 A26,14 0 0 0 334,1091 L334,594 A26,14 0 0 0 282,594 Z" fill="url(#rg)" stroke="#666666" stroke-width="2.4"/><ellipse cx="308" cy="594" rx="26" ry="14" fill="url(#rt)" stroke="#666666" stroke-width="2.4"/></g><g><path d="M612,782 L612,1284 A26,14 0 0 0 664,1284 L664,782 A26,14 0 0 0 612,782 Z" fill="url(#rg)" stroke="#666666" stroke-width="2.4"/><ellipse cx="638" cy="782" rx="26" ry="14" fill="url(#rt)" stroke="#666666" stroke-width="2.4"/></g><g><path d="M940,972 L940,1476 A26,14 0 0 0 992,1476 L992,972 A26,14 0 0 0 940,972 Z" fill="url(#rg)" stroke="#666666" stroke-width="2.4"/><ellipse cx="966" cy="972" rx="26" ry="14" fill="url(#rt)" stroke="#666666" stroke-width="2.4"/></g><g><path d="M1267,1162 L1267,1546 A26,14 0 0 0 1319,1546 L1319,1162 A26,14 0 0 0 1267,1162 Z" fill="url(#rg)" stroke="#666666" stroke-width="2.4"/><ellipse cx="1293" cy="1162" rx="26" ry="14" fill="url(#rt)" stroke="#666666" stroke-width="2.4"/></g><line x1="830.7" y1="1261.3" x2="1128" y2="1092.4" stroke="#e1251b" stroke-width="8"/><line x1="811.8" y1="1230.2" x2="881" y2="1270.2" stroke="#e1251b" stroke-width="8"/><line x1="875.8" y1="1192.6" x2="945" y2="1232.6" stroke="#e1251b" stroke-width="8"/><line x1="705.9" y1="1279.4" x2="924.1" y2="1405.8" stroke="#e1251b" stroke-width="8"/><line x1="673" y1="1312.4" x2="763" y2="1260.4" stroke="#e1251b" stroke-width="8"/><line x1="867" y1="1424.8" x2="957" y2="1372.8" stroke="#e1251b" stroke-width="8"/><text transform="matrix(0.866,0.5,-0.866,0.5,711.8,1405.4)" x="0" y="47.5" font-family="Liberation Sans, sans-serif" font-weight="bold" font-size="132" text-anchor="middle" fill="#e1251b" stroke="#e1251b" stroke-width="4">&gt;10</text><text transform="matrix(0.866,-0.5,0.866,0.5,1093.7,1182.9)" x="0" y="47.5" font-family="Liberation Sans, sans-serif" font-weight="bold" font-size="132" text-anchor="middle" fill="#e1251b" stroke="#e1251b" stroke-width="4">&gt;5</text></g></g><circle cx="1771.4" cy="646.8" r="231" fill="none" stroke="#111" stroke-width="4.1"/>
<g clip-path="url(#cp2t)"><rect x="2022.6" y="70.8" width="466" height="466" fill="#dfe1e0"/><g transform="translate(2000,50) scale(0.30612)"><rect x="533" y="430" width="605" height="800" fill="#aeb1b0" stroke="#555" stroke-width="3"/><path d="M600,470C621.3,463.7 661.7,455.3 700,452C738.3,448.7 786.7,449.5 830,450C873.3,450.5 923.3,453.7 960,455C996.7,456.3 1027.5,455.5 1050,458C1072.5,460.5 1083,459.7 1095,470C1107,480.3 1118.2,490 1122,520C1125.8,550 1120,606.7 1118,650C1116,693.3 1108.8,738.3 1110,780C1111.2,821.7 1122,855 1125,900C1128,945 1128.8,1008.3 1128,1050C1127.2,1091.7 1123.8,1124.2 1120,1150C1116.2,1175.8 1115,1193.7 1105,1205C1095,1216.3 1094.2,1215.2 1060,1218C1025.8,1220.8 951.7,1222 900,1222C848.3,1222 793.3,1218 750,1218C706.7,1218 667.5,1223.3 640,1222C612.5,1220.7 597.5,1220.3 585,1210C572.5,1199.7 568.8,1186.7 565,1160C561.2,1133.3 561.2,1093.3 562,1050C562.8,1006.7 567,941.7 570,900C573,858.3 580.8,836.7 580,800C579.2,763.3 568.3,720 565,680C561.7,640 558.8,591.7 560,560C561.2,528.3 565.3,505 572,490C578.7,475 578.7,476.3 600,470Z" fill="none" stroke="#ffe01b" stroke-width="10.5"/><path d="M985,495 Q988,462 1015,462 Q1042,462 1045,495" fill="none" stroke="#ffe01b" stroke-width="10"/><path d="M750,1165 L752,1205 Q777,1218 803,1205 L805,1165" fill="none" stroke="#ffe01b" stroke-width="10"/><g fill="none" stroke="#e1251b" stroke-width="10" stroke-linejoin="miter"><polyline points="940,380 483,380 483,1283 700,1283"/><polyline points="1095,380 1188,380 1188,1283 860,1283"/></g><g fill="#e1251b"><polygon points="922,348 976,380 922,412"/><polygon points="682,1251 736,1283 682,1315"/><polygon points="1110,348 1056,380 1110,412"/><polygon points="872,1251 818,1283 872,1315"/></g><text transform="translate(364,820) rotate(90)" x="0" y="0" font-family="Liberation Sans, sans-serif" font-weight="bold" font-size="131" letter-spacing="3" text-anchor="middle" fill="#e1251b" stroke="#e1251b" stroke-width="3">&lt; 15m</text><text transform="translate(1224,820) rotate(90)" x="0" y="0" font-family="Liberation Sans, sans-serif" font-weight="bold" font-size="131" letter-spacing="3" text-anchor="middle" fill="#e1251b" stroke="#e1251b" stroke-width="3">&lt; 15m</text></g></g><circle cx="2255.6" cy="303.8" r="231" fill="none" stroke="#111" stroke-width="4.1"/>
<g clip-path="url(#cp1)"><rect x="2023" y="669.5" width="466" height="466" fill="#aeb1b0"/><g transform="translate(2000,640) scale(0.30612)"><defs><pattern id="zd" width="36" height="36" patternUnits="userSpaceOnUse"><rect width="36" height="36" fill="#aeb1b0"/><circle cx="6" cy="6" r="4.4" fill="#6b6d6c"/><circle cx="24" cy="24" r="4.4" fill="#6b6d6c"/></pattern><pattern id="zd2" width="52" height="52" patternUnits="userSpaceOnUse"><rect width="52" height="52" fill="#dcdedd"/><circle cx="9" cy="9" r="7" fill="#7d7f7e"/><circle cx="35" cy="35" r="7" fill="#7d7f7e"/></pattern></defs><polygon points="560,60 1800,60 1800,858 770,1449 775,1380 745,1340 760,1290 738,1240 752,1150 735,1090 742,1000 722,930 732,850 700,770 715,700 680,640 690,560 650,490 668,420 625,350 640,300 590,240 600,200" fill="url(#zd)"/><polygon points="585,1555 1800,858 1800,1764 221,1764" fill="#b4b6b5"/><polyline points="221,1764 585,1555 1800,858" stroke="#2a2a2a" stroke-width="3.8" fill="none"/><g transform="translate(98,130.7) scale(0.5789)" stroke-linejoin="round"><polygon points="1650,350 1835,105 1927,-17 2095,115 2000,195 1905,275 1760,412" fill="#a6bfe8" stroke="#1b2b85" stroke-width="9"/><path d="M770,722 L1180,420 L1330,312 Q1420,266 1500,268 L1600,300 Q1660,330 1700,370 L1880,560 Q1930,630 1930,720 L1900,802 L1450,1292 Q1390,1345 1338,1328 L1130,1172 Z" fill="#5f7fc6" stroke="#1b2b85" stroke-width="10"/><path d="M800,722 L1195,452 L1345,347 Q1425,308 1500,312 L1590,338 Q1640,360 1680,400" fill="none" stroke="#a6bfe8" stroke-width="24"/><path d="M780,730 L1200,470 L1355,365 Q1430,330 1500,334 L1580,356 Q1640,385 1672,418 L1830,600 Q1870,660 1865,720 L1835,770" fill="none" stroke="#1b2b85" stroke-width="8"/><path d="M800,740 L1290,532 Q1420,500 1560,560 L1830,768 L1440,1255 Q1390,1300 1345,1290 L1150,1150 Z" fill="#a6bfe8"/><path d="M1230,860 L1440,820 L1470,960 L1330,1100 Z" fill="#c0d3f2" opacity="0.7"/><path d="M1930,720 L1900,802 L1450,1292 Q1390,1345 1338,1328 L1345,1290 Q1390,1300 1440,1255 L1832,768 L1865,720 Z" fill="#22389b"/><path d="M1228,640 Q1260,480 1400,455 Q1490,455 1545,540 L1590,660 Q1560,780 1450,815 Q1350,820 1285,775 Q1212,720 1228,640 Z" fill="#c3c5c4"/><path d="M1245,645 Q1275,500 1400,475 Q1470,478 1500,530 L1505,790 Q1400,815 1300,765 Q1232,715 1245,645 Z" fill="url(#zd2)"/><path d="M1450,480 Q1385,570 1392,700 Q1400,775 1450,805 Q1540,770 1570,660 L1535,545 Q1500,490 1450,480 Z" fill="#b3b5b4" opacity="0.9"/><polygon points="450,275 410,67 553,-33 595,165 700,660 530,690" fill="#dcddd8" stroke="#1b2b85" stroke-width="9"/><rect x="165" y="1185" width="84" height="140" rx="22" ry="22" transform="rotate(-8 207 1255)" fill="#d98f55" stroke="#1b2b85" stroke-width="8"/><rect x="280" y="1165" width="84" height="140" rx="22" ry="22" transform="rotate(-8 322 1235)" fill="#d98f55" stroke="#1b2b85" stroke-width="8"/><rect x="390" y="1140" width="84" height="140" rx="22" ry="22" transform="rotate(-8 432 1210)" fill="#d98f55" stroke="#1b2b85" stroke-width="8"/><rect x="500" y="1120" width="84" height="140" rx="22" ry="22" transform="rotate(-8 542 1190)" fill="#d98f55" stroke="#1b2b85" stroke-width="8"/><rect x="612" y="1100" width="84" height="140" rx="22" ry="22" transform="rotate(-8 654 1170)" fill="#d98f55" stroke="#1b2b85" stroke-width="8"/><rect x="725" y="1080" width="84" height="140" rx="22" ry="22" transform="rotate(-8 767 1150)" fill="#d98f55" stroke="#1b2b85" stroke-width="8"/><rect x="832" y="1060" width="84" height="140" rx="22" ry="22" transform="rotate(-8 874 1130)" fill="#d98f55" stroke="#1b2b85" stroke-width="8"/><rect x="945" y="1040" width="84" height="140" rx="22" ry="22" transform="rotate(-8 987 1110)" fill="#d98f55" stroke="#1b2b85" stroke-width="8"/><rect x="1055" y="1020" width="84" height="140" rx="22" ry="22" transform="rotate(-8 1097 1090)" fill="#d98f55" stroke="#1b2b85" stroke-width="8"/><rect x="1162" y="1000" width="84" height="140" rx="22" ry="22" transform="rotate(-8 1204 1070)" fill="#d98f55" stroke="#1b2b85" stroke-width="8"/><path d="M110,935 Q112,914 140,908 L1140,738 Q1182,734 1195,770 L1255,985 L125,1195 L110,1150 Z" fill="#5f7fc6" stroke="#1b2b85" stroke-width="10"/><path d="M116,938 Q118,920 142,915 L640,830 L618,1098 L130,1188 L116,1148 Z" fill="#89a7df"/><path d="M560,862 L880,822 L640,905 L625,985 Z" fill="#a6bfe8" opacity="0.85"/><path d="M492,718 L716,662 Q750,660 760,700 L772,790 L524,842 Q494,840 488,802 Z" fill="#5f7fc6" stroke="#1b2b85" stroke-width="10"/></g><g><path d="M1285,164 L1285,734 A26,14 0 0 0 1337,734 L1337,164 A26,14 0 0 0 1285,164 Z" fill="url(#rg)" stroke="#666666" stroke-width="2.4"/><ellipse cx="1311" cy="164" rx="26" ry="14" fill="url(#rt)" stroke="#666666" stroke-width="2.4"/></g><g><path d="M1540,313.5 L1540,883.5 A25,13.5 0 0 0 1590,883.5 L1590,313.5 A25,13.5 0 0 0 1540,313.5 Z" fill="url(#rg)" stroke="#666666" stroke-width="2.4"/><ellipse cx="1565" cy="313.5" rx="25" ry="13.5" fill="url(#rt)" stroke="#666666" stroke-width="2.4"/></g><g><path d="M955,424 L955,926 A26,14 0 0 0 1007,926 L1007,424 A26,14 0 0 0 955,424 Z" fill="url(#rg)" stroke="#666666" stroke-width="2.4"/><ellipse cx="981" cy="424" rx="26" ry="14" fill="url(#rt)" stroke="#666666" stroke-width="2.4"/></g><g><path d="M1212,569 L1212,1071 A26,14 0 0 0 1264,1071 L1264,569 A26,14 0 0 0 1212,569 Z" fill="url(#rg)" stroke="#666666" stroke-width="2.4"/><ellipse cx="1238" cy="569" rx="26" ry="14" fill="url(#rt)" stroke="#666666" stroke-width="2.4"/></g><g><path d="M628,614 L628,1116 A26,14 0 0 0 680,1116 L680,614 A26,14 0 0 0 628,614 Z" fill="url(#rg)" stroke="#666666" stroke-width="2.4"/><ellipse cx="654" cy="614" rx="26" ry="14" fill="url(#rt)" stroke="#666666" stroke-width="2.4"/></g><g><path d="M882,759 L882,1261 A26,14 0 0 0 934,1261 L934,759 A26,14 0 0 0 882,759 Z" fill="url(#rg)" stroke="#666666" stroke-width="2.4"/><ellipse cx="908" cy="759" rx="26" ry="14" fill="url(#rt)" stroke="#666666" stroke-width="2.4"/></g><g><path d="M300,804 L300,1306 A26,14 0 0 0 352,1306 L352,804 A26,14 0 0 0 300,804 Z" fill="url(#rg)" stroke="#666666" stroke-width="2.4"/><ellipse cx="326" cy="804" rx="26" ry="14" fill="url(#rt)" stroke="#666666" stroke-width="2.4"/></g><g><path d="M225,1139 L225,1486 A26,14 0 0 0 277,1486 L277,1139 A26,14 0 0 0 225,1139 Z" fill="url(#rg)" stroke="#666666" stroke-width="2.4"/><ellipse cx="251" cy="1139" rx="26" ry="14" fill="url(#rt)" stroke="#666666" stroke-width="2.4"/></g><g><path d="M555,949 L555,1453 A26,14 0 0 0 607,1453 L607,949 A26,14 0 0 0 555,949 Z" fill="url(#rg)" stroke="#666666" stroke-width="2.4"/><ellipse cx="581" cy="949" rx="26" ry="14" fill="url(#rt)" stroke="#666666" stroke-width="2.4"/></g></g></g><circle cx="2256" cy="902.5" r="231" fill="none" stroke="#111" stroke-width="4.1"/>
<g clip-path="url(#cp2b)"><rect x="2022.9" y="1624.9" width="466" height="466" fill="#dfe1e0"/><g transform="translate(2000,1600) scale(0.30612)"><ellipse cx="842" cy="288" rx="84" ry="194" transform="rotate(25 842 288)" fill="#d3d5d4" stroke="#555" stroke-width="2.5"/><ellipse cx="852" cy="290" rx="78.0" ry="186.0" transform="rotate(25 852 290)" fill="#ffe01b" stroke="#333" stroke-width="2"/><polygon points="930.6,121.4 1318.6,317.4 1161.4,654.6 773.4,458.6" fill="#ffe01b"/><line x1="930.6" y1="121.4" x2="1318.6" y2="317.4" stroke="#333" stroke-width="2"/><line x1="773.4" y1="458.6" x2="1161.4" y2="654.6" stroke="#333" stroke-width="2"/><path d="M948.2,130.3 A78.0,186.0 25 0 0 791,467.5" fill="none" stroke="#2a2a2a" stroke-width="2.2"/><path d="M965.9,139.2 A78.0,186.0 25 0 0 808.7,476.4" fill="none" stroke="#2a2a2a" stroke-width="2.2"/><path d="M983.5,148.2 A78.0,186.0 25 0 0 826.3,485.3" fill="none" stroke="#2a2a2a" stroke-width="2.2"/><path d="M1001.2,157.1 A78.0,186.0 25 0 0 843.9,494.2" fill="none" stroke="#2a2a2a" stroke-width="2.2"/><path d="M1018.8,166 A78.0,186.0 25 0 0 861.6,503.1" fill="none" stroke="#2a2a2a" stroke-width="2.2"/><path d="M1036.4,174.9 A78.0,186.0 25 0 0 879.2,512" fill="none" stroke="#2a2a2a" stroke-width="2.2"/><path d="M1054.1,183.8 A78.0,186.0 25 0 0 896.8,520.9" fill="none" stroke="#2a2a2a" stroke-width="2.2"/><path d="M1071.7,192.7 A78.0,186.0 25 0 0 914.5,529.8" fill="none" stroke="#2a2a2a" stroke-width="2.2"/><path d="M1089.3,201.6 A78.0,186.0 25 0 0 932.1,538.8" fill="none" stroke="#2a2a2a" stroke-width="2.2"/><path d="M1107,210.5 A78.0,186.0 25 0 0 949.8,547.7" fill="none" stroke="#2a2a2a" stroke-width="2.2"/><path d="M1124.6,219.4 A78.0,186.0 25 0 0 967.4,556.6" fill="none" stroke="#2a2a2a" stroke-width="2.2"/><path d="M1142.2,228.3 A78.0,186.0 25 0 0 985,565.5" fill="none" stroke="#2a2a2a" stroke-width="2.2"/><path d="M1159.9,237.2 A78.0,186.0 25 0 0 1002.7,574.4" fill="none" stroke="#2a2a2a" stroke-width="2.2"/><path d="M1177.5,246.2 A78.0,186.0 25 0 0 1020.3,583.3" fill="none" stroke="#2a2a2a" stroke-width="2.2"/><path d="M1195.2,255.1 A78.0,186.0 25 0 0 1037.9,592.2" fill="none" stroke="#2a2a2a" stroke-width="2.2"/><path d="M1212.8,264 A78.0,186.0 25 0 0 1055.6,601.1" fill="none" stroke="#2a2a2a" stroke-width="2.2"/><path d="M1230.4,272.9 A78.0,186.0 25 0 0 1073.2,610" fill="none" stroke="#2a2a2a" stroke-width="2.2"/><path d="M1248.1,281.8 A78.0,186.0 25 0 0 1090.8,618.9" fill="none" stroke="#2a2a2a" stroke-width="2.2"/><path d="M1265.7,290.7 A78.0,186.0 25 0 0 1108.5,627.8" fill="none" stroke="#2a2a2a" stroke-width="2.2"/><path d="M1283.3,299.6 A78.0,186.0 25 0 0 1126.1,636.8" fill="none" stroke="#2a2a2a" stroke-width="2.2"/><path d="M1301,308.5 A78.0,186.0 25 0 0 1143.8,645.7" fill="none" stroke="#2a2a2a" stroke-width="2.2"/><path d="M1318.6,317.4 A78.0,186.0 25 0 0 1161.4,654.6" fill="none" stroke="#2a2a2a" stroke-width="2.2"/><ellipse cx="1290" cy="510" rx="138" ry="204" transform="rotate(25 1290 510)" fill="#d0d2d1" stroke="#444" stroke-width="2.5"/><ellipse cx="1288" cy="512" rx="47" ry="68" transform="rotate(25 1288 512)" fill="#111"/><path d="M1150,650C1141.7,653.7 1116.7,662.8 1100,672C1083.3,681.2 1066.7,688.7 1050,705C1033.3,721.3 1018.3,747.5 1000,770C981.7,792.5 960,818.3 940,840C920,861.7 898.3,880.8 880,900C861.7,919.2 845,938.7 830,955C815,971.3 811.7,981.7 790,998C768.3,1014.3 731.7,1034.7 700,1053C668.3,1071.3 633.3,1089.7 600,1108C566.7,1126.3 533.3,1145 500,1163C466.7,1181 430,1201.2 400,1216C370,1230.8 345.7,1242 320,1252C294.3,1262 258.3,1272 246,1276" fill="none" stroke="#3a3a2a" stroke-width="22.2" stroke-linecap="butt" stroke-linejoin="round" /><path d="M1150,650C1141.7,653.7 1116.7,662.8 1100,672C1083.3,681.2 1066.7,688.7 1050,705C1033.3,721.3 1018.3,747.5 1000,770C981.7,792.5 960,818.3 940,840C920,861.7 898.3,880.8 880,900C861.7,919.2 845,938.7 830,955C815,971.3 811.7,981.7 790,998C768.3,1014.3 731.7,1034.7 700,1053C668.3,1071.3 633.3,1089.7 600,1108C566.7,1126.3 533.3,1145 500,1163C466.7,1181 430,1201.2 400,1216C370,1230.8 345.7,1242 320,1252C294.3,1262 258.3,1272 246,1276" fill="none" stroke="#ffe01b" stroke-width="19" stroke-linecap="butt" stroke-linejoin="round" /><ellipse cx="245" cy="1277" rx="6" ry="10" fill="#222" transform="rotate(20 245 1277)"/><line x1="1032" y1="678" x2="1108" y2="727" stroke="#222" stroke-width="3.5" stroke-dasharray="4 9"/><line x1="130" y1="1085" x2="990" y2="620" stroke="#e1251b" stroke-width="8"/><line x1="132" y1="1052" x2="196" y2="1112" stroke="#e1251b" stroke-width="8"/><line x1="932" y1="596" x2="1000" y2="660" stroke="#e1251b" stroke-width="8"/><text transform="translate(619,810) rotate(-28.4)" x="0" y="0" font-family="Liberation Sans, sans-serif" font-weight="bold" font-size="134" letter-spacing="2" text-anchor="middle" fill="#e1251b" stroke="#e1251b" stroke-width="3">ca. 15m</text><polygon points="1128,798 1268,795 1284,822 1262,822" fill="#a9abaa" stroke="#888" stroke-width="1.5"/><polygon points="1143,738 1282,800 1284,822 1250,812" fill="#d0d2d1" stroke="#888" stroke-width="1.5"/><path d="M1273,812 L1345,792" stroke="#5a80d2" stroke-width="22" stroke-linecap="round"/><path d="M1273,812 L1332,868" stroke="#5a80d2" stroke-width="22" stroke-linecap="round"/><ellipse cx="1398" cy="783" rx="50" ry="26" transform="rotate(-16 1398 783)" fill="#b5c8ee" stroke="#5a80d2" stroke-width="17"/><ellipse cx="1372" cy="900" rx="46" ry="27" transform="rotate(38 1372 900)" fill="#b5c8ee" stroke="#5a80d2" stroke-width="17"/><circle cx="1273" cy="812" r="9" fill="#111"/></g></g><circle cx="2255.9" cy="1857.9" r="231" fill="none" stroke="#111" stroke-width="4.1"/>
<line x1="1821.4" y1="514.1" x2="1790.1" y2="304.9" stroke="#111" stroke-width="3.6" />
<circle cx="1830.6" cy="599.3" r="85.8" fill="none" stroke="#111" stroke-width="3.8"/>
<g clip-path="url(#cp7)"><rect x="1695.7" y="130.6" width="176.8" height="176.8" fill="#aeb1b0"/><g transform="translate(1453.5,-0.3) scale(0.30612)"><g><path d="M210,313.5 L210,756.5 A25,13.5 0 0 0 260,756.5 L260,313.5 A25,13.5 0 0 0 210,313.5 Z" fill="url(#rg)" stroke="#666666" stroke-width="2.4"/><ellipse cx="235" cy="313.5" rx="25" ry="13.5" fill="url(#rt)" stroke="#666666" stroke-width="2.4"/></g><g><path d="M537,446 L537,946 A26,14 0 0 0 589,946 L589,446 A26,14 0 0 0 537,446 Z" fill="url(#rg)" stroke="#666666" stroke-width="2.4"/><ellipse cx="563" cy="446" rx="26" ry="14" fill="url(#rt)" stroke="#666666" stroke-width="2.4"/></g><g><path d="M865,636 L865,1136 A26,14 0 0 0 917,1136 L917,636 A26,14 0 0 0 865,636 Z" fill="url(#rg)" stroke="#666666" stroke-width="2.4"/><ellipse cx="891" cy="636" rx="26" ry="14" fill="url(#rt)" stroke="#666666" stroke-width="2.4"/></g><g><path d="M1193,826 L1193,1326 A26,14 0 0 0 1245,1326 L1245,826 A26,14 0 0 0 1193,826 Z" fill="url(#rg)" stroke="#666666" stroke-width="2.4"/><ellipse cx="1219" cy="826" rx="26" ry="14" fill="url(#rt)" stroke="#666666" stroke-width="2.4"/></g><g><path d="M1520,1017 L1520,1386 A26,14 0 0 0 1572,1386 L1572,1017 A26,14 0 0 0 1520,1017 Z" fill="url(#rg)" stroke="#666666" stroke-width="2.4"/><ellipse cx="1546" cy="1017" rx="26" ry="14" fill="url(#rt)" stroke="#666666" stroke-width="2.4"/></g><path d="M1198.5,1045C1191.7,1028.8 1168.5,978.6 1157.7,947.6C1146.9,916.6 1137.7,873.5 1133.7,858.7" fill="none" stroke="#f3cf00" stroke-width="38.4" stroke-linecap="butt" stroke-linejoin="round" /><path d="M1198.5,1045C1191.7,1028.8 1168.5,978.6 1157.7,947.6C1146.9,916.6 1137.7,873.5 1133.7,858.7" fill="none" stroke="#ffe01b" stroke-width="36" stroke-linecap="butt" stroke-linejoin="round" /><path d="M1135,866C1134.2,860.3 1131.2,837.7 1130.5,832" fill="none" stroke="#1c1c1c" stroke-width="40" stroke-linecap="butt" stroke-linejoin="round" /><path d="M1130.5,832C1131,814.2 1135.3,755.4 1133.7,725.3C1132.1,695.2 1128.4,673.5 1120.7,651.3C1113,629.1 1098.8,605.6 1087.4,592C1076,578.4 1058.1,573.5 1052.2,569.8" fill="none" stroke="#e1261c" stroke-width="29" stroke-linecap="round" stroke-linejoin="round" /><path d="M737,754C739.8,746.1 745.6,727 754,706.8C762.4,686.6 772.6,655.5 787.4,632.7C802.2,609.9 826.2,584 842.9,569.8C859.6,555.6 872,551.3 887.4,547.6C902.8,543.9 927.1,547.6 935,547.6" fill="none" stroke="#1b8fd2" stroke-width="28" stroke-linecap="butt" stroke-linejoin="round" /><ellipse cx="1022" cy="547" rx="44" ry="76" transform="rotate(-23 1022 547)" fill="#c9cbca" stroke="#8a8a8a" stroke-width="2"/><polygon points="946.6,506.8 992.6,476.8 1067.4,617 1021.4,647.6" fill="#c9cbca"/><path d="M946.6,506.8 L992.6,476.8 M1021.4,647.6 L1067.4,617" stroke="#8a8a8a" stroke-width="2" fill="none"/><ellipse cx="976" cy="577" rx="44" ry="76" transform="rotate(-23 976 577)" fill="#f9f3b9" stroke="#a9a472" stroke-width="2.2"/><ellipse cx="969" cy="577" rx="12" ry="18" transform="rotate(-23 969 577)" fill="#efe68e" stroke="#8f8a52" stroke-width="2"/><g><path d="M282,594 L282,1091 A26,14 0 0 0 334,1091 L334,594 A26,14 0 0 0 282,594 Z" fill="url(#rg)" stroke="#666666" stroke-width="2.4"/><ellipse cx="308" cy="594" rx="26" ry="14" fill="url(#rt)" stroke="#666666" stroke-width="2.4"/></g><g><path d="M612,782 L612,1284 A26,14 0 0 0 664,1284 L664,782 A26,14 0 0 0 612,782 Z" fill="url(#rg)" stroke="#666666" stroke-width="2.4"/><ellipse cx="638" cy="782" rx="26" ry="14" fill="url(#rt)" stroke="#666666" stroke-width="2.4"/></g><g><path d="M940,972 L940,1476 A26,14 0 0 0 992,1476 L992,972 A26,14 0 0 0 940,972 Z" fill="url(#rg)" stroke="#666666" stroke-width="2.4"/><ellipse cx="966" cy="972" rx="26" ry="14" fill="url(#rt)" stroke="#666666" stroke-width="2.4"/></g><g><path d="M1267,1162 L1267,1546 A26,14 0 0 0 1319,1546 L1319,1162 A26,14 0 0 0 1267,1162 Z" fill="url(#rg)" stroke="#666666" stroke-width="2.4"/><ellipse cx="1293" cy="1162" rx="26" ry="14" fill="url(#rt)" stroke="#666666" stroke-width="2.4"/></g></g></g><circle cx="1784.1" cy="219" r="86.4" fill="none" stroke="#111" stroke-width="3.8"/>
<circle cx="508.4" cy="1516.1" r="37" fill="#fff" stroke="#111" stroke-width="2.7"/><text x="508.4" y="1541.1" font-family="Liberation Serif, serif" font-size="75" text-anchor="middle" fill="#111">8</text>
<circle cx="993.2" cy="1807.6" r="37" fill="#fff" stroke="#111" stroke-width="2.7"/><text x="993.2" y="1832.6" font-family="Liberation Serif, serif" font-size="75" text-anchor="middle" fill="#111">3</text>
<circle cx="1509.2" cy="2052.4" r="37" fill="#fff" stroke="#111" stroke-width="2.7"/><text x="1509.2" y="2077.4" font-family="Liberation Serif, serif" font-size="75" text-anchor="middle" fill="#111">4</text>
<circle cx="1514" cy="490.9" r="37" fill="#fff" stroke="#111" stroke-width="2.7"/><text x="1514" y="515.9" font-family="Liberation Serif, serif" font-size="75" text-anchor="middle" fill="#111">5</text>
<circle cx="1973" cy="834" r="37" fill="#fff" stroke="#111" stroke-width="2.7"/><text x="1973" y="859" font-family="Liberation Serif, serif" font-size="75" text-anchor="middle" fill="#111">6</text>
<circle cx="1878.2" cy="308.8" r="37" fill="#fff" stroke="#111" stroke-width="2.7"/><text x="1878.2" y="333.8" font-family="Liberation Serif, serif" font-size="75" text-anchor="middle" fill="#111">7</text>
<circle cx="2457" cy="494.5" r="37" fill="#fff" stroke="#111" stroke-width="2.7"/><text x="2457" y="519.5" font-family="Liberation Serif, serif" font-size="75" text-anchor="middle" fill="#111">2</text>
<circle cx="2457.6" cy="1090" r="37" fill="#fff" stroke="#111" stroke-width="2.7"/><text x="2457.6" y="1115" font-family="Liberation Serif, serif" font-size="75" text-anchor="middle" fill="#111">1</text>
<circle cx="2457" cy="2047.6" r="37" fill="#fff" stroke="#111" stroke-width="2.7"/><text x="2457" y="2072.6" font-family="Liberation Serif, serif" font-size="75" text-anchor="middle" fill="#111">2</text></svg>
</body></html>
